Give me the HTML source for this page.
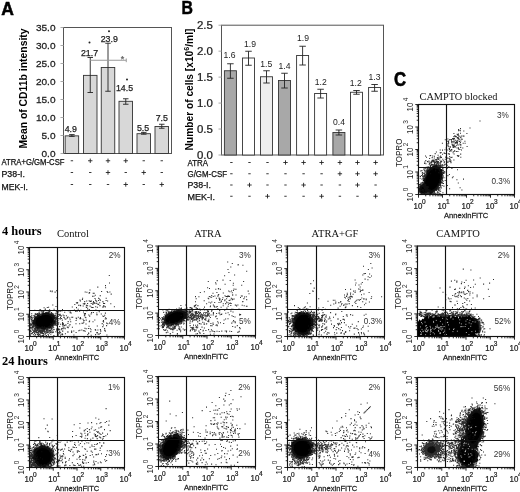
<!DOCTYPE html>
<html><head><meta charset="utf-8"><title>Figure</title>
<style>html,body{margin:0;padding:0;background:#fff}svg{display:block;filter:blur(0.35px)}</style></head>
<body><svg width="520" height="492" viewBox="0 0 520 492">
<defs><filter id="bl" x="-30%" y="-30%" width="160%" height="160%"><feGaussianBlur stdDeviation="0.5"/></filter></defs>
<rect width="520" height="492" fill="#fff"/>
<text x="1.20" y="15.30" font-family="Liberation Sans, Arial, sans-serif" font-size="17.5" font-weight="bold" text-anchor="start" fill="#000" stroke="#000" stroke-width="0.5">A</text>
<rect x="63.50" y="27.50" width="108.00" height="126.00" fill="none" stroke="#555" stroke-width="1"/>
<line x1="60.50" y1="153.50" x2="63.50" y2="153.50" stroke="#aaa" stroke-width="1"/>
<text transform="translate(55.50 156.87) scale(1.07 1)" font-family="Liberation Sans, Arial, sans-serif" font-size="9.4" font-weight="normal" text-anchor="end" fill="#222"  stroke="#222" stroke-width="0.25">0.0</text>
<line x1="60.50" y1="135.50" x2="63.50" y2="135.50" stroke="#aaa" stroke-width="1"/>
<text transform="translate(55.50 138.87) scale(1.07 1)" font-family="Liberation Sans, Arial, sans-serif" font-size="9.4" font-weight="normal" text-anchor="end" fill="#222"  stroke="#222" stroke-width="0.25">5.0</text>
<line x1="60.50" y1="117.50" x2="63.50" y2="117.50" stroke="#aaa" stroke-width="1"/>
<text transform="translate(55.50 120.87) scale(1.07 1)" font-family="Liberation Sans, Arial, sans-serif" font-size="9.4" font-weight="normal" text-anchor="end" fill="#222"  stroke="#222" stroke-width="0.25">10.0</text>
<line x1="60.50" y1="99.50" x2="63.50" y2="99.50" stroke="#aaa" stroke-width="1"/>
<text transform="translate(55.50 102.87) scale(1.07 1)" font-family="Liberation Sans, Arial, sans-serif" font-size="9.4" font-weight="normal" text-anchor="end" fill="#222"  stroke="#222" stroke-width="0.25">15.0</text>
<line x1="60.50" y1="81.50" x2="63.50" y2="81.50" stroke="#aaa" stroke-width="1"/>
<text transform="translate(55.50 84.87) scale(1.07 1)" font-family="Liberation Sans, Arial, sans-serif" font-size="9.4" font-weight="normal" text-anchor="end" fill="#222"  stroke="#222" stroke-width="0.25">20.0</text>
<line x1="60.50" y1="63.50" x2="63.50" y2="63.50" stroke="#aaa" stroke-width="1"/>
<text transform="translate(55.50 66.87) scale(1.07 1)" font-family="Liberation Sans, Arial, sans-serif" font-size="9.4" font-weight="normal" text-anchor="end" fill="#222"  stroke="#222" stroke-width="0.25">25.0</text>
<line x1="60.50" y1="45.50" x2="63.50" y2="45.50" stroke="#aaa" stroke-width="1"/>
<text transform="translate(55.50 48.87) scale(1.07 1)" font-family="Liberation Sans, Arial, sans-serif" font-size="9.4" font-weight="normal" text-anchor="end" fill="#222"  stroke="#222" stroke-width="0.25">30.0</text>
<line x1="60.50" y1="27.50" x2="63.50" y2="27.50" stroke="#aaa" stroke-width="1"/>
<text transform="translate(55.50 30.87) scale(1.07 1)" font-family="Liberation Sans, Arial, sans-serif" font-size="9.4" font-weight="normal" text-anchor="end" fill="#222"  stroke="#222" stroke-width="0.25">35.0</text>
<text transform="translate(26.50 88.50) rotate(-90) scale(1.0 1)" font-family="Liberation Sans, Arial, sans-serif" font-size="10.4" font-weight="bold" text-anchor="middle" fill="#000">Mean of CD11b intensity</text>
<rect x="65.15" y="135.86" width="13.50" height="17.64" fill="#d8d8d8" stroke="#333" stroke-width="0.9"/>
<line x1="71.90" y1="134.60" x2="71.90" y2="136.40" stroke="#222" stroke-width="0.9"/>
<line x1="69.15" y1="134.60" x2="74.65" y2="134.60" stroke="#222" stroke-width="0.9"/>
<line x1="69.15" y1="136.40" x2="74.65" y2="136.40" stroke="#222" stroke-width="0.9"/>
<text x="70.75" y="131.90" font-family="Liberation Sans, Arial, sans-serif" font-size="8.8" font-weight="normal" text-anchor="middle" fill="#222"  stroke="#222" stroke-width="0.25">4.9</text>
<rect x="83.50" y="75.38" width="13.50" height="78.12" fill="#d8d8d8" stroke="#333" stroke-width="0.9"/>
<line x1="90.25" y1="57.50" x2="90.25" y2="92.50" stroke="#222" stroke-width="0.9"/>
<line x1="87.50" y1="57.50" x2="93.00" y2="57.50" stroke="#222" stroke-width="0.9"/>
<line x1="87.50" y1="92.50" x2="93.00" y2="92.50" stroke="#222" stroke-width="0.9"/>
<text x="89.50" y="56.15" font-family="Liberation Sans, Arial, sans-serif" font-size="8.8" font-weight="normal" text-anchor="middle" fill="#222"  stroke="#222" stroke-width="0.25">21.7</text>
<rect x="101.25" y="67.46" width="13.50" height="86.04" fill="#d8d8d8" stroke="#333" stroke-width="0.9"/>
<line x1="108.00" y1="43.25" x2="108.00" y2="91.25" stroke="#222" stroke-width="0.9"/>
<line x1="105.25" y1="43.25" x2="110.75" y2="43.25" stroke="#222" stroke-width="0.9"/>
<line x1="105.25" y1="91.25" x2="110.75" y2="91.25" stroke="#222" stroke-width="0.9"/>
<text x="109.25" y="41.90" font-family="Liberation Sans, Arial, sans-serif" font-size="8.8" font-weight="normal" text-anchor="middle" fill="#222"  stroke="#222" stroke-width="0.25">23.9</text>
<rect x="119.00" y="101.30" width="13.50" height="52.20" fill="#d8d8d8" stroke="#333" stroke-width="0.9"/>
<line x1="125.75" y1="98.75" x2="125.75" y2="104.25" stroke="#222" stroke-width="0.9"/>
<line x1="123.00" y1="98.75" x2="128.50" y2="98.75" stroke="#222" stroke-width="0.9"/>
<line x1="123.00" y1="104.25" x2="128.50" y2="104.25" stroke="#222" stroke-width="0.9"/>
<text x="124.50" y="91.40" font-family="Liberation Sans, Arial, sans-serif" font-size="8.8" font-weight="normal" text-anchor="middle" fill="#222"  stroke="#222" stroke-width="0.25">14.5</text>
<rect x="137.00" y="133.70" width="13.50" height="19.80" fill="#d8d8d8" stroke="#333" stroke-width="0.9"/>
<line x1="143.75" y1="132.40" x2="143.75" y2="134.20" stroke="#222" stroke-width="0.9"/>
<line x1="141.00" y1="132.40" x2="146.50" y2="132.40" stroke="#222" stroke-width="0.9"/>
<line x1="141.00" y1="134.20" x2="146.50" y2="134.20" stroke="#222" stroke-width="0.9"/>
<text x="143.00" y="130.65" font-family="Liberation Sans, Arial, sans-serif" font-size="8.8" font-weight="normal" text-anchor="middle" fill="#222"  stroke="#222" stroke-width="0.25">5.5</text>
<rect x="155.00" y="126.50" width="13.50" height="27.00" fill="#d8d8d8" stroke="#333" stroke-width="0.9"/>
<line x1="161.75" y1="124.25" x2="161.75" y2="128.25" stroke="#222" stroke-width="0.9"/>
<line x1="159.00" y1="124.25" x2="164.50" y2="124.25" stroke="#222" stroke-width="0.9"/>
<line x1="159.00" y1="128.25" x2="164.50" y2="128.25" stroke="#222" stroke-width="0.9"/>
<text x="161.75" y="120.65" font-family="Liberation Sans, Arial, sans-serif" font-size="8.8" font-weight="normal" text-anchor="middle" fill="#222"  stroke="#222" stroke-width="0.25">7.5</text>
<line x1="90.25" y1="60.25" x2="126.25" y2="60.25" stroke="#999" stroke-width="1"/>
<line x1="126.25" y1="58.50" x2="126.25" y2="62.20" stroke="#999" stroke-width="1"/>
<text x="122.50" y="61.50" font-family="Liberation Sans, Arial, sans-serif" font-size="9" font-weight="normal" text-anchor="middle" fill="#666"  stroke="#666" stroke-width="0.25">*</text>
<circle cx="89.5" cy="42.5" r="1.0" fill="#222"/>
<circle cx="109" cy="31.25" r="1.0" fill="#222"/>
<circle cx="127" cy="79.5" r="1.0" fill="#222"/>
<text x="1.50" y="164.83" font-family="Liberation Sans, Arial, sans-serif" font-size="8.6" font-weight="normal" text-anchor="start" fill="#111" textLength="63" lengthAdjust="spacingAndGlyphs" stroke="#111" stroke-width="0.25">ATRA+G/GM-CSF</text>
<text x="1.50" y="177.04" font-family="Liberation Sans, Arial, sans-serif" font-size="9.2" font-weight="normal" text-anchor="start" fill="#111" textLength="23.5" lengthAdjust="spacingAndGlyphs" stroke="#111" stroke-width="0.25">P38-I.</text>
<text x="1.50" y="189.54" font-family="Liberation Sans, Arial, sans-serif" font-size="9.2" font-weight="normal" text-anchor="start" fill="#111" textLength="26.5" lengthAdjust="spacingAndGlyphs" stroke="#111" stroke-width="0.25">MEK-I.</text>
<line x1="70.70" y1="160.75" x2="73.10" y2="160.75" stroke="#222" stroke-width="0.9"/>
<line x1="88.05" y1="160.75" x2="92.45" y2="160.75" stroke="#222" stroke-width="0.9"/>
<line x1="90.25" y1="158.55" x2="90.25" y2="162.95" stroke="#222" stroke-width="0.9"/>
<line x1="105.80" y1="160.75" x2="110.20" y2="160.75" stroke="#222" stroke-width="0.9"/>
<line x1="108.00" y1="158.55" x2="108.00" y2="162.95" stroke="#222" stroke-width="0.9"/>
<line x1="123.55" y1="160.75" x2="127.95" y2="160.75" stroke="#222" stroke-width="0.9"/>
<line x1="125.75" y1="158.55" x2="125.75" y2="162.95" stroke="#222" stroke-width="0.9"/>
<line x1="142.55" y1="160.75" x2="144.95" y2="160.75" stroke="#222" stroke-width="0.9"/>
<line x1="160.55" y1="160.75" x2="162.95" y2="160.75" stroke="#222" stroke-width="0.9"/>
<line x1="70.70" y1="172.50" x2="73.10" y2="172.50" stroke="#222" stroke-width="0.9"/>
<line x1="89.05" y1="172.50" x2="91.45" y2="172.50" stroke="#222" stroke-width="0.9"/>
<line x1="105.80" y1="172.50" x2="110.20" y2="172.50" stroke="#222" stroke-width="0.9"/>
<line x1="108.00" y1="170.30" x2="108.00" y2="174.70" stroke="#222" stroke-width="0.9"/>
<line x1="124.55" y1="172.50" x2="126.95" y2="172.50" stroke="#222" stroke-width="0.9"/>
<line x1="141.55" y1="172.50" x2="145.95" y2="172.50" stroke="#222" stroke-width="0.9"/>
<line x1="143.75" y1="170.30" x2="143.75" y2="174.70" stroke="#222" stroke-width="0.9"/>
<line x1="160.55" y1="172.50" x2="162.95" y2="172.50" stroke="#222" stroke-width="0.9"/>
<line x1="70.70" y1="184.50" x2="73.10" y2="184.50" stroke="#222" stroke-width="0.9"/>
<line x1="89.05" y1="184.50" x2="91.45" y2="184.50" stroke="#222" stroke-width="0.9"/>
<line x1="106.80" y1="184.50" x2="109.20" y2="184.50" stroke="#222" stroke-width="0.9"/>
<line x1="123.55" y1="184.50" x2="127.95" y2="184.50" stroke="#222" stroke-width="0.9"/>
<line x1="125.75" y1="182.30" x2="125.75" y2="186.70" stroke="#222" stroke-width="0.9"/>
<line x1="142.55" y1="184.50" x2="144.95" y2="184.50" stroke="#222" stroke-width="0.9"/>
<line x1="159.55" y1="184.50" x2="163.95" y2="184.50" stroke="#222" stroke-width="0.9"/>
<line x1="161.75" y1="182.30" x2="161.75" y2="186.70" stroke="#222" stroke-width="0.9"/>
<text transform="translate(181.40 13.60) scale(0.9 1)" font-family="Liberation Sans, Arial, sans-serif" font-size="17.6" font-weight="bold" text-anchor="start" fill="#000" stroke="#000" stroke-width="0.5">B</text>
<rect x="221.50" y="25.20" width="162.00" height="129.80" fill="none" stroke="#555" stroke-width="1"/>
<line x1="218.50" y1="155.00" x2="221.50" y2="155.00" stroke="#aaa" stroke-width="1"/>
<text transform="translate(212.80 158.72) scale(1.1 1)" font-family="Liberation Sans, Arial, sans-serif" font-size="10.4" font-weight="normal" text-anchor="end" fill="#222"  stroke="#222" stroke-width="0.25">0.0</text>
<line x1="218.50" y1="129.04" x2="221.50" y2="129.04" stroke="#aaa" stroke-width="1"/>
<text transform="translate(212.80 132.76) scale(1.1 1)" font-family="Liberation Sans, Arial, sans-serif" font-size="10.4" font-weight="normal" text-anchor="end" fill="#222"  stroke="#222" stroke-width="0.25">0.5</text>
<line x1="218.50" y1="103.08" x2="221.50" y2="103.08" stroke="#aaa" stroke-width="1"/>
<text transform="translate(212.80 106.80) scale(1.1 1)" font-family="Liberation Sans, Arial, sans-serif" font-size="10.4" font-weight="normal" text-anchor="end" fill="#222"  stroke="#222" stroke-width="0.25">1.0</text>
<line x1="218.50" y1="77.12" x2="221.50" y2="77.12" stroke="#aaa" stroke-width="1"/>
<text transform="translate(212.80 80.84) scale(1.1 1)" font-family="Liberation Sans, Arial, sans-serif" font-size="10.4" font-weight="normal" text-anchor="end" fill="#222"  stroke="#222" stroke-width="0.25">1.5</text>
<line x1="218.50" y1="51.16" x2="221.50" y2="51.16" stroke="#aaa" stroke-width="1"/>
<text transform="translate(212.80 54.88) scale(1.1 1)" font-family="Liberation Sans, Arial, sans-serif" font-size="10.4" font-weight="normal" text-anchor="end" fill="#222"  stroke="#222" stroke-width="0.25">2.0</text>
<line x1="218.50" y1="25.20" x2="221.50" y2="25.20" stroke="#aaa" stroke-width="1"/>
<text transform="translate(212.80 28.92) scale(1.1 1)" font-family="Liberation Sans, Arial, sans-serif" font-size="10.4" font-weight="normal" text-anchor="end" fill="#222"  stroke="#222" stroke-width="0.25">2.5</text>
<text transform="translate(193.00 89.50) rotate(-90) scale(1.0 1)" font-family="Liberation Sans, Arial, sans-serif" font-size="10.2" font-weight="bold" text-anchor="middle" fill="#000">Number of cells [x10<tspan font-size="7.2" dy="-3.6">6</tspan><tspan dy="3.6">/ml]</tspan></text>
<rect x="224.40" y="70.75" width="12.00" height="84.25" fill="#a8a8a8" stroke="#333" stroke-width="0.9"/>
<line x1="230.40" y1="63.75" x2="230.40" y2="78.25" stroke="#222" stroke-width="0.9"/>
<line x1="227.15" y1="63.75" x2="233.65" y2="63.75" stroke="#222" stroke-width="0.9"/>
<line x1="227.15" y1="78.25" x2="233.65" y2="78.25" stroke="#222" stroke-width="0.9"/>
<text x="229.50" y="57.98" font-family="Liberation Sans, Arial, sans-serif" font-size="8.6" font-weight="normal" text-anchor="middle" fill="#222" >1.6</text>
<rect x="242.50" y="58.00" width="12.00" height="97.00" fill="#fff" stroke="#333" stroke-width="0.9"/>
<line x1="248.50" y1="51.25" x2="248.50" y2="65.25" stroke="#222" stroke-width="0.9"/>
<line x1="245.25" y1="51.25" x2="251.75" y2="51.25" stroke="#222" stroke-width="0.9"/>
<line x1="245.25" y1="65.25" x2="251.75" y2="65.25" stroke="#222" stroke-width="0.9"/>
<text x="250.00" y="46.98" font-family="Liberation Sans, Arial, sans-serif" font-size="8.6" font-weight="normal" text-anchor="middle" fill="#222" >1.9</text>
<rect x="260.50" y="76.75" width="12.00" height="78.25" fill="#eeeeee" stroke="#333" stroke-width="0.9"/>
<line x1="266.50" y1="70.75" x2="266.50" y2="83.00" stroke="#222" stroke-width="0.9"/>
<line x1="263.25" y1="70.75" x2="269.75" y2="70.75" stroke="#222" stroke-width="0.9"/>
<line x1="263.25" y1="83.00" x2="269.75" y2="83.00" stroke="#222" stroke-width="0.9"/>
<text x="266.25" y="66.98" font-family="Liberation Sans, Arial, sans-serif" font-size="8.6" font-weight="normal" text-anchor="middle" fill="#222" >1.5</text>
<rect x="278.50" y="80.50" width="12.00" height="74.50" fill="#a8a8a8" stroke="#333" stroke-width="0.9"/>
<line x1="284.50" y1="73.25" x2="284.50" y2="88.00" stroke="#222" stroke-width="0.9"/>
<line x1="281.25" y1="73.25" x2="287.75" y2="73.25" stroke="#222" stroke-width="0.9"/>
<line x1="281.25" y1="88.00" x2="287.75" y2="88.00" stroke="#222" stroke-width="0.9"/>
<text x="284.50" y="69.48" font-family="Liberation Sans, Arial, sans-serif" font-size="8.6" font-weight="normal" text-anchor="middle" fill="#222" >1.4</text>
<rect x="296.60" y="55.50" width="12.00" height="99.50" fill="#fff" stroke="#333" stroke-width="0.9"/>
<line x1="302.60" y1="46.25" x2="302.60" y2="65.00" stroke="#222" stroke-width="0.9"/>
<line x1="299.35" y1="46.25" x2="305.85" y2="46.25" stroke="#222" stroke-width="0.9"/>
<line x1="299.35" y1="65.00" x2="305.85" y2="65.00" stroke="#222" stroke-width="0.9"/>
<text x="303.00" y="41.23" font-family="Liberation Sans, Arial, sans-serif" font-size="8.6" font-weight="normal" text-anchor="middle" fill="#222" >1.9</text>
<rect x="314.60" y="93.50" width="12.00" height="61.50" fill="#fff" stroke="#333" stroke-width="0.9"/>
<line x1="320.60" y1="89.25" x2="320.60" y2="98.00" stroke="#222" stroke-width="0.9"/>
<line x1="317.35" y1="89.25" x2="323.85" y2="89.25" stroke="#222" stroke-width="0.9"/>
<line x1="317.35" y1="98.00" x2="323.85" y2="98.00" stroke="#222" stroke-width="0.9"/>
<text x="320.75" y="84.98" font-family="Liberation Sans, Arial, sans-serif" font-size="8.6" font-weight="normal" text-anchor="middle" fill="#222" >1.2</text>
<rect x="332.90" y="132.50" width="12.00" height="22.50" fill="#a8a8a8" stroke="#333" stroke-width="0.9"/>
<line x1="338.90" y1="130.00" x2="338.90" y2="135.00" stroke="#222" stroke-width="0.9"/>
<line x1="335.65" y1="130.00" x2="342.15" y2="130.00" stroke="#222" stroke-width="0.9"/>
<line x1="335.65" y1="135.00" x2="342.15" y2="135.00" stroke="#222" stroke-width="0.9"/>
<text x="339.00" y="124.98" font-family="Liberation Sans, Arial, sans-serif" font-size="8.6" font-weight="normal" text-anchor="middle" fill="#222" >0.4</text>
<rect x="350.50" y="92.25" width="12.00" height="62.75" fill="#fff" stroke="#333" stroke-width="0.9"/>
<line x1="356.50" y1="90.50" x2="356.50" y2="94.25" stroke="#222" stroke-width="0.9"/>
<line x1="353.25" y1="90.50" x2="359.75" y2="90.50" stroke="#222" stroke-width="0.9"/>
<line x1="353.25" y1="94.25" x2="359.75" y2="94.25" stroke="#222" stroke-width="0.9"/>
<text x="355.75" y="86.23" font-family="Liberation Sans, Arial, sans-serif" font-size="8.6" font-weight="normal" text-anchor="middle" fill="#222" >1.2</text>
<rect x="368.60" y="87.50" width="12.00" height="67.50" fill="#fff" stroke="#333" stroke-width="0.9"/>
<line x1="374.60" y1="84.50" x2="374.60" y2="91.25" stroke="#222" stroke-width="0.9"/>
<line x1="371.35" y1="84.50" x2="377.85" y2="84.50" stroke="#222" stroke-width="0.9"/>
<line x1="371.35" y1="91.25" x2="377.85" y2="91.25" stroke="#222" stroke-width="0.9"/>
<text x="374.50" y="79.98" font-family="Liberation Sans, Arial, sans-serif" font-size="8.6" font-weight="normal" text-anchor="middle" fill="#222" >1.3</text>
<text x="187.50" y="165.58" font-family="Liberation Sans, Arial, sans-serif" font-size="8.6" font-weight="normal" text-anchor="start" fill="#111" textLength="20.5" lengthAdjust="spacingAndGlyphs" stroke="#111" stroke-width="0.25">ATRA</text>
<text x="187.50" y="176.83" font-family="Liberation Sans, Arial, sans-serif" font-size="8.6" font-weight="normal" text-anchor="start" fill="#111" textLength="39.5" lengthAdjust="spacingAndGlyphs" stroke="#111" stroke-width="0.25">G/GM-CSF</text>
<text x="187.50" y="188.29" font-family="Liberation Sans, Arial, sans-serif" font-size="9.2" font-weight="normal" text-anchor="start" fill="#111" textLength="23.5" lengthAdjust="spacingAndGlyphs" stroke="#111" stroke-width="0.25">P38-I.</text>
<text x="187.50" y="199.54" font-family="Liberation Sans, Arial, sans-serif" font-size="9.2" font-weight="normal" text-anchor="start" fill="#111" textLength="27.5" lengthAdjust="spacingAndGlyphs" stroke="#111" stroke-width="0.25">MEK-I.</text>
<line x1="230.20" y1="162.50" x2="232.60" y2="162.50" stroke="#222" stroke-width="0.9"/>
<line x1="248.30" y1="162.50" x2="250.70" y2="162.50" stroke="#222" stroke-width="0.9"/>
<line x1="266.30" y1="162.50" x2="268.70" y2="162.50" stroke="#222" stroke-width="0.9"/>
<line x1="283.30" y1="162.50" x2="287.70" y2="162.50" stroke="#222" stroke-width="0.9"/>
<line x1="285.50" y1="160.30" x2="285.50" y2="164.70" stroke="#222" stroke-width="0.9"/>
<line x1="301.40" y1="162.50" x2="305.80" y2="162.50" stroke="#222" stroke-width="0.9"/>
<line x1="303.60" y1="160.30" x2="303.60" y2="164.70" stroke="#222" stroke-width="0.9"/>
<line x1="319.40" y1="162.50" x2="323.80" y2="162.50" stroke="#222" stroke-width="0.9"/>
<line x1="321.60" y1="160.30" x2="321.60" y2="164.70" stroke="#222" stroke-width="0.9"/>
<line x1="337.70" y1="162.50" x2="342.10" y2="162.50" stroke="#222" stroke-width="0.9"/>
<line x1="339.90" y1="160.30" x2="339.90" y2="164.70" stroke="#222" stroke-width="0.9"/>
<line x1="355.30" y1="162.50" x2="359.70" y2="162.50" stroke="#222" stroke-width="0.9"/>
<line x1="357.50" y1="160.30" x2="357.50" y2="164.70" stroke="#222" stroke-width="0.9"/>
<line x1="373.40" y1="162.50" x2="377.80" y2="162.50" stroke="#222" stroke-width="0.9"/>
<line x1="375.60" y1="160.30" x2="375.60" y2="164.70" stroke="#222" stroke-width="0.9"/>
<line x1="230.20" y1="173.75" x2="232.60" y2="173.75" stroke="#222" stroke-width="0.9"/>
<line x1="248.30" y1="173.75" x2="250.70" y2="173.75" stroke="#222" stroke-width="0.9"/>
<line x1="266.30" y1="173.75" x2="268.70" y2="173.75" stroke="#222" stroke-width="0.9"/>
<line x1="284.30" y1="173.75" x2="286.70" y2="173.75" stroke="#222" stroke-width="0.9"/>
<line x1="302.40" y1="173.75" x2="304.80" y2="173.75" stroke="#222" stroke-width="0.9"/>
<line x1="320.40" y1="173.75" x2="322.80" y2="173.75" stroke="#222" stroke-width="0.9"/>
<line x1="337.70" y1="173.75" x2="342.10" y2="173.75" stroke="#222" stroke-width="0.9"/>
<line x1="339.90" y1="171.55" x2="339.90" y2="175.95" stroke="#222" stroke-width="0.9"/>
<line x1="355.30" y1="173.75" x2="359.70" y2="173.75" stroke="#222" stroke-width="0.9"/>
<line x1="357.50" y1="171.55" x2="357.50" y2="175.95" stroke="#222" stroke-width="0.9"/>
<line x1="373.40" y1="173.75" x2="377.80" y2="173.75" stroke="#222" stroke-width="0.9"/>
<line x1="375.60" y1="171.55" x2="375.60" y2="175.95" stroke="#222" stroke-width="0.9"/>
<line x1="230.20" y1="185.00" x2="232.60" y2="185.00" stroke="#222" stroke-width="0.9"/>
<line x1="247.30" y1="185.00" x2="251.70" y2="185.00" stroke="#222" stroke-width="0.9"/>
<line x1="249.50" y1="182.80" x2="249.50" y2="187.20" stroke="#222" stroke-width="0.9"/>
<line x1="266.30" y1="185.00" x2="268.70" y2="185.00" stroke="#222" stroke-width="0.9"/>
<line x1="284.30" y1="185.00" x2="286.70" y2="185.00" stroke="#222" stroke-width="0.9"/>
<line x1="301.40" y1="185.00" x2="305.80" y2="185.00" stroke="#222" stroke-width="0.9"/>
<line x1="303.60" y1="182.80" x2="303.60" y2="187.20" stroke="#222" stroke-width="0.9"/>
<line x1="320.40" y1="185.00" x2="322.80" y2="185.00" stroke="#222" stroke-width="0.9"/>
<line x1="338.70" y1="185.00" x2="341.10" y2="185.00" stroke="#222" stroke-width="0.9"/>
<line x1="355.30" y1="185.00" x2="359.70" y2="185.00" stroke="#222" stroke-width="0.9"/>
<line x1="357.50" y1="182.80" x2="357.50" y2="187.20" stroke="#222" stroke-width="0.9"/>
<line x1="374.40" y1="185.00" x2="376.80" y2="185.00" stroke="#222" stroke-width="0.9"/>
<line x1="230.20" y1="196.25" x2="232.60" y2="196.25" stroke="#222" stroke-width="0.9"/>
<line x1="248.30" y1="196.25" x2="250.70" y2="196.25" stroke="#222" stroke-width="0.9"/>
<line x1="265.30" y1="196.25" x2="269.70" y2="196.25" stroke="#222" stroke-width="0.9"/>
<line x1="267.50" y1="194.05" x2="267.50" y2="198.45" stroke="#222" stroke-width="0.9"/>
<line x1="284.30" y1="196.25" x2="286.70" y2="196.25" stroke="#222" stroke-width="0.9"/>
<line x1="302.40" y1="196.25" x2="304.80" y2="196.25" stroke="#222" stroke-width="0.9"/>
<line x1="319.40" y1="196.25" x2="323.80" y2="196.25" stroke="#222" stroke-width="0.9"/>
<line x1="321.60" y1="194.05" x2="321.60" y2="198.45" stroke="#222" stroke-width="0.9"/>
<line x1="338.70" y1="196.25" x2="341.10" y2="196.25" stroke="#222" stroke-width="0.9"/>
<line x1="356.30" y1="196.25" x2="358.70" y2="196.25" stroke="#222" stroke-width="0.9"/>
<line x1="373.40" y1="196.25" x2="377.80" y2="196.25" stroke="#222" stroke-width="0.9"/>
<line x1="375.60" y1="194.05" x2="375.60" y2="198.45" stroke="#222" stroke-width="0.9"/>
<text transform="translate(394.00 86.00) scale(0.86 1)" font-family="Liberation Sans, Arial, sans-serif" font-size="19.5" font-weight="bold" text-anchor="start" fill="#000" stroke="#000" stroke-width="0.6">C</text>
<clipPath id="c199"><rect x="418.5" y="104.5" width="96" height="90"/></clipPath><g clip-path="url(#c199)">
<path d="M441.3 182.0L440.7 183.3L439.1 183.7L439.3 185.4L438.3 185.9L437.7 187.0L437.5 188.8L436.7 189.6L435.9 190.5L434.9 190.3L434.2 191.5L433.3 191.4L432.5 192.9L431.6 193.5L430.6 194.7L429.7 194.3L429.4 192.2L428.6 192.4L428.0 191.6L426.9 192.4L425.4 193.3L425.4 191.5L426.4 188.5L425.5 188.5L425.1 187.6L423.7 187.8L423.8 186.4L423.4 185.4L422.4 184.8L424.1 182.7L424.1 181.6L422.5 180.6L423.7 179.2L424.7 178.0L425.8 177.0L425.9 175.8L426.8 175.1L426.1 173.0L426.7 171.9L427.1 170.3L428.2 170.0L429.1 169.5L429.9 168.8L430.2 166.0L431.5 168.5L432.2 166.3L433.1 166.0L434.0 165.2L434.7 166.0L435.7 165.1L436.6 164.8L437.1 165.9L437.8 166.5L438.5 166.7L438.8 167.9L439.7 167.8L440.2 168.6L441.0 169.1L442.0 169.3L442.4 170.4L441.5 172.4L442.4 173.0L442.3 174.3L442.6 175.5L442.0 176.9L442.0 178.1L441.4 179.4L440.9 180.6Z" fill="#050505" filter="url(#bl)"/>
<path d="M428.3 189.5L428.2 190.9L427.4 192.2L426.4 193.1L425.2 193.8L423.8 193.8L422.6 193.3L421.1 193.6L420.2 192.6L419.6 191.4L419.4 190.1L418.7 188.8L420.0 187.8L419.8 186.1L421.1 185.4L422.3 184.4L423.8 185.2L425.1 185.3L426.2 186.1L427.3 186.9L427.7 188.2Z" fill="#050505" filter="url(#bl)"/>
<path d="M426.3 188.6h0M431.8 168.8h0M426.4 174.1h0M438.7 186.4h0M439.3 184.7h0M437.5 186.1h0M421.6 183.9h0M435.2 189.3h0M429.1 162.3h0M428.0 171.3h0M440.1 179.8h0M440.5 171.4h0M434.1 189.7h0M424.4 193.2h0M432.3 192.8h0M431.1 168.2h0M427.4 173.9h0M438.0 185.8h0M433.3 166.7h0M425.5 190.8h0M424.6 180.5h0M439.8 166.0h0M428.7 193.0h0M423.4 173.2h0M435.8 167.0h0M440.1 180.1h0M422.3 184.2h0M433.9 191.5h0M440.1 185.5h0M438.0 166.0h0M440.8 172.4h0M434.2 165.4h0M428.0 170.9h0M444.6 164.8h0M423.5 178.8h0M439.3 187.4h0M430.1 155.6h0M439.5 169.5h0M423.2 186.6h0M439.9 183.6h0M433.0 190.4h0M439.7 187.7h0M435.0 189.6h0M421.2 187.5h0M437.6 187.7h0M424.5 170.7h0M442.2 165.3h0M427.4 191.3h0M421.7 190.7h0M440.5 178.5h0M432.6 191.0h0M429.4 192.5h0M428.7 170.9h0M440.4 182.1h0M424.0 187.4h0M442.6 177.8h0M424.8 175.2h0M433.0 168.3h0M443.4 172.6h0M443.2 170.3h0M424.3 185.2h0M436.8 190.0h0M437.7 185.7h0M431.0 191.1h0M426.1 187.6h0M439.8 181.6h0M436.4 188.7h0M442.2 185.4h0M430.0 170.0h0M428.7 191.6h0M425.4 186.5h0M448.8 161.2h0M424.2 179.6h0M436.8 187.1h0M425.6 188.0h0M439.5 170.2h0M443.9 186.1h0M426.6 175.0h0M427.3 174.2h0M420.7 171.0h0M442.2 170.1h0M428.2 191.5h0M433.1 193.1h0M424.6 173.1h0M426.0 188.6h0M445.3 159.2h0M442.7 168.4h0M441.1 166.8h0M429.7 192.8h0M425.8 186.7h0M439.3 183.7h0M427.6 193.7h0M441.4 178.3h0M449.4 174.4h0M441.2 178.2h0M430.3 191.4h0M431.5 191.2h0M429.2 164.2h0M440.6 169.7h0M431.5 164.5h0M437.9 189.0h0M443.5 173.5h0M437.0 166.3h0M432.3 192.8h0M423.6 191.5h0M441.0 179.5h0M419.3 187.6h0M435.4 167.5h0M435.0 189.2h0M443.7 172.9h0M434.6 193.1h0M441.9 180.3h0M424.5 188.6h0M434.7 188.9h0M442.1 179.5h0M422.4 172.4h0M421.0 183.1h0M439.5 169.9h0M428.8 191.4h0M428.9 193.1h0M428.2 191.8h0M436.0 193.3h0M424.7 188.0h0M426.3 167.2h0M420.1 184.9h0M424.8 176.5h0M426.7 175.5h0M424.8 181.5h0M442.3 182.8h0M432.8 192.0h0M435.9 165.6h0M425.3 189.9h0M425.6 171.1h0M436.5 189.7h0M429.0 191.4h0M438.2 166.6h0M426.1 170.7h0M441.6 174.8h0M429.5 168.8h0M424.4 175.3h0M423.8 180.7h0M420.2 178.2h0M434.8 161.8h0M441.0 177.2h0M424.1 168.6h0M439.7 170.8h0M435.5 190.0h0M437.6 186.6h0M438.5 188.2h0M440.7 162.6h0M433.9 193.2h0M432.2 168.3h0M447.0 168.1h0M428.7 193.3h0M423.9 185.0h0M443.0 181.5h0M433.4 191.5h0M425.8 175.7h0M431.5 191.6h0M435.2 168.0h0M426.9 172.7h0M439.7 183.1h0M430.1 168.2h0M442.9 192.8h0M442.8 159.3h0M436.2 188.5h0M440.7 186.1h0M428.2 190.4h0M420.2 184.7h0M439.4 169.4h0M434.6 193.3h0M426.8 170.4h0M436.6 187.2h0M433.7 166.6h0M440.6 191.2h0M430.3 165.4h0M438.9 190.6h0M440.0 189.3h0M424.5 180.5h0M424.0 169.6h0M428.3 190.5h0M426.4 175.0h0M435.8 188.4h0M438.4 185.2h0M426.4 189.6h0M437.2 167.4h0M425.7 177.0h0M426.0 187.2h0M429.2 190.4h0M436.3 165.6h0M431.8 192.3h0M440.6 176.8h0M439.8 168.8h0M422.7 176.6h0M423.9 185.5h0M434.4 156.2h0M422.9 191.2h0M434.9 165.0h0M424.4 184.3h0M438.1 185.3h0M438.9 188.5h0M428.8 190.8h0M438.7 190.5h0M442.2 170.8h0M427.6 190.5h0M426.7 191.1h0M433.6 191.4h0M425.0 193.4h0M441.6 179.6h0M426.4 193.4h0M426.3 189.9h0M440.3 181.8h0M424.3 178.8h0M431.1 192.6h0M439.9 182.0h0M437.1 188.1h0M438.4 184.3h0M426.8 189.7h0M428.1 170.2h0M437.5 165.1h0M436.1 161.6h0M424.6 185.3h0M440.1 180.5h0M435.9 164.9h0M440.9 186.9h0M442.3 172.6h0M437.0 163.0h0M434.6 191.2h0M423.0 175.6h0M441.1 165.1h0M426.4 167.4h0M433.5 164.8h0M430.1 190.7h0M434.8 190.1h0M437.4 191.9h0M426.5 171.7h0M430.0 167.0h0M425.9 177.9h0M440.2 165.7h0M424.8 176.4h0M432.2 168.6h0M436.1 167.2h0M437.5 186.8h0M435.7 167.3h0M439.1 156.9h0M425.1 177.3h0M423.5 178.4h0M438.2 165.7h0M431.4 169.1h0M434.0 190.3h0M436.4 167.1h0M428.2 172.7h0M438.1 186.0h0M432.8 165.1h0M433.0 167.4h0M425.4 175.4h0M425.2 179.5h0M440.7 173.8h0M445.2 180.4h0M440.1 183.2h0M444.6 161.8h0M424.7 180.8h0M429.6 193.4h0M430.5 193.2h0M434.5 191.3h0M440.6 178.1h0M440.1 168.5h0M442.7 171.9h0M428.3 192.7h0M425.8 178.1h0M440.6 182.2h0M424.6 180.7h0M434.4 190.4h0M423.9 193.1h0M442.0 182.5h0M439.6 170.8h0M443.0 175.3h0M441.0 174.2h0M424.6 186.6h0M441.1 181.9h0M424.7 187.5h0M428.1 190.0h0M437.6 191.7h0M424.1 193.6h0M428.9 191.3h0M426.0 176.2h0M419.4 191.0h0M443.5 171.0h0M429.6 163.4h0M442.0 176.9h0M435.1 167.9h0M436.1 166.2h0M437.5 165.2h0M427.7 189.7h0M440.7 176.2h0M424.8 179.1h0M425.4 192.8h0M440.5 179.9h0M432.0 167.9h0M427.1 172.6h0M433.0 190.5h0M430.0 193.5h0M425.6 177.2h0M451.9 168.4h0M425.0 180.7h0M431.8 190.7h0M426.0 187.6h0M429.4 191.4h0M425.6 168.7h0M436.9 166.6h0M423.7 183.9h0M424.7 186.2h0M438.1 186.1h0M440.4 179.2h0M424.4 176.2h0M440.4 171.9h0M428.0 190.8h0M424.1 184.8h0M444.0 177.7h0M440.1 172.8h0M440.6 185.1h0M441.6 173.4h0M428.9 171.7h0M420.1 188.3h0M442.3 165.9h0M440.6 179.5h0M435.8 188.4h0M424.8 174.5h0M442.9 176.7h0M431.2 165.2h0M423.8 180.3h0M440.7 186.1h0M428.0 192.3h0M431.4 168.2h0M435.0 189.5h0M430.6 166.4h0M435.6 188.3h0M425.3 174.6h0M424.9 185.2h0M429.5 171.0h0M426.3 190.7h0M442.3 178.4h0M441.5 172.5h0M429.6 191.4h0M442.6 178.5h0M427.0 188.9h0M424.0 176.6h0M424.6 183.0h0M432.5 161.2h0M430.2 190.7h0M425.3 188.8h0M433.4 167.7h0M440.1 165.8h0M425.8 176.6h0M440.8 179.4h0M439.3 169.6h0M429.6 192.8h0M423.1 192.9h0M425.6 177.3h0M430.0 192.2h0M432.3 160.2h0M434.2 190.8h0M428.9 193.1h0M434.2 189.4h0M438.4 186.2h0M444.7 171.6h0M440.2 149.9h0M441.2 176.4h0M431.6 193.4h0M436.3 168.1h0M432.4 167.3h0M424.7 186.3h0M432.9 190.0h0M427.5 191.0h0M440.5 178.3h0M440.6 178.9h0M422.6 190.0h0M439.9 168.9h0M439.0 185.7h0M420.6 190.1h0M431.7 191.8h0M440.4 174.3h0M421.8 185.2h0M437.1 168.4h0M438.7 183.9h0M441.0 175.6h0M438.4 161.4h0M425.6 188.2h0M442.1 178.3h0M427.3 193.4h0M426.3 189.3h0M441.9 182.7h0M442.5 174.6h0M440.4 177.5h0M429.4 192.5h0M446.4 177.7h0M424.8 185.3h0M423.8 182.5h0M440.8 176.3h0M440.4 166.0h0M441.4 166.8h0M429.5 169.8h0M426.0 189.5h0M437.8 168.7h0M431.1 193.5h0M429.3 190.6h0M439.8 184.7h0M419.9 193.0h0M448.9 166.7h0M428.5 190.4h0M436.9 188.9h0M434.9 166.2h0M429.5 192.2h0M429.7 167.4h0M438.1 162.6h0M432.4 168.3h0M440.1 170.4h0M427.6 172.0h0M436.1 167.4h0M429.0 191.2h0M434.2 192.3h0M428.1 171.4h0M419.8 190.8h0M425.8 176.4h0M440.2 167.0h0M439.9 180.9h0M422.3 178.7h0M443.8 165.8h0M438.9 184.6h0M435.4 189.0h0M441.7 179.6h0M441.3 176.2h0M441.1 171.4h0M427.2 192.6h0M440.5 177.6h0M428.4 169.1h0M430.4 192.0h0M434.3 189.9h0M428.1 193.0h0M431.8 168.4h0M439.9 182.6h0M433.1 167.8h0M426.6 189.3h0M439.3 167.1h0M437.7 185.8h0M423.7 185.4h0M431.2 169.2h0M433.3 193.3h0M424.5 183.8h0M422.3 192.9h0M425.6 190.8h0M424.8 187.7h0M450.8 161.8h0M425.3 186.6h0M435.6 167.3h0M443.5 183.5h0M421.7 183.9h0M420.9 186.1h0M425.1 179.9h0M440.5 183.2h0M430.4 162.9h0M437.6 189.0h0M424.2 187.1h0M434.1 190.3h0M422.3 173.1h0M436.3 189.6h0M443.6 160.8h0M431.5 190.9h0M447.9 175.6h0M425.6 178.3h0M441.4 175.9h0M442.3 173.7h0M439.3 170.0h0M438.1 168.3h0M421.4 186.0h0M439.5 170.1h0M430.3 192.1h0M425.7 175.4h0M435.3 189.3h0M436.8 161.1h0M439.6 185.3h0M436.7 168.2h0M439.6 170.8h0M428.8 169.3h0M430.5 168.9h0M423.4 183.5h0M423.0 183.2h0M424.1 181.1h0M440.5 184.1h0M425.4 177.8h0M438.6 164.0h0M425.0 180.1h0M425.4 179.0h0M435.1 190.2h0M437.0 188.4h0M426.3 176.4h0M431.1 169.3h0M436.8 163.5h0M426.3 176.3h0M425.3 176.5h0M440.6 178.0h0M450.2 161.1h0M436.9 163.0h0M430.6 193.0h0M420.1 176.3h0M440.8 175.4h0M441.5 161.7h0M438.1 186.5h0M436.8 167.8h0M441.0 173.9h0M439.0 169.6h0M421.6 175.4h0M430.9 191.5h0M425.6 176.4h0M438.8 184.2h0M433.7 193.1h0M433.4 161.7h0M433.0 193.0h0M436.0 190.1h0M430.9 168.3h0M441.6 171.5h0M426.3 167.9h0M440.0 193.6h0M430.6 168.5h0M438.7 168.5h0M441.3 181.2h0M423.0 189.2h0M424.9 181.3h0M436.2 168.0h0M439.4 169.5h0M429.6 158.4h0M427.8 169.5h0M426.9 188.7h0M438.8 184.0h0M429.8 168.9h0M422.5 174.4h0M434.8 189.6h0M431.9 168.9h0M440.2 181.9h0M436.2 188.9h0M429.7 193.2h0M428.8 171.1h0M430.2 168.4h0M435.8 193.4h0M429.3 190.9h0M437.2 189.6h0M443.0 170.1h0M424.6 184.3h0M441.0 183.1h0M427.4 172.3h0M431.4 167.6h0M443.1 176.3h0M427.0 193.5h0M439.4 185.5h0M424.7 184.0h0M439.8 187.7h0M440.6 183.0h0M440.7 177.2h0M431.1 193.3h0M424.5 175.9h0M439.0 169.5h0M426.4 189.7h0M441.3 187.9h0M439.4 165.4h0M442.6 183.2h0M436.8 166.3h0M436.6 166.3h0M430.2 190.9h0M429.9 190.7h0M423.9 190.8h0M434.5 162.6h0M434.9 167.1h0M426.9 172.7h0M438.9 167.0h0M427.4 193.1h0M440.6 179.0h0M440.2 173.3h0M428.5 191.0h0M438.7 159.5h0M436.6 167.0h0M440.9 172.7h0M427.7 193.2h0M430.3 166.7h0M432.2 157.6h0M422.0 179.3h0M434.7 162.3h0M422.6 182.3h0M427.8 171.9h0M430.4 193.5h0M439.8 191.0h0M434.1 189.4h0M438.0 192.8h0M425.8 187.6h0M438.8 183.5h0M434.1 165.2h0M434.4 164.1h0M438.6 187.3h0M422.4 189.4h0M442.5 164.8h0M440.0 189.3h0M446.3 172.6h0M436.0 188.4h0M435.6 188.2h0M442.7 168.0h0M430.2 165.0h0M430.7 168.8h0M436.2 187.8h0M436.9 167.7h0M425.8 189.8h0M439.5 183.2h0M426.3 193.2h0M424.9 186.7h0M441.5 178.9h0M441.5 169.7h0M439.5 184.2h0M422.2 182.5h0M423.8 189.7h0M426.8 174.3h0M440.1 172.1h0M439.2 169.7h0M439.9 181.7h0M441.1 157.3h0M440.6 182.2h0M423.0 177.0h0M432.1 192.3h0M422.8 190.9h0M425.6 192.8h0M427.6 190.3h0M434.4 166.0h0M436.5 190.4h0M438.6 189.6h0M434.5 163.5h0M430.5 168.7h0M424.2 184.6h0M440.4 173.8h0M440.3 173.8h0M431.0 191.5h0M441.8 173.8h0M421.2 188.8h0M429.4 192.4h0M424.7 173.4h0M437.6 165.2h0M425.3 187.9h0M434.0 193.5h0M432.2 164.9h0M432.9 191.7h0M438.4 166.2h0M435.3 190.3h0M440.8 173.2h0M431.8 191.5h0M435.0 162.5h0M433.7 190.1h0M428.9 191.6h0M426.4 175.4h0M426.1 188.5h0M442.5 179.9h0M438.9 192.9h0M436.5 188.7h0M442.8 180.8h0M436.1 166.3h0M431.3 193.5h0M436.0 188.4h0M425.3 184.8h0M422.1 186.1h0M434.0 166.1h0M430.6 168.0h0M434.6 191.8h0M422.5 185.4h0M441.5 174.4h0M426.8 169.8h0M424.7 182.9h0M436.5 161.6h0M438.8 165.2h0M441.8 169.4h0M431.1 167.7h0M425.3 191.2h0M436.7 188.7h0M439.3 165.4h0M430.7 169.0h0M423.9 183.0h0M430.1 168.8h0M433.1 160.7h0M432.1 193.4h0M438.1 167.4h0M420.5 176.4h0M439.7 185.0h0M433.5 193.0h0M441.8 176.9h0M436.8 189.5h0M425.3 172.7h0M424.6 175.5h0M440.4 168.9h0M420.5 186.6h0M430.4 192.6h0M422.4 186.5h0M437.7 193.3h0M425.7 186.8h0M427.6 191.4h0M440.1 182.8h0M422.7 183.8h0M421.1 192.7h0M424.3 193.2h0M427.6 187.9h0M424.5 192.5h0M420.4 192.0h0M427.1 193.3h0M425.2 185.1h0M419.5 190.4h0M424.5 193.3h0M420.7 193.2h0M425.7 184.6h0M419.5 190.3h0M419.9 188.4h0M425.6 185.9h0M425.9 186.3h0M420.7 192.3h0M420.0 191.2h0M428.5 189.6h0M422.7 193.4h0M422.1 193.6h0M419.9 191.5h0M421.3 186.0h0M428.5 187.1h0M428.6 191.4h0M427.8 186.6h0M427.0 192.7h0M421.0 186.7h0M430.2 190.0h0M421.3 186.2h0M426.6 191.8h0M424.0 193.1h0M421.3 192.7h0M427.8 186.5h0M426.4 193.5h0M419.5 186.2h0M420.6 184.3h0M424.8 184.2h0M425.1 193.1h0M419.7 188.5h0M419.9 191.7h0M419.7 188.1h0M423.9 193.3h0M419.8 189.7h0M419.7 190.3h0M419.6 189.7h0M419.7 188.1h0M429.0 189.7h0M420.6 190.4h0M420.7 184.8h0M420.5 192.5h0M427.2 188.6h0M420.4 185.9h0M428.0 190.3h0M420.9 183.7h0M419.8 192.5h0M419.4 189.2h0M426.5 187.3h0M422.6 184.9h0M420.5 192.4h0M420.6 192.7h0M419.5 188.7h0M424.5 193.6h0M419.5 191.6h0M425.4 185.9h0M425.5 185.8h0M419.5 189.4h0M419.4 189.2h0M420.5 185.2h0M421.5 193.1h0M422.1 193.4h0M420.1 185.6h0M428.3 190.7h0M426.9 186.6h0M427.3 190.7h0M427.4 189.7h0M427.6 187.3h0M420.6 185.1h0M427.4 187.0h0M420.0 186.4h0M422.0 185.2h0M421.9 185.9h0M421.4 185.8h0M423.8 185.7h0M425.1 192.9h0M424.4 183.5h0M421.2 186.1h0M425.8 184.8h0M419.8 188.0h0M422.1 193.5h0M421.7 193.4h0M419.5 184.5h0M427.8 191.0h0M427.2 190.4h0M425.2 185.3h0M427.2 187.4h0M427.7 189.9h0M419.8 186.0h0M427.8 189.0h0M420.3 191.5h0M421.1 186.4h0M425.6 192.5h0M428.3 189.6h0M428.6 193.4h0M428.4 192.5h0M426.1 192.2h0M422.7 185.6h0M423.1 185.6h0M428.4 191.1h0M422.2 184.0h0M423.0 185.8h0M420.1 185.9h0M420.0 191.1h0M423.3 193.0h0M422.7 185.9h0M428.2 189.9h0M425.0 186.1h0M421.6 193.5h0M426.3 193.4h0M419.8 189.8h0M420.4 192.9h0M427.6 168.4h0M442.6 167.3h0M430.4 169.9h0M431.7 161.0h0M428.1 170.9h0M445.9 157.0h0M431.4 163.0h0M451.0 162.6h0M432.7 155.9h0M432.0 169.8h0M447.2 158.0h0M431.9 162.0h0M424.7 170.9h0M429.5 170.0h0M425.8 160.6h0M437.7 158.9h0M440.7 161.5h0M429.0 168.2h0M441.1 152.5h0M447.0 161.6h0M440.6 153.0h0M431.7 162.8h0M442.5 154.2h0M430.7 155.5h0M434.6 165.1h0M425.9 163.7h0M439.1 169.2h0M440.0 160.3h0M428.9 161.1h0M432.0 165.0h0M435.7 170.7h0M437.7 157.5h0M445.3 164.3h0M436.6 159.5h0M424.8 162.1h0M441.5 157.5h0M428.1 166.5h0M437.5 165.3h0M439.9 168.1h0M431.0 169.2h0M430.1 168.2h0M437.1 163.8h0M441.8 161.0h0M442.7 164.8h0M436.8 160.1h0M431.5 162.1h0M434.8 163.3h0M453.9 160.0h0M440.6 157.5h0M431.7 163.0h0M437.2 157.9h0M445.7 157.2h0M442.5 150.1h0M436.0 164.3h0M437.1 165.4h0M437.7 163.2h0M424.6 163.5h0M421.9 170.6h0M437.8 161.5h0M431.1 162.0h0M447.1 167.2h0M435.7 169.0h0M426.5 157.3h0M433.1 160.0h0M432.6 165.0h0M454.1 153.9h0M436.3 164.2h0M435.8 167.3h0M446.7 153.8h0M437.0 161.5h0M438.1 155.3h0M425.5 155.9h0M439.2 162.8h0M436.4 152.0h0M433.8 160.3h0M427.5 161.6h0M440.2 164.1h0M435.9 165.4h0M432.4 164.5h0M436.2 165.5h0M435.6 162.5h0M435.2 160.3h0M449.4 160.9h0M438.6 172.6h0M444.4 153.1h0M440.2 165.4h0M447.3 165.3h0M440.6 156.1h0M430.8 166.0h0M439.0 157.3h0M433.7 161.9h0M436.4 164.4h0M434.3 157.9h0M443.5 167.8h0M435.4 167.9h0M438.7 165.1h0M438.9 158.5h0M439.4 166.5h0M430.6 173.8h0M448.5 167.2h0M447.9 162.4h0M434.0 160.9h0M431.1 165.2h0M435.8 166.1h0M423.9 177.6h0M449.7 158.3h0M440.1 163.8h0M437.6 161.5h0M435.3 159.5h0M437.1 162.5h0M456.3 136.5h0M454.7 141.7h0M457.8 134.8h0M456.8 145.5h0M457.8 138.3h0M451.8 141.4h0M458.5 147.7h0M453.6 138.6h0M456.6 141.7h0M449.5 139.8h0M453.9 145.1h0M447.9 139.0h0M457.2 134.2h0M455.1 143.0h0M453.9 136.6h0M454.2 140.0h0M456.3 136.5h0M460.5 130.7h0M453.5 141.9h0M459.8 136.3h0M457.5 137.4h0M458.6 148.6h0M452.3 144.6h0M449.4 148.4h0M461.2 139.0h0M448.3 146.0h0M460.8 144.5h0M459.0 130.5h0M450.8 150.2h0M447.8 149.9h0M464.9 141.2h0M460.7 137.4h0M447.8 143.7h0M453.4 141.7h0M458.3 139.2h0M455.6 143.2h0M454.5 150.8h0M456.9 141.0h0M453.4 138.8h0M461.9 139.3h0M448.6 141.0h0M453.7 139.6h0M460.5 133.3h0M457.2 141.1h0M448.0 144.3h0M454.0 144.2h0M452.0 144.0h0M445.3 139.7h0M458.8 145.0h0M454.4 138.5h0M460.5 128.6h0M450.1 146.6h0M458.1 134.9h0M444.1 153.0h0M455.3 136.6h0M454.8 145.9h0M440.2 152.8h0M458.6 129.4h0M458.7 130.8h0M460.8 141.0h0M466.9 133.5h0M454.5 146.8h0M451.0 139.4h0M452.5 142.0h0M448.5 146.3h0M457.5 140.7h0M463.9 136.1h0M461.7 135.9h0M458.7 130.1h0M455.6 140.2h0M451.8 139.5h0M452.6 138.6h0M442.4 143.3h0M451.5 140.1h0M448.7 143.1h0M458.8 138.5h0M451.8 149.4h0M459.9 144.0h0M460.9 137.3h0M453.8 147.4h0M451.5 142.1h0M456.6 142.5h0M453.0 147.1h0M453.5 145.5h0M460.4 142.5h0M458.5 134.0h0M447.3 141.3h0M457.1 148.0h0M447.8 145.7h0M449.8 139.7h0M453.0 145.6h0M455.7 147.0h0M449.1 148.2h0M459.6 139.8h0M457.1 137.6h0M448.5 141.9h0M451.0 157.5h0M451.8 150.9h0M455.6 142.6h0M458.6 135.9h0M459.5 141.4h0M446.2 147.9h0M457.5 142.6h0M463.2 135.9h0M457.3 144.1h0M449.5 149.5h0M446.5 138.1h0M457.4 134.9h0M453.9 133.5h0M454.9 135.6h0M458.1 141.0h0M458.7 149.3h0M456.4 151.4h0M456.8 142.9h0M440.6 157.6h0M450.4 150.9h0M458.6 137.8h0M451.4 149.5h0M449.7 156.4h0M455.2 146.8h0M450.1 159.5h0M452.0 157.3h0M458.7 138.4h0M449.5 154.3h0M458.1 156.5h0M460.8 157.2h0M453.8 151.4h0M460.7 147.5h0M462.3 139.2h0M459.9 149.5h0M444.2 162.7h0M457.9 151.5h0M449.5 151.2h0M465.1 143.3h0M435.2 153.6h0M448.8 153.6h0M453.6 146.7h0M450.9 160.8h0M447.3 168.1h0M452.7 145.8h0M460.7 154.1h0M449.7 159.2h0M445.0 149.7h0M462.8 147.9h0M448.2 158.2h0M461.5 149.9h0M445.2 153.5h0M458.5 156.3h0M467.1 146.4h0M453.1 152.8h0M463.2 143.2h0M463.8 130.9h0M460.8 145.8h0M458.8 155.6h0M448.9 153.9h0M457.4 155.4h0M450.4 147.3h0M444.5 173.0h0M454.8 150.9h0M447.0 161.3h0M453.2 176.7h0M447.4 185.4h0M463.5 179.1h0M460.1 187.8h0M456.9 179.8h0M452.4 177.7h0M457.5 169.8h0M458.3 183.0h0M449.6 188.7h0M461.9 189.9h0M480.0 121.0h0M470.0 128.0h0" stroke="#111" stroke-width="1.05" stroke-linecap="square" fill="none" opacity="0.88"/>
</g>
<rect x="418.50" y="104.50" width="96.00" height="90.00" fill="none" stroke="#111" stroke-width="1.15"/>
<line x1="446.50" y1="104.50" x2="446.50" y2="194.50" stroke="#111" stroke-width="1.15"/>
<line x1="418.50" y1="167.50" x2="514.50" y2="167.50" stroke="#111" stroke-width="1.15"/>
<path d="M418.50 194.50v3.2M418.50 194.50h-3.2M425.72 194.50v1.8M418.50 187.73h-1.8M429.95 194.50v1.8M418.50 183.76h-1.8M432.95 194.50v1.8M418.50 180.95h-1.8M435.28 194.50v1.8M418.50 178.77h-1.8M437.18 194.50v1.8M418.50 176.99h-1.8M438.78 194.50v1.8M418.50 175.49h-1.8M440.17 194.50v1.8M418.50 174.18h-1.8M441.40 194.50v1.8M418.50 173.03h-1.8M442.50 194.50v3.2M418.50 172.00h-3.2M449.72 194.50v1.8M418.50 165.23h-1.8M453.95 194.50v1.8M418.50 161.26h-1.8M456.95 194.50v1.8M418.50 158.45h-1.8M459.28 194.50v1.8M418.50 156.27h-1.8M461.18 194.50v1.8M418.50 154.49h-1.8M462.78 194.50v1.8M418.50 152.99h-1.8M464.17 194.50v1.8M418.50 151.68h-1.8M465.40 194.50v1.8M418.50 150.53h-1.8M466.50 194.50v3.2M418.50 149.50h-3.2M473.72 194.50v1.8M418.50 142.73h-1.8M477.95 194.50v1.8M418.50 138.76h-1.8M480.95 194.50v1.8M418.50 135.95h-1.8M483.28 194.50v1.8M418.50 133.77h-1.8M485.18 194.50v1.8M418.50 131.99h-1.8M486.78 194.50v1.8M418.50 130.49h-1.8M488.17 194.50v1.8M418.50 129.18h-1.8M489.40 194.50v1.8M418.50 128.03h-1.8M490.50 194.50v3.2M418.50 127.00h-3.2M497.72 194.50v1.8M418.50 120.23h-1.8M501.95 194.50v1.8M418.50 116.26h-1.8M504.95 194.50v1.8M418.50 113.45h-1.8M507.28 194.50v1.8M418.50 111.27h-1.8M509.18 194.50v1.8M418.50 109.49h-1.8M510.78 194.50v1.8M418.50 107.99h-1.8M512.17 194.50v1.8M418.50 106.68h-1.8M513.40 194.50v1.8M418.50 105.53h-1.8M514.50 194.50v3.2M418.50 104.50h-3.2" stroke="#111" stroke-width="0.9" fill="none"/>
<text transform="translate(413.50 209.30) scale(0.88 1)" font-family="Liberation Sans, Arial, sans-serif" font-size="9.0" font-weight="normal" text-anchor="start" fill="#222"  stroke="#222" stroke-width="0.25">10</text>
<text transform="translate(422.10 203.70) scale(0.88 1)" font-family="Liberation Sans, Arial, sans-serif" font-size="7.4" font-weight="normal" text-anchor="start" fill="#222"  stroke="#222" stroke-width="0.25">0</text>
<text transform="translate(412.60 201.40) rotate(-90) scale(0.88 1)" font-family="Liberation Sans, Arial, sans-serif" font-size="9.0" font-weight="normal" text-anchor="start" fill="#222">10</text>
<text transform="translate(408.20 191.30) rotate(-90) scale(0.88 1)" font-family="Liberation Sans, Arial, sans-serif" font-size="7.4" font-weight="normal" text-anchor="start" fill="#222">0</text>
<text transform="translate(437.50 209.30) scale(0.88 1)" font-family="Liberation Sans, Arial, sans-serif" font-size="9.0" font-weight="normal" text-anchor="start" fill="#222"  stroke="#222" stroke-width="0.25">10</text>
<text transform="translate(446.10 203.70) scale(0.88 1)" font-family="Liberation Sans, Arial, sans-serif" font-size="7.4" font-weight="normal" text-anchor="start" fill="#222"  stroke="#222" stroke-width="0.25">1</text>
<text transform="translate(412.60 178.90) rotate(-90) scale(0.88 1)" font-family="Liberation Sans, Arial, sans-serif" font-size="9.0" font-weight="normal" text-anchor="start" fill="#222">10</text>
<text transform="translate(408.20 168.80) rotate(-90) scale(0.88 1)" font-family="Liberation Sans, Arial, sans-serif" font-size="7.4" font-weight="normal" text-anchor="start" fill="#222">1</text>
<text transform="translate(461.50 209.30) scale(0.88 1)" font-family="Liberation Sans, Arial, sans-serif" font-size="9.0" font-weight="normal" text-anchor="start" fill="#222"  stroke="#222" stroke-width="0.25">10</text>
<text transform="translate(470.10 203.70) scale(0.88 1)" font-family="Liberation Sans, Arial, sans-serif" font-size="7.4" font-weight="normal" text-anchor="start" fill="#222"  stroke="#222" stroke-width="0.25">2</text>
<text transform="translate(412.60 156.40) rotate(-90) scale(0.88 1)" font-family="Liberation Sans, Arial, sans-serif" font-size="9.0" font-weight="normal" text-anchor="start" fill="#222">10</text>
<text transform="translate(408.20 146.30) rotate(-90) scale(0.88 1)" font-family="Liberation Sans, Arial, sans-serif" font-size="7.4" font-weight="normal" text-anchor="start" fill="#222">2</text>
<text transform="translate(485.50 209.30) scale(0.88 1)" font-family="Liberation Sans, Arial, sans-serif" font-size="9.0" font-weight="normal" text-anchor="start" fill="#222"  stroke="#222" stroke-width="0.25">10</text>
<text transform="translate(494.10 203.70) scale(0.88 1)" font-family="Liberation Sans, Arial, sans-serif" font-size="7.4" font-weight="normal" text-anchor="start" fill="#222"  stroke="#222" stroke-width="0.25">3</text>
<text transform="translate(412.60 133.90) rotate(-90) scale(0.88 1)" font-family="Liberation Sans, Arial, sans-serif" font-size="9.0" font-weight="normal" text-anchor="start" fill="#222">10</text>
<text transform="translate(408.20 123.80) rotate(-90) scale(0.88 1)" font-family="Liberation Sans, Arial, sans-serif" font-size="7.4" font-weight="normal" text-anchor="start" fill="#222">3</text>
<text transform="translate(509.50 209.30) scale(0.88 1)" font-family="Liberation Sans, Arial, sans-serif" font-size="9.0" font-weight="normal" text-anchor="start" fill="#222"  stroke="#222" stroke-width="0.25">10</text>
<text transform="translate(518.10 203.70) scale(0.88 1)" font-family="Liberation Sans, Arial, sans-serif" font-size="7.4" font-weight="normal" text-anchor="start" fill="#222"  stroke="#222" stroke-width="0.25">4</text>
<text transform="translate(412.60 111.40) rotate(-90) scale(0.88 1)" font-family="Liberation Sans, Arial, sans-serif" font-size="9.0" font-weight="normal" text-anchor="start" fill="#222">10</text>
<text transform="translate(408.20 101.30) rotate(-90) scale(0.88 1)" font-family="Liberation Sans, Arial, sans-serif" font-size="7.4" font-weight="normal" text-anchor="start" fill="#222">4</text>
<text transform="translate(402.20 167.00) rotate(-90) scale(0.98 1)" font-family="Liberation Sans, Arial, sans-serif" font-size="8.2" font-weight="normal" text-anchor="start" fill="#222">TOPRO</text>
<text transform="translate(466.10 217.90) scale(0.95 1)" font-family="Liberation Sans, Arial, sans-serif" font-size="8.0" font-weight="normal" text-anchor="middle" fill="#222"  stroke="#222" stroke-width="0.25">AnnexinFITC</text>
<text x="508.90" y="117.95" font-family="Liberation Sans, Arial, sans-serif" font-size="8.2" font-weight="normal" text-anchor="end" fill="#333" >3%</text>
<text x="510.20" y="184.20" font-family="Liberation Sans, Arial, sans-serif" font-size="8.2" font-weight="normal" text-anchor="end" fill="#333" >0.3%</text>
<text x="458.50" y="99.60" font-family="Liberation Serif, Times New Roman, serif" font-size="10.3" font-weight="normal" text-anchor="middle" fill="#111" >CAMPTO blocked</text>
<text x="2.00" y="234.70" font-family="Liberation Serif, Times New Roman, serif" font-size="12.4" font-weight="bold" text-anchor="start" fill="#000" >4 hours</text>
<text x="2.00" y="365.40" font-family="Liberation Serif, Times New Roman, serif" font-size="12.4" font-weight="bold" text-anchor="start" fill="#000" >24 hours</text>
<clipPath id="c235"><rect x="29.5" y="247.5" width="95" height="89"/></clipPath><g clip-path="url(#c235)">
<path d="M54.3 319.1L54.3 319.9L54.4 320.8L55.6 321.7L54.8 322.6L54.9 323.7L53.1 324.2L53.4 325.5L51.9 325.9L51.3 326.8L50.5 327.9L49.0 328.0L47.8 328.3L46.3 328.0L45.3 329.2L44.0 329.7L42.8 329.0L41.5 329.3L40.8 328.2L39.6 328.2L37.8 328.7L36.3 328.6L36.2 327.3L36.3 326.2L34.8 325.9L35.1 324.8L33.8 324.4L31.9 323.8L33.0 322.6L33.4 321.7L32.7 320.7L34.0 319.8L34.0 318.8L34.7 317.9L35.3 317.0L37.2 316.8L37.0 315.3L38.1 314.6L40.3 315.4L41.4 315.3L42.1 314.0L43.2 312.4L44.6 313.1L45.9 312.7L47.2 312.8L48.6 312.8L49.3 313.9L50.4 314.2L51.8 314.2L52.9 314.7L53.7 315.4L54.3 316.2L54.2 317.3L55.8 317.7Z" fill="#050505" filter="url(#bl)"/>
<path d="M48.8 313.3h0M40.8 314.9h0M34.2 326.8h0M40.2 327.5h0M49.0 312.1h0M43.6 328.0h0M49.8 313.4h0M54.0 321.3h0M55.3 325.0h0M50.2 330.7h0M42.9 314.6h0M39.4 315.1h0M42.1 311.8h0M43.9 328.0h0M53.5 316.7h0M54.2 315.3h0M41.3 312.0h0M35.9 317.4h0M56.1 321.7h0M35.4 326.6h0M52.1 316.5h0M43.6 314.6h0M38.6 313.2h0M45.2 329.1h0M55.2 317.3h0M34.6 321.3h0M54.2 321.8h0M37.0 326.5h0M42.1 328.1h0M39.5 313.8h0M46.5 327.9h0M33.8 322.7h0M52.9 316.4h0M42.0 331.8h0M52.5 325.8h0M39.5 330.7h0M31.9 321.1h0M51.5 327.3h0M34.9 318.7h0M43.6 311.5h0M52.7 324.2h0M39.3 327.7h0M53.9 321.9h0M49.9 328.4h0M36.0 325.2h0M41.0 328.9h0M39.2 327.6h0M53.0 322.3h0M56.5 318.1h0M55.6 323.3h0M55.0 317.9h0M53.5 324.2h0M36.2 325.8h0M35.3 321.3h0M53.5 315.1h0M31.8 315.5h0M37.5 316.7h0M46.0 327.8h0M57.0 320.1h0M48.3 314.1h0M50.4 327.8h0M51.0 310.4h0M52.2 327.8h0M48.6 312.3h0M41.2 328.1h0M47.5 313.9h0M38.1 328.5h0M36.7 330.1h0M46.3 327.5h0M33.2 320.1h0M47.7 312.4h0M56.2 312.0h0M33.7 323.7h0M51.0 325.9h0M35.6 319.7h0M39.4 315.7h0M30.7 329.0h0M52.7 323.0h0M36.0 325.6h0M41.4 315.2h0M49.9 311.4h0M45.1 313.5h0M43.6 329.8h0M33.9 322.7h0M40.2 328.7h0M35.9 314.5h0M51.2 315.7h0M42.9 328.9h0M34.5 320.4h0M48.7 326.7h0M41.0 328.9h0M58.4 316.2h0M54.1 309.2h0M54.9 316.9h0M46.4 314.4h0M37.8 315.1h0M42.7 329.4h0M53.9 316.8h0M37.2 316.8h0M38.2 331.3h0M53.9 320.4h0M38.4 315.5h0M55.2 323.3h0M37.8 328.5h0M35.8 327.1h0M34.3 320.3h0M52.4 324.1h0M51.6 314.5h0M56.1 325.3h0M45.5 327.8h0M34.5 321.9h0M33.5 324.0h0M47.6 328.7h0M53.5 324.5h0M35.8 319.4h0M37.4 326.4h0M32.3 327.6h0M32.3 320.9h0M43.3 314.5h0M56.2 318.1h0M56.1 324.6h0M37.9 327.0h0M54.5 317.0h0M44.4 314.3h0M44.4 314.5h0M46.7 328.2h0M55.6 319.6h0M48.0 327.6h0M40.1 314.7h0M51.9 314.2h0M50.7 313.9h0M55.3 313.7h0M52.0 327.5h0M39.1 330.1h0M36.9 313.8h0M52.6 324.7h0M40.6 310.0h0M41.3 315.1h0M36.1 318.8h0M31.4 321.0h0M57.4 325.8h0M38.6 316.0h0M49.4 327.4h0M48.7 313.2h0M52.0 324.0h0M55.4 325.0h0M50.1 327.5h0M43.1 330.0h0M38.4 327.2h0M50.8 314.1h0M37.7 313.6h0M52.4 317.3h0M40.3 327.9h0M30.3 324.1h0M45.8 314.4h0M51.5 328.6h0M38.5 315.6h0M35.2 324.2h0M48.8 314.0h0M50.9 313.8h0M53.8 322.6h0M49.5 330.6h0M35.9 319.4h0M50.5 326.5h0M33.8 325.1h0M37.6 327.5h0M55.4 319.1h0M40.9 327.7h0M31.1 328.7h0M53.7 321.2h0M38.4 316.1h0M44.3 329.1h0M45.1 329.2h0M32.3 322.6h0M53.3 319.0h0M32.0 320.3h0M51.7 312.9h0M35.4 316.8h0M39.1 327.9h0M46.2 310.8h0M54.5 315.7h0M41.9 330.5h0M42.0 313.7h0M36.5 317.2h0M34.1 321.0h0M54.1 321.9h0M38.2 335.7h0M34.5 324.2h0M46.2 328.0h0M40.0 327.8h0M58.3 318.7h0M34.8 325.5h0M34.7 320.2h0M50.0 326.0h0M42.6 328.6h0M41.1 313.8h0M52.9 316.5h0M53.3 315.4h0M53.3 322.7h0M31.1 318.1h0M38.0 329.9h0M32.7 328.2h0M54.6 322.3h0M51.3 315.4h0M45.2 327.7h0M50.5 326.1h0M40.2 315.2h0M37.5 326.8h0M32.0 317.6h0M37.5 317.0h0M40.0 309.5h0M36.1 318.9h0M47.4 310.8h0M40.4 327.9h0M49.9 327.5h0M51.2 313.7h0M52.1 316.2h0M40.2 330.2h0M37.0 316.6h0M38.6 315.7h0M54.5 321.7h0M55.7 321.2h0M40.3 328.9h0M35.5 318.9h0M35.8 324.5h0M53.3 315.6h0M53.3 318.8h0M34.0 317.5h0M41.1 327.9h0M50.7 325.6h0M43.9 314.4h0M46.9 313.6h0M33.1 321.6h0M32.8 320.7h0M35.4 318.7h0M42.3 314.4h0M39.5 313.2h0M44.4 313.9h0M44.1 307.8h0M35.4 325.2h0M32.2 322.9h0M51.4 324.6h0M33.1 324.9h0M44.3 313.8h0M53.8 318.7h0M43.3 314.5h0M53.7 320.4h0M54.8 321.9h0M34.9 320.8h0M53.1 316.5h0M51.0 325.5h0M40.8 310.7h0M50.2 325.7h0M44.6 314.1h0M54.7 318.1h0M36.6 317.2h0M46.1 313.4h0M39.7 331.9h0M54.9 324.6h0M55.5 322.2h0M34.3 329.3h0M55.1 321.9h0M32.8 329.7h0M54.4 316.2h0M47.3 327.7h0M45.1 328.7h0M46.8 327.7h0M43.2 312.9h0M41.0 335.5h0M48.2 328.4h0M53.7 327.8h0M49.8 314.7h0M42.4 311.8h0M43.8 328.6h0M30.8 325.2h0M52.0 327.0h0M34.9 318.7h0M30.8 319.0h0M49.9 330.2h0M37.7 329.9h0M49.4 314.8h0M56.0 306.5h0M42.9 327.9h0M59.7 326.5h0M59.2 318.7h0M52.9 326.8h0M52.8 323.4h0M39.2 316.0h0M38.2 332.0h0M39.2 312.0h0M53.1 318.5h0M47.5 330.0h0M39.7 315.9h0M34.6 323.0h0M36.5 325.8h0M64.8 318.7h0M40.5 331.6h0M53.1 324.8h0M52.3 325.3h0M51.0 327.7h0M53.1 326.6h0M35.0 323.1h0M39.1 328.6h0M52.3 315.8h0M50.6 332.4h0M52.1 313.5h0M44.4 328.2h0M44.8 327.9h0M55.0 321.1h0M36.0 327.4h0M39.5 327.3h0M38.3 314.5h0M33.4 321.3h0M34.8 310.2h0M51.5 313.3h0M37.2 327.1h0M30.4 330.6h0M37.6 327.6h0M37.2 326.5h0M53.3 319.2h0M31.0 316.9h0M45.7 329.3h0M38.4 327.5h0M48.6 326.9h0M49.7 312.2h0M51.2 316.0h0M39.5 315.3h0M36.4 316.4h0M39.7 334.2h0M56.6 318.6h0M49.5 313.7h0M30.7 316.6h0M47.1 329.1h0M42.3 314.1h0M40.4 314.6h0M32.9 322.2h0M38.6 315.8h0M35.6 317.2h0M47.9 328.7h0M45.1 332.0h0M32.7 325.2h0M33.6 322.4h0M47.4 327.4h0M53.3 315.7h0M33.4 322.3h0M46.7 314.1h0M52.2 328.2h0M33.6 325.6h0M49.1 310.7h0M49.4 315.1h0M35.9 329.7h0M46.9 314.3h0M51.0 325.7h0M53.2 323.8h0M46.3 313.2h0M35.9 325.0h0M30.5 335.1h0M39.3 314.9h0M31.8 325.1h0M43.4 314.4h0M38.6 315.6h0M34.6 322.3h0M38.5 327.8h0M38.6 327.0h0M49.2 328.0h0M53.7 321.7h0M40.9 314.8h0M41.3 328.3h0M47.7 314.5h0M33.7 315.7h0M48.9 327.6h0M45.6 312.8h0M39.0 327.2h0M35.4 325.8h0M40.6 314.9h0M35.6 327.7h0M46.6 313.8h0M37.1 328.2h0M52.1 316.3h0M55.8 317.2h0M37.5 328.9h0M41.1 327.9h0M43.1 313.9h0M33.5 322.2h0M53.3 313.9h0M55.6 320.1h0M34.5 325.1h0M48.5 313.8h0M30.5 325.9h0M35.0 326.1h0M31.0 323.3h0M36.8 314.8h0M37.7 326.5h0M38.1 315.1h0M43.9 312.0h0M52.3 324.3h0M56.8 323.1h0M52.5 323.6h0M42.9 313.3h0M55.9 321.7h0M40.2 314.4h0M56.0 321.7h0M35.5 327.2h0M57.3 318.3h0M49.8 315.0h0M40.3 329.0h0M64.2 317.5h0M44.3 328.4h0M41.9 328.4h0M49.9 313.7h0M33.9 322.9h0M54.1 321.4h0M51.5 312.5h0M49.2 314.5h0M48.3 326.8h0M34.1 321.6h0M34.3 325.1h0M34.8 319.4h0M46.0 314.1h0M53.1 315.4h0M54.2 321.4h0M33.9 321.8h0M34.6 320.3h0M44.3 330.7h0M43.0 330.1h0M46.3 312.9h0M30.5 327.5h0M31.8 327.4h0M54.5 321.8h0M37.4 317.4h0M49.2 315.0h0M35.7 319.0h0M53.2 315.5h0M46.1 313.3h0M37.3 314.9h0M43.0 328.3h0M48.0 314.5h0M51.9 316.1h0M52.6 323.5h0M45.4 309.1h0M35.2 327.5h0M45.8 331.8h0M39.3 315.8h0M56.0 321.8h0M57.7 320.9h0M43.1 328.4h0M34.9 319.5h0M35.1 320.6h0M52.0 315.7h0M48.2 314.5h0M47.3 307.5h0M38.1 326.8h0M37.1 328.6h0M47.7 328.5h0M53.9 323.5h0M41.3 314.2h0M39.0 316.1h0M47.5 314.4h0M62.5 309.6h0M53.7 316.2h0M43.2 328.7h0M42.7 313.6h0M52.0 316.6h0M30.8 325.1h0M34.5 318.6h0M53.0 323.0h0M44.6 331.8h0M48.5 314.4h0M51.7 316.5h0M30.6 317.0h0M37.4 332.5h0M38.1 316.9h0M40.5 328.8h0M46.4 329.9h0M51.5 328.2h0M42.9 328.0h0M35.2 320.6h0M31.6 320.9h0M34.8 318.8h0M55.1 320.6h0M54.7 323.9h0M53.0 325.4h0M39.4 328.3h0M38.2 316.5h0M54.1 329.5h0M39.5 331.0h0M50.5 314.2h0M50.9 325.3h0M50.1 315.2h0M33.5 323.7h0M53.1 324.6h0M51.3 326.7h0M34.2 323.0h0M49.1 327.4h0M48.3 327.0h0M47.3 330.9h0M30.9 324.1h0M60.4 318.9h0M31.7 324.6h0M32.9 319.9h0M47.8 329.6h0M51.0 325.7h0M54.6 320.5h0M34.4 322.5h0M50.5 315.5h0M35.1 319.7h0M32.7 318.3h0M40.7 315.3h0M46.3 329.1h0M53.2 318.6h0M34.4 317.3h0M46.9 313.8h0M46.7 313.4h0M51.6 316.4h0M53.3 316.5h0M37.4 326.5h0M46.5 329.8h0M39.0 316.0h0M40.3 327.8h0M48.7 327.0h0M37.9 334.3h0M57.0 318.3h0M34.0 324.4h0M44.8 310.3h0M42.7 313.0h0M49.5 328.1h0M49.9 312.2h0M55.4 323.8h0M40.0 327.8h0M55.3 317.0h0M42.6 314.6h0M49.6 309.8h0M53.4 314.1h0M49.0 311.8h0M34.7 319.1h0M48.4 311.9h0M50.0 314.7h0M54.4 317.1h0M52.6 317.1h0M56.4 316.8h0M46.2 330.8h0M46.8 327.7h0M35.4 325.0h0M32.3 324.8h0M37.9 314.4h0M35.6 329.0h0M45.8 312.4h0M55.9 315.2h0M37.4 326.5h0M35.0 315.0h0M39.8 329.2h0M49.2 312.0h0M54.9 319.2h0M53.7 319.9h0M46.8 313.6h0M35.1 318.4h0M40.7 328.1h0M37.8 330.6h0M36.1 318.0h0M53.4 323.1h0M39.7 314.8h0M35.8 314.8h0M54.1 325.2h0M57.5 320.9h0M49.6 326.7h0M53.6 317.2h0M48.8 330.8h0M31.8 317.0h0M36.9 327.7h0M54.1 316.9h0M53.7 318.7h0M47.6 314.4h0M35.2 322.0h0M53.7 329.8h0M32.4 326.5h0M45.8 328.4h0M54.1 324.0h0M50.0 313.9h0M35.0 331.2h0M52.3 314.1h0M55.2 322.8h0M30.9 328.6h0M38.2 329.1h0M36.3 317.3h0M32.5 322.5h0M52.3 315.1h0M34.6 333.4h0M57.5 321.9h0M38.3 315.0h0M33.2 326.5h0M52.5 313.7h0M42.9 314.7h0M41.3 328.0h0M57.4 315.3h0M52.5 326.0h0M35.6 319.9h0M35.9 328.7h0M37.0 317.1h0M43.6 314.0h0M34.0 321.3h0M55.5 317.7h0M46.6 312.5h0M33.7 332.1h0M39.6 313.7h0M44.1 328.2h0M31.6 319.4h0M45.5 313.7h0M52.4 325.6h0M50.1 315.1h0M42.2 314.6h0M42.1 328.0h0M42.8 328.8h0M60.3 315.2h0M49.5 326.9h0M52.7 317.0h0M41.3 328.8h0M52.8 324.0h0M37.3 327.4h0M53.4 317.6h0M50.7 330.4h0M32.2 326.8h0M34.6 316.1h0M41.9 328.1h0M43.2 313.6h0M32.8 320.5h0M43.0 314.2h0M36.3 331.4h0M34.4 322.0h0M36.6 317.5h0M44.1 314.5h0M47.9 313.2h0M36.6 332.2h0M44.8 328.3h0M54.9 322.4h0M42.8 312.8h0M34.3 328.4h0M52.8 324.1h0M31.7 313.7h0M35.1 316.6h0M44.3 313.7h0M55.0 315.6h0M40.0 328.5h0M46.3 313.7h0M51.7 329.2h0M33.4 321.9h0M35.3 313.6h0M52.1 325.1h0M54.3 322.2h0M30.7 324.0h0M37.4 315.5h0M39.1 328.3h0M46.5 330.3h0M53.5 332.1h0M30.9 333.2h0M49.3 331.1h0M34.9 335.3h0M34.3 330.8h0M30.9 328.0h0M32.1 333.6h0M48.9 330.0h0M34.1 330.9h0M44.2 327.3h0M35.2 330.8h0M46.1 331.2h0M44.6 328.0h0M30.7 331.8h0M36.6 330.7h0M39.8 332.2h0M37.5 334.5h0M42.2 332.3h0M45.7 333.5h0M44.4 326.7h0M38.3 335.5h0M44.8 332.4h0M44.7 329.4h0M38.0 329.4h0M48.8 331.9h0M52.4 332.2h0M53.1 332.1h0M35.1 335.3h0M44.0 333.9h0M43.3 330.2h0M43.0 328.3h0M35.0 328.8h0M38.9 327.7h0M41.4 331.7h0M53.9 335.5h0M41.7 333.2h0M40.7 332.0h0M41.8 329.7h0M42.4 327.4h0M44.6 330.3h0M35.6 330.1h0M45.3 329.3h0M44.8 332.4h0M51.2 328.3h0M41.3 332.3h0M50.9 331.6h0M46.5 327.4h0M38.6 335.1h0M40.3 335.0h0M37.7 330.3h0M32.6 332.6h0M43.6 335.4h0M43.0 330.4h0M33.7 330.8h0M47.6 332.8h0M49.3 333.1h0M41.7 332.5h0M43.0 327.7h0M52.1 331.9h0M35.8 332.0h0M43.7 333.5h0M50.6 323.5h0M45.3 334.8h0M36.4 326.4h0M43.7 331.8h0M44.1 328.3h0M39.2 331.5h0M46.4 335.4h0M43.7 329.5h0M31.0 333.7h0M41.2 330.7h0M36.1 332.8h0M31.3 331.3h0M42.7 331.7h0M49.8 330.8h0M42.6 333.1h0M32.8 330.3h0M42.4 333.4h0M37.2 333.0h0M44.3 327.3h0M33.2 327.4h0M42.8 331.5h0M46.3 333.0h0M38.7 333.7h0M46.9 332.2h0M44.9 327.8h0M44.2 328.4h0M34.9 330.1h0M42.8 330.9h0M40.0 328.5h0M43.1 329.2h0M33.6 331.2h0M50.7 330.0h0M35.7 334.4h0M52.2 330.3h0M40.7 331.5h0M59.6 331.3h0M47.9 332.1h0M31.1 328.3h0M34.6 332.1h0M42.6 335.5h0M40.4 331.8h0M42.4 331.3h0M55.8 331.7h0M50.8 334.2h0M38.4 332.7h0M39.7 331.3h0M42.9 331.1h0M39.2 334.9h0M40.4 332.8h0M52.0 332.6h0M48.1 334.5h0M48.5 335.3h0M33.5 334.8h0M42.2 326.6h0M38.2 327.5h0M41.9 327.3h0M36.0 331.7h0M42.9 329.0h0M40.6 330.8h0M42.4 331.0h0M40.7 333.2h0M32.4 329.8h0M42.8 330.0h0M38.7 329.9h0M43.3 334.1h0M40.9 330.3h0M44.1 330.4h0M96.7 332.8h0M68.2 327.6h0M90.8 331.6h0M80.9 310.3h0M91.2 335.2h0M57.9 332.5h0M86.2 320.1h0M76.0 323.7h0M70.1 319.8h0M83.5 311.9h0M88.8 315.0h0M101.3 314.0h0M87.8 334.6h0M85.5 313.6h0M71.2 312.9h0M60.7 311.3h0M71.8 317.3h0M63.3 327.7h0M67.3 327.1h0M58.3 324.1h0M106.4 318.7h0M102.8 315.9h0M95.9 309.9h0M90.2 328.4h0M63.2 324.8h0M57.0 329.5h0M99.4 311.8h0M66.4 315.7h0M91.6 312.6h0M93.0 321.8h0M58.5 314.3h0M65.8 319.3h0M68.2 321.6h0M105.3 331.3h0M76.6 318.8h0M77.0 311.4h0M70.1 312.0h0M86.1 310.6h0M58.2 330.0h0M64.7 312.2h0M56.9 328.7h0M87.7 310.1h0M60.6 324.2h0M85.9 317.7h0M89.7 316.1h0M63.1 328.8h0M57.0 317.7h0M61.7 328.7h0M105.2 318.9h0M80.0 318.6h0M80.4 317.6h0M65.4 333.8h0M57.7 335.0h0M67.9 331.7h0M58.7 322.8h0M105.6 317.8h0M64.1 315.7h0M60.6 332.8h0M65.3 324.9h0M86.0 324.0h0M88.6 333.0h0M102.8 326.6h0M95.6 334.6h0M95.3 329.6h0M97.2 314.8h0M84.9 328.3h0M56.9 330.5h0M100.8 331.3h0M84.1 320.4h0M84.3 330.8h0M59.6 332.9h0M106.6 325.6h0M83.7 320.8h0M62.2 333.7h0M56.9 313.6h0M59.2 310.7h0M68.0 316.9h0M59.4 315.2h0M63.3 326.0h0M76.1 332.5h0M63.1 315.0h0M64.6 325.6h0M91.0 329.7h0M61.2 329.8h0M69.0 326.0h0M83.0 323.3h0M98.2 334.1h0M84.4 314.0h0M62.6 334.6h0M71.6 332.4h0M72.7 317.2h0M58.3 332.4h0M73.8 330.9h0M62.5 324.1h0M58.9 333.6h0M67.9 323.4h0M103.1 321.2h0M57.8 329.7h0M89.6 321.0h0M98.3 310.8h0M97.4 332.6h0M103.6 322.0h0M62.8 331.0h0M97.9 330.0h0M58.0 328.6h0M102.2 323.6h0M88.7 333.5h0M72.4 327.3h0M61.6 318.4h0M67.9 332.3h0M106.7 323.1h0M60.7 335.1h0M83.8 322.2h0M57.0 323.4h0M89.3 321.6h0M62.6 322.6h0M80.8 318.7h0M59.6 314.8h0M103.8 316.4h0M97.3 326.0h0M100.6 330.7h0M62.3 320.1h0M100.5 333.3h0M62.0 334.5h0M71.7 331.8h0M61.1 316.2h0M79.6 311.3h0M69.8 318.0h0M56.9 311.1h0M62.6 323.2h0M75.5 311.1h0M74.4 310.0h0M81.8 329.9h0M95.7 330.2h0M107.8 323.7h0M62.3 310.8h0M66.1 325.0h0M67.1 318.3h0M57.0 325.8h0M60.1 314.2h0M56.8 319.8h0M63.5 323.8h0M78.3 317.2h0M59.4 329.2h0M58.9 310.8h0M59.8 331.9h0M76.1 320.5h0M99.4 333.9h0M62.6 331.1h0M79.7 323.8h0M70.2 312.7h0M84.3 313.4h0M104.6 328.5h0M103.5 325.0h0M57.4 312.0h0M58.5 334.9h0M64.8 328.0h0M105.4 313.1h0M70.7 321.8h0M96.7 314.7h0M83.8 322.3h0M58.8 329.2h0M84.1 320.4h0M93.4 312.4h0M105.0 330.5h0M57.9 312.4h0M78.8 330.7h0M86.2 328.8h0M62.7 326.0h0M76.2 318.1h0M57.8 316.4h0M82.0 323.3h0M84.9 314.9h0M56.9 323.2h0M85.3 317.2h0M83.4 330.8h0M104.7 315.3h0M62.6 324.4h0M104.7 330.1h0M70.2 310.8h0M100.4 329.4h0M89.0 326.2h0M84.4 315.8h0M59.1 329.7h0M61.9 328.6h0M57.2 331.9h0M70.0 324.6h0M57.9 320.5h0M103.5 320.6h0M67.6 317.4h0M71.6 330.9h0M73.9 334.9h0M85.2 331.3h0M68.3 310.8h0M91.1 314.0h0M83.1 319.2h0M87.0 310.7h0M61.3 315.8h0M65.2 328.8h0M94.8 320.0h0M96.8 313.0h0M79.9 330.3h0M56.9 321.7h0M88.4 328.4h0M57.8 335.3h0M60.5 317.6h0M56.8 329.5h0M63.8 317.2h0M106.9 334.9h0M58.8 311.5h0M76.5 307.4h0M91.1 300.8h0M100.4 300.1h0M99.5 298.9h0M92.8 304.4h0M93.1 303.7h0M95.0 298.4h0M83.3 303.8h0M106.1 300.4h0M84.7 301.6h0M92.3 307.4h0M87.6 305.8h0M93.5 301.5h0M84.6 303.5h0M86.3 305.9h0M78.2 309.3h0M97.9 304.3h0M103.7 303.5h0M78.6 305.2h0M95.5 299.9h0M83.2 305.9h0M96.0 300.8h0M90.1 301.4h0M87.6 303.4h0M100.4 295.7h0M89.3 309.4h0M94.5 303.2h0M98.5 298.3h0M82.6 298.2h0M80.6 305.6h0M98.6 300.5h0M86.7 305.3h0M96.8 303.2h0M77.1 303.2h0M72.3 306.9h0M89.1 293.1h0M95.7 306.7h0M109.5 283.0h0M79.9 300.0h0M95.9 303.2h0M103.1 307.3h0M76.4 302.7h0M100.0 305.6h0M89.2 300.8h0M91.1 301.4h0M109.3 275.4h0M93.9 296.3h0M87.6 308.2h0M80.4 301.0h0M98.7 304.3h0M102.9 301.6h0M77.6 302.6h0M74.8 304.5h0M102.8 306.9h0M82.4 299.4h0M105.1 306.4h0M93.0 303.6h0M80.1 305.3h0M86.9 292.2h0M98.3 304.5h0M94.2 293.3h0M86.7 300.9h0M114.4 306.7h0M90.1 306.1h0M106.2 298.2h0M110.8 303.8h0M105.6 287.8h0M91.2 303.4h0M91.4 307.3h0M92.5 296.3h0M107.2 291.4h0M101.6 291.5h0M99.7 302.8h0M105.3 306.9h0M104.6 303.5h0M105.5 285.6h0M109.9 292.0h0M100.2 295.8h0M96.7 301.2h0M90.0 290.0h0M84.9 303.6h0M86.4 307.4h0M103.8 305.5h0M76.5 307.8h0M94.1 302.4h0M107.6 300.9h0M107.8 292.5h0M97.4 307.3h0M97.8 287.1h0M99.9 305.8h0M111.2 294.1h0M93.2 293.2h0M93.1 307.5h0M103.5 303.3h0M85.2 292.0h0M93.2 302.8h0M84.3 304.3h0M89.6 292.6h0M95.3 295.2h0M103.7 306.2h0M56.9 297.8h0M55.1 292.1h0M50.4 291.1h0M48.6 307.2h0M52.1 291.6h0M56.8 290.6h0M52.2 291.0h0M52.8 305.0h0" stroke="#111" stroke-width="1.05" stroke-linecap="square" fill="none" opacity="0.88"/>
</g>
<rect x="29.50" y="247.50" width="95.00" height="89.00" fill="none" stroke="#111" stroke-width="1.15"/>
<line x1="57.50" y1="247.50" x2="57.50" y2="336.50" stroke="#111" stroke-width="1.15"/>
<line x1="29.50" y1="310.50" x2="124.50" y2="310.50" stroke="#111" stroke-width="1.15"/>
<path d="M29.50 336.50v3.2M29.50 336.50h-3.2M36.65 336.50v1.8M29.50 329.80h-1.8M40.83 336.50v1.8M29.50 325.88h-1.8M43.80 336.50v1.8M29.50 323.10h-1.8M46.10 336.50v1.8M29.50 320.95h-1.8M47.98 336.50v1.8M29.50 319.19h-1.8M49.57 336.50v1.8M29.50 317.70h-1.8M50.95 336.50v1.8M29.50 316.41h-1.8M52.16 336.50v1.8M29.50 315.27h-1.8M53.25 336.50v3.2M29.50 314.25h-3.2M60.40 336.50v1.8M29.50 307.55h-1.8M64.58 336.50v1.8M29.50 303.63h-1.8M67.55 336.50v1.8M29.50 300.85h-1.8M69.85 336.50v1.8M29.50 298.70h-1.8M71.73 336.50v1.8M29.50 296.94h-1.8M73.32 336.50v1.8M29.50 295.45h-1.8M74.70 336.50v1.8M29.50 294.16h-1.8M75.91 336.50v1.8M29.50 293.02h-1.8M77.00 336.50v3.2M29.50 292.00h-3.2M84.15 336.50v1.8M29.50 285.30h-1.8M88.33 336.50v1.8M29.50 281.38h-1.8M91.30 336.50v1.8M29.50 278.60h-1.8M93.60 336.50v1.8M29.50 276.45h-1.8M95.48 336.50v1.8M29.50 274.69h-1.8M97.07 336.50v1.8M29.50 273.20h-1.8M98.45 336.50v1.8M29.50 271.91h-1.8M99.66 336.50v1.8M29.50 270.77h-1.8M100.75 336.50v3.2M29.50 269.75h-3.2M107.90 336.50v1.8M29.50 263.05h-1.8M112.08 336.50v1.8M29.50 259.13h-1.8M115.05 336.50v1.8M29.50 256.35h-1.8M117.35 336.50v1.8M29.50 254.20h-1.8M119.23 336.50v1.8M29.50 252.44h-1.8M120.82 336.50v1.8M29.50 250.95h-1.8M122.20 336.50v1.8M29.50 249.66h-1.8M123.41 336.50v1.8M29.50 248.52h-1.8M124.50 336.50v3.2M29.50 247.50h-3.2" stroke="#111" stroke-width="0.9" fill="none"/>
<text transform="translate(24.50 351.30) scale(0.88 1)" font-family="Liberation Sans, Arial, sans-serif" font-size="9.0" font-weight="normal" text-anchor="start" fill="#222"  stroke="#222" stroke-width="0.25">10</text>
<text transform="translate(33.10 345.70) scale(0.88 1)" font-family="Liberation Sans, Arial, sans-serif" font-size="7.4" font-weight="normal" text-anchor="start" fill="#222"  stroke="#222" stroke-width="0.25">0</text>
<text transform="translate(23.60 343.40) rotate(-90) scale(0.88 1)" font-family="Liberation Sans, Arial, sans-serif" font-size="9.0" font-weight="normal" text-anchor="start" fill="#222">10</text>
<text transform="translate(19.20 333.30) rotate(-90) scale(0.88 1)" font-family="Liberation Sans, Arial, sans-serif" font-size="7.4" font-weight="normal" text-anchor="start" fill="#222">0</text>
<text transform="translate(48.25 351.30) scale(0.88 1)" font-family="Liberation Sans, Arial, sans-serif" font-size="9.0" font-weight="normal" text-anchor="start" fill="#222"  stroke="#222" stroke-width="0.25">10</text>
<text transform="translate(56.85 345.70) scale(0.88 1)" font-family="Liberation Sans, Arial, sans-serif" font-size="7.4" font-weight="normal" text-anchor="start" fill="#222"  stroke="#222" stroke-width="0.25">1</text>
<text transform="translate(23.60 321.15) rotate(-90) scale(0.88 1)" font-family="Liberation Sans, Arial, sans-serif" font-size="9.0" font-weight="normal" text-anchor="start" fill="#222">10</text>
<text transform="translate(19.20 311.05) rotate(-90) scale(0.88 1)" font-family="Liberation Sans, Arial, sans-serif" font-size="7.4" font-weight="normal" text-anchor="start" fill="#222">1</text>
<text transform="translate(72.00 351.30) scale(0.88 1)" font-family="Liberation Sans, Arial, sans-serif" font-size="9.0" font-weight="normal" text-anchor="start" fill="#222"  stroke="#222" stroke-width="0.25">10</text>
<text transform="translate(80.60 345.70) scale(0.88 1)" font-family="Liberation Sans, Arial, sans-serif" font-size="7.4" font-weight="normal" text-anchor="start" fill="#222"  stroke="#222" stroke-width="0.25">2</text>
<text transform="translate(23.60 298.90) rotate(-90) scale(0.88 1)" font-family="Liberation Sans, Arial, sans-serif" font-size="9.0" font-weight="normal" text-anchor="start" fill="#222">10</text>
<text transform="translate(19.20 288.80) rotate(-90) scale(0.88 1)" font-family="Liberation Sans, Arial, sans-serif" font-size="7.4" font-weight="normal" text-anchor="start" fill="#222">2</text>
<text transform="translate(95.75 351.30) scale(0.88 1)" font-family="Liberation Sans, Arial, sans-serif" font-size="9.0" font-weight="normal" text-anchor="start" fill="#222"  stroke="#222" stroke-width="0.25">10</text>
<text transform="translate(104.35 345.70) scale(0.88 1)" font-family="Liberation Sans, Arial, sans-serif" font-size="7.4" font-weight="normal" text-anchor="start" fill="#222"  stroke="#222" stroke-width="0.25">3</text>
<text transform="translate(23.60 276.65) rotate(-90) scale(0.88 1)" font-family="Liberation Sans, Arial, sans-serif" font-size="9.0" font-weight="normal" text-anchor="start" fill="#222">10</text>
<text transform="translate(19.20 266.55) rotate(-90) scale(0.88 1)" font-family="Liberation Sans, Arial, sans-serif" font-size="7.4" font-weight="normal" text-anchor="start" fill="#222">3</text>
<text transform="translate(119.50 351.30) scale(0.88 1)" font-family="Liberation Sans, Arial, sans-serif" font-size="9.0" font-weight="normal" text-anchor="start" fill="#222"  stroke="#222" stroke-width="0.25">10</text>
<text transform="translate(128.10 345.70) scale(0.88 1)" font-family="Liberation Sans, Arial, sans-serif" font-size="7.4" font-weight="normal" text-anchor="start" fill="#222"  stroke="#222" stroke-width="0.25">4</text>
<text transform="translate(23.60 254.40) rotate(-90) scale(0.88 1)" font-family="Liberation Sans, Arial, sans-serif" font-size="9.0" font-weight="normal" text-anchor="start" fill="#222">10</text>
<text transform="translate(19.20 244.30) rotate(-90) scale(0.88 1)" font-family="Liberation Sans, Arial, sans-serif" font-size="7.4" font-weight="normal" text-anchor="start" fill="#222">4</text>
<text transform="translate(13.20 310.00) rotate(-90) scale(0.98 1)" font-family="Liberation Sans, Arial, sans-serif" font-size="8.2" font-weight="normal" text-anchor="start" fill="#222">TOPRO</text>
<text transform="translate(77.10 359.90) scale(0.95 1)" font-family="Liberation Sans, Arial, sans-serif" font-size="8.0" font-weight="normal" text-anchor="middle" fill="#222"  stroke="#222" stroke-width="0.25">AnnexinFITC</text>
<text x="120.60" y="258.45" font-family="Liberation Sans, Arial, sans-serif" font-size="8.2" font-weight="normal" text-anchor="end" fill="#333" >2%</text>
<text x="120.60" y="325.45" font-family="Liberation Sans, Arial, sans-serif" font-size="8.2" font-weight="normal" text-anchor="end" fill="#333" >4%</text>
<text x="73.00" y="236.80" font-family="Liberation Serif, Times New Roman, serif" font-size="10.5" font-weight="normal" text-anchor="middle" fill="#111" >Control</text>
<clipPath id="c268"><rect x="158.5" y="246.0" width="97" height="89.5"/></clipPath><g clip-path="url(#c268)">
<path d="M185.2 313.8L186.8 314.0L186.6 314.8L186.4 315.6L185.8 316.4L185.9 317.2L186.1 318.0L184.8 318.8L183.6 319.5L182.1 320.0L182.1 321.1L181.5 322.1L180.0 322.5L178.3 322.4L177.5 323.4L176.3 324.3L175.0 323.8L173.7 324.6L172.3 325.1L170.9 325.4L170.7 323.9L169.8 323.7L167.9 324.6L166.7 324.5L166.5 323.7L165.6 323.5L165.2 322.8L163.5 322.9L165.7 321.2L163.6 321.3L164.7 320.2L164.3 319.7L165.1 318.9L164.9 318.2L164.7 317.4L165.2 316.7L164.8 315.7L166.8 315.2L167.4 314.3L168.4 313.6L169.5 313.0L170.3 312.0L171.9 311.9L173.1 311.4L174.4 311.1L175.6 310.8L176.9 310.6L178.3 309.9L179.3 310.3L180.4 310.3L181.4 310.5L182.8 310.3L183.0 311.2L184.7 310.9L184.4 312.0L185.8 312.0L187.2 312.2Z" fill="#050505" filter="url(#bl)"/>
<path d="M166.0 318.3h0M180.2 309.6h0M169.7 324.9h0M183.1 311.5h0M166.7 323.0h0M163.2 319.4h0M170.3 309.4h0M182.8 319.5h0M180.7 309.2h0M163.8 317.8h0M169.0 327.9h0M164.5 319.4h0M180.5 320.7h0M183.9 309.5h0M185.2 314.8h0M164.6 322.1h0M167.6 326.9h0M170.3 324.6h0M184.5 311.0h0M165.3 321.9h0M167.8 324.6h0M175.3 311.6h0M169.4 324.1h0M167.4 327.2h0M164.9 319.7h0M170.7 326.1h0M183.4 320.6h0M184.8 314.7h0M188.1 315.6h0M182.4 319.5h0M184.9 316.0h0M171.4 311.5h0M187.1 307.9h0M159.5 320.2h0M189.6 317.1h0M167.0 322.8h0M172.1 310.2h0M169.2 323.3h0M182.0 309.5h0M159.5 317.4h0M184.4 315.4h0M182.7 318.6h0M169.9 312.6h0M183.4 318.2h0M181.8 321.3h0M163.7 312.2h0M165.9 329.4h0M166.4 323.1h0M176.7 322.8h0M196.0 307.7h0M170.6 313.5h0M180.7 320.6h0M169.6 325.5h0M186.0 315.9h0M169.5 314.5h0M163.9 324.4h0M164.7 318.3h0M181.8 310.4h0M171.3 324.2h0M187.1 310.2h0M183.4 311.0h0M182.4 319.3h0M167.7 325.0h0M188.1 313.0h0M175.4 311.0h0M188.1 313.0h0M166.1 324.4h0M162.9 318.8h0M162.6 327.6h0M189.1 309.8h0M166.2 316.7h0M169.3 323.7h0M184.2 309.7h0M175.6 309.5h0M186.8 312.8h0M172.0 325.5h0M176.3 323.9h0M184.8 321.0h0M165.3 321.5h0M182.4 312.2h0M185.3 310.5h0M184.4 320.2h0M160.4 318.8h0M165.0 317.9h0M182.8 312.4h0M174.8 312.0h0M175.2 323.0h0M180.8 310.8h0M171.7 312.8h0M171.3 311.9h0M185.0 317.6h0M171.4 313.0h0M167.8 315.2h0M166.7 327.2h0M196.0 304.8h0M166.0 323.8h0M177.2 309.6h0M162.3 324.4h0M163.5 327.4h0M166.0 321.7h0M173.1 312.5h0M169.4 314.5h0M185.8 313.1h0M172.6 312.7h0M166.8 315.8h0M177.6 324.5h0M185.9 314.9h0M188.1 317.0h0M181.1 311.8h0M165.1 322.5h0M170.3 311.9h0M168.9 327.6h0M180.4 320.8h0M177.0 311.5h0M181.2 321.3h0M171.7 323.6h0M183.8 311.6h0M175.3 311.6h0M182.3 311.8h0M183.3 310.7h0M187.0 311.7h0M166.0 315.9h0M179.8 310.7h0M189.0 317.7h0M176.9 310.1h0M172.8 312.4h0M162.6 323.8h0M189.2 310.1h0M183.3 320.6h0M164.6 319.2h0M181.3 320.2h0M164.8 322.4h0M175.8 323.3h0M162.3 319.6h0M166.0 317.7h0M181.4 311.1h0M192.3 308.3h0M183.8 319.5h0M184.6 312.7h0M164.9 319.4h0M184.8 315.0h0M183.4 318.7h0M165.8 316.0h0M185.5 311.4h0M166.8 328.0h0M166.1 315.8h0M180.9 309.9h0M169.4 324.8h0M172.8 328.4h0M179.1 326.8h0M184.1 316.4h0M165.3 319.1h0M165.5 320.7h0M179.2 309.9h0M166.0 312.2h0M186.7 312.9h0M171.2 313.5h0M185.6 315.6h0M184.4 312.9h0M166.0 318.5h0M163.7 326.1h0M162.3 317.8h0M184.8 314.4h0M183.1 321.9h0M189.4 317.9h0M176.2 325.6h0M164.8 320.6h0M184.7 312.7h0M170.3 313.9h0M180.9 305.4h0M186.1 318.3h0M175.6 323.0h0M169.0 325.0h0M194.4 306.7h0M186.4 313.1h0M168.1 315.3h0M171.2 312.3h0M167.9 327.0h0M176.5 322.7h0M181.7 319.9h0M162.6 317.9h0M182.6 320.3h0M164.1 318.4h0M166.7 324.0h0M184.4 314.6h0M167.3 323.1h0M173.5 312.1h0M177.7 311.2h0M185.1 317.4h0M168.6 323.8h0M174.0 312.0h0M166.2 313.6h0M165.3 322.9h0M184.1 311.0h0M180.5 320.6h0M184.7 317.0h0M186.1 317.2h0M167.0 323.2h0M159.4 322.6h0M177.2 322.4h0M173.4 323.8h0M183.9 310.3h0M167.2 322.8h0M184.5 315.6h0M179.8 310.0h0M183.2 320.3h0M185.9 315.9h0M171.8 323.5h0M172.1 311.2h0M165.4 320.6h0M168.1 314.5h0M168.5 315.1h0M181.4 312.0h0M178.7 322.3h0M179.7 321.1h0M162.9 309.9h0M171.6 323.8h0M168.7 314.6h0M166.7 324.7h0M167.2 322.8h0M185.9 316.4h0M190.1 311.5h0M185.0 317.7h0M165.5 321.4h0M168.0 314.4h0M176.8 311.2h0M186.0 310.3h0M166.0 321.7h0M165.8 321.4h0M168.1 313.3h0M160.2 318.8h0M187.3 315.1h0M176.2 311.7h0M172.6 323.4h0M163.2 318.1h0M170.0 325.2h0M168.6 325.3h0M175.4 328.3h0M167.3 322.4h0M186.6 317.3h0M180.9 310.1h0M185.2 320.9h0M171.3 313.3h0M167.9 324.9h0M184.2 314.3h0M168.6 326.6h0M185.0 313.7h0M184.5 309.8h0M180.8 310.3h0M186.0 312.2h0M184.8 311.8h0M180.6 321.7h0M165.2 321.7h0M168.9 324.4h0M165.8 317.8h0M175.2 323.9h0M164.5 321.2h0M168.5 314.9h0M164.9 320.0h0M174.2 310.6h0M175.0 311.0h0M178.1 325.7h0M164.6 320.8h0M174.3 323.8h0M169.1 311.9h0M163.0 322.7h0M179.4 322.1h0M170.2 323.9h0M168.9 325.6h0M172.1 312.7h0M178.8 323.8h0M166.4 314.7h0M165.3 315.6h0M175.5 322.9h0M170.5 323.4h0M185.1 312.3h0M163.7 312.4h0M176.5 311.4h0M171.7 323.5h0M176.2 309.9h0M165.0 321.6h0M175.7 323.7h0M168.8 311.2h0M180.9 308.4h0M166.1 323.1h0M171.2 328.9h0M180.6 320.7h0M175.0 326.6h0M179.5 311.0h0M181.4 308.1h0M167.2 322.9h0M174.5 311.6h0M187.8 318.9h0M166.2 323.0h0M165.8 317.5h0M185.5 314.5h0M169.6 323.3h0M168.0 325.5h0M171.1 325.1h0M166.9 316.4h0M187.0 314.0h0M166.1 316.9h0M181.8 323.0h0M182.2 311.7h0M164.3 317.9h0M172.6 323.4h0M171.7 324.9h0M165.1 317.2h0M183.3 318.6h0M173.0 324.1h0M167.5 327.0h0M192.1 319.1h0M178.5 324.6h0M177.6 323.3h0M169.7 323.3h0M176.3 309.4h0M175.9 324.8h0M159.9 326.0h0M185.3 315.8h0M178.8 323.0h0M174.8 309.5h0M164.6 319.4h0M176.1 311.7h0M176.6 324.4h0M159.3 328.8h0M185.0 317.3h0M178.8 321.5h0M183.8 317.4h0M169.4 324.2h0M165.0 320.8h0M169.8 313.1h0M184.3 313.5h0M164.1 321.0h0M167.3 326.4h0M181.3 323.5h0M170.2 324.0h0M165.2 316.6h0M174.8 323.1h0M184.3 312.4h0M185.3 318.4h0M164.8 320.0h0M170.9 326.3h0M171.2 324.2h0M184.3 312.5h0M168.3 323.3h0M166.9 314.4h0M165.9 322.9h0M178.9 323.8h0M162.7 324.1h0M168.0 325.3h0M184.9 315.0h0M186.0 311.7h0M168.3 314.1h0M165.8 321.8h0M182.4 321.0h0M169.8 313.8h0M167.7 315.6h0M166.5 316.8h0M164.9 320.8h0M165.5 319.2h0M163.9 322.3h0M183.1 319.1h0M168.3 313.9h0M163.8 316.4h0M165.4 318.4h0M163.4 324.6h0M162.6 318.9h0M169.6 324.3h0M187.6 311.4h0M168.1 315.4h0M166.8 316.9h0M189.9 307.7h0M171.8 312.8h0M178.9 311.3h0M178.2 310.5h0M189.7 313.0h0M163.5 324.7h0M168.9 313.6h0M179.8 311.3h0M182.0 311.3h0M185.3 314.8h0M184.2 316.4h0M167.0 316.4h0M182.0 320.0h0M175.2 326.5h0M185.1 309.0h0M185.4 313.3h0M176.0 311.4h0M185.6 310.1h0M172.0 312.7h0M189.6 317.3h0M163.5 319.5h0M179.7 311.4h0M169.7 313.3h0M175.4 311.1h0M183.6 323.9h0M175.0 324.9h0M178.1 311.2h0M169.6 313.6h0M178.4 322.0h0M184.2 312.4h0M164.1 321.1h0M187.7 314.1h0M171.8 310.1h0M170.5 323.7h0M169.9 325.5h0M167.7 314.9h0M165.3 320.1h0M183.3 311.3h0M162.0 321.9h0M181.2 322.2h0M169.1 326.0h0M184.3 317.5h0M166.4 315.8h0M168.5 324.6h0M179.1 322.2h0M188.0 312.9h0M177.3 324.8h0M163.6 319.5h0M167.1 316.3h0M174.8 311.7h0M181.5 309.2h0M166.9 313.3h0M165.0 323.9h0M183.6 312.7h0M184.6 317.7h0M165.4 320.6h0M180.2 323.9h0M169.0 323.4h0M181.6 321.3h0M180.9 321.4h0M164.3 319.9h0M161.4 322.2h0M190.8 312.7h0M179.6 321.1h0M174.1 311.1h0M165.1 319.7h0M175.0 311.6h0M171.7 312.9h0M163.6 318.6h0M169.1 324.3h0M186.5 316.1h0M169.9 314.0h0M162.6 319.7h0M187.5 317.8h0M180.0 311.6h0M176.9 322.4h0M176.7 322.5h0M165.4 321.4h0M173.7 324.1h0M167.9 325.7h0M171.6 313.1h0M178.3 321.7h0M172.1 323.5h0M168.5 312.6h0M184.6 313.8h0M187.8 314.6h0M163.3 326.7h0M168.4 323.7h0M191.0 316.0h0M164.4 320.9h0M164.3 324.4h0M178.4 310.6h0M181.3 320.8h0M181.8 311.1h0M167.3 314.6h0M164.7 322.9h0M177.5 323.3h0M179.8 311.5h0M167.3 326.6h0M183.8 313.5h0M165.3 316.0h0M179.2 310.6h0M183.2 318.9h0M169.8 312.2h0M180.4 322.3h0M166.6 314.6h0M185.7 314.5h0M171.8 324.7h0M171.7 323.6h0M168.6 314.6h0M175.6 311.4h0M161.7 320.1h0M185.8 318.5h0M190.7 315.8h0M187.5 314.1h0M169.9 323.6h0M167.8 324.1h0M167.8 323.0h0M164.9 320.3h0M184.6 312.7h0M166.8 322.8h0M184.5 312.9h0M164.8 314.8h0M166.7 325.2h0M175.1 323.0h0M185.7 315.3h0M180.4 311.4h0M164.2 324.2h0M175.3 323.1h0M164.4 320.6h0M187.5 309.6h0M178.0 323.1h0M168.0 322.8h0M161.8 325.4h0M173.4 324.5h0M171.0 313.5h0M182.5 312.2h0M173.4 325.1h0M185.4 314.5h0M183.9 318.9h0M184.6 314.6h0M178.4 321.8h0M184.1 317.3h0M165.4 320.4h0M177.7 310.9h0M176.8 322.8h0M178.4 311.6h0M172.7 312.7h0M184.1 312.1h0M162.0 317.4h0M183.5 317.7h0M169.0 313.3h0M171.3 313.0h0M165.4 321.1h0M166.6 322.9h0M165.5 317.9h0M175.4 324.3h0M187.5 317.0h0M165.3 321.2h0M184.5 318.4h0M162.8 321.8h0M169.1 324.1h0M181.5 311.4h0M189.1 311.3h0M190.9 311.1h0M177.0 324.8h0M166.4 316.8h0M186.6 313.2h0M177.1 310.5h0M188.5 316.6h0M181.1 320.6h0M166.6 316.7h0M163.7 323.3h0M186.0 317.5h0M184.7 317.9h0M166.1 314.9h0M184.8 315.5h0M184.5 312.5h0M166.8 323.3h0M168.6 312.8h0M167.3 315.2h0M164.3 318.6h0M184.2 323.3h0M186.9 311.5h0M185.5 313.4h0M178.6 311.2h0M172.1 311.2h0M186.5 310.3h0M180.8 311.3h0M175.5 311.1h0M172.9 324.0h0M176.6 309.1h0M179.7 309.9h0M181.2 320.3h0M165.4 318.6h0M171.7 323.5h0M183.8 320.4h0M179.9 323.9h0M170.8 326.3h0M173.6 323.6h0M168.9 323.1h0M166.4 323.1h0M189.1 313.0h0M169.8 323.3h0M184.0 312.8h0M176.6 322.4h0M186.2 317.7h0M164.6 318.1h0M177.2 322.7h0M184.7 312.8h0M189.2 311.8h0M186.6 319.1h0M187.3 314.0h0M177.2 309.9h0M161.7 319.9h0M183.0 320.1h0M176.0 323.4h0M181.6 321.9h0M162.4 318.6h0M165.6 316.0h0M185.4 310.0h0M165.0 318.7h0M183.3 311.8h0M184.2 317.8h0M167.8 311.0h0M166.0 315.1h0M185.8 310.6h0M165.7 323.0h0M173.7 311.9h0M185.2 318.2h0M176.8 311.3h0M166.5 312.5h0M182.9 318.7h0M165.0 321.4h0M195.5 305.7h0M163.7 324.3h0M167.2 316.1h0M184.1 313.2h0M185.3 316.7h0M185.9 314.3h0M162.5 327.3h0M164.6 325.6h0M174.9 310.8h0M177.7 322.5h0M164.8 321.5h0M166.7 315.3h0M171.9 324.8h0M184.6 313.9h0M171.8 323.4h0M183.7 317.4h0M164.3 325.2h0M166.2 310.8h0M179.0 310.2h0M166.2 318.0h0M169.0 323.7h0M167.0 316.5h0M164.6 319.7h0M164.8 321.5h0M186.3 317.8h0M176.4 310.5h0M184.9 318.4h0M185.8 305.0h0M173.7 312.4h0M181.9 310.1h0M175.4 326.5h0M179.2 308.1h0M177.3 323.4h0M169.1 323.8h0M173.6 311.1h0M171.5 324.6h0M184.1 311.3h0M183.4 311.0h0M184.1 313.9h0M164.8 322.9h0M169.1 309.2h0M165.9 316.3h0M166.1 315.8h0M167.4 310.8h0M185.2 314.3h0M208.4 315.3h0M195.3 315.8h0M195.3 312.5h0M186.9 316.6h0M203.8 315.6h0M207.8 310.6h0M195.3 313.9h0M205.3 319.7h0M193.6 317.9h0M195.4 312.7h0M196.3 312.6h0M207.4 316.3h0M205.0 315.9h0M180.8 319.2h0M197.6 308.6h0M197.7 318.4h0M208.5 311.6h0M202.3 316.0h0M195.9 314.8h0M200.6 316.9h0M201.4 313.9h0M188.2 320.1h0M205.7 313.1h0M196.8 317.8h0M185.3 317.9h0M213.2 314.9h0M192.3 321.8h0M197.1 316.1h0M194.2 316.3h0M185.0 312.8h0M187.1 319.0h0M196.4 318.9h0M183.4 314.9h0M206.8 312.4h0M184.5 314.4h0M194.7 315.7h0M205.8 318.6h0M207.4 316.3h0M193.7 314.4h0M187.1 320.0h0M205.4 315.0h0M191.0 318.0h0M200.3 315.7h0M189.2 316.9h0M193.2 318.0h0M201.0 316.4h0M194.1 320.1h0M202.2 318.7h0M202.6 316.9h0M199.6 312.2h0M184.8 313.8h0M201.1 317.8h0M198.2 315.7h0M209.3 313.3h0M185.0 312.1h0M194.9 317.7h0M201.9 314.4h0M202.5 314.9h0M192.2 314.8h0M202.1 317.8h0M189.5 313.3h0M197.8 321.6h0M189.2 312.6h0M199.8 316.7h0M192.9 315.8h0M200.3 310.2h0M196.9 317.2h0M203.2 318.3h0M196.5 311.4h0M206.0 317.0h0M192.7 318.9h0M204.0 314.5h0M181.2 315.5h0M191.9 313.5h0M196.5 312.4h0M199.6 320.7h0M189.0 319.2h0M193.4 317.4h0M196.2 319.3h0M192.2 318.0h0M191.8 316.6h0M196.9 318.6h0M186.4 312.5h0M206.3 315.8h0M208.4 311.6h0M198.4 317.1h0M208.9 314.3h0M194.0 317.8h0M196.3 313.4h0M202.1 309.6h0M190.2 320.0h0M193.7 314.9h0M199.5 318.5h0M200.5 312.4h0M193.2 318.8h0M196.2 313.8h0M202.9 318.3h0M211.6 311.2h0M192.3 313.9h0M199.4 313.9h0M204.5 307.1h0M203.5 313.1h0M195.2 317.3h0M198.4 312.5h0M207.1 316.3h0M193.7 316.4h0M189.6 312.6h0M195.0 316.7h0M197.7 313.2h0M187.7 311.5h0M207.7 315.6h0M191.6 319.4h0M200.6 314.0h0M192.9 319.1h0M199.2 320.0h0M199.4 313.6h0M193.0 313.8h0M198.7 316.1h0M201.1 316.4h0M190.0 315.5h0M190.7 317.4h0M188.2 314.6h0M191.2 314.2h0M195.3 320.0h0M195.3 311.5h0M195.0 317.8h0M200.7 315.9h0M210.4 317.5h0M197.6 318.9h0M188.0 315.8h0M191.2 316.5h0M207.9 313.2h0M207.7 311.7h0M206.6 309.8h0M191.3 318.8h0M196.4 316.0h0M196.9 316.0h0M195.8 312.8h0M195.1 316.0h0M191.0 317.4h0M208.8 309.8h0M193.3 315.0h0M197.1 315.8h0M192.1 315.8h0M197.0 315.3h0M207.3 315.0h0M187.1 311.9h0M201.0 314.2h0M192.8 312.0h0M194.9 315.4h0M168.1 327.0h0M177.1 330.3h0M175.1 327.5h0M164.2 330.3h0M180.6 331.7h0M178.7 328.8h0M174.2 328.0h0M179.2 327.2h0M184.4 330.3h0M170.2 328.0h0M162.7 325.9h0M170.3 334.0h0M167.3 330.7h0M172.4 327.1h0M175.6 322.2h0M177.4 333.6h0M173.7 327.8h0M172.9 329.9h0M169.2 328.4h0M174.9 327.0h0M174.2 329.0h0M176.1 325.1h0M168.9 326.8h0M178.9 328.7h0M162.5 324.3h0M183.2 329.0h0M164.6 325.3h0M172.8 332.2h0M181.3 326.9h0M170.3 333.6h0M166.3 332.6h0M174.0 328.3h0M179.4 329.4h0M167.2 323.6h0M172.1 329.5h0M179.9 320.4h0M179.7 329.8h0M180.7 330.3h0M173.2 329.3h0M174.3 326.2h0M171.3 328.4h0M169.4 323.7h0M163.7 329.5h0M175.0 328.3h0M165.3 330.5h0M169.7 322.0h0M181.0 323.7h0M185.0 329.6h0M169.5 321.2h0M167.9 332.3h0M179.8 328.8h0M162.1 326.9h0M170.4 329.3h0M171.3 329.0h0M162.6 326.1h0M180.3 323.8h0M177.3 334.2h0M175.8 324.0h0M179.2 322.6h0M173.9 326.8h0M190.2 321.2h0M191.2 311.3h0M218.4 323.0h0M239.0 309.0h0M237.7 332.2h0M220.1 314.8h0M214.0 334.0h0M235.2 322.6h0M213.4 312.5h0M197.4 333.6h0M235.2 327.1h0M190.4 330.7h0M240.6 314.5h0M194.9 330.4h0M233.3 316.5h0M212.7 330.9h0M203.6 309.0h0M190.0 323.1h0M190.7 307.6h0M191.7 308.8h0M229.3 314.7h0M190.5 315.7h0M207.7 321.2h0M192.8 320.6h0M226.6 330.9h0M231.8 323.1h0M197.0 328.0h0M205.9 317.0h0M211.9 310.5h0M208.7 320.6h0M240.1 328.6h0M190.1 325.6h0M198.9 331.1h0M203.8 333.5h0M235.0 321.4h0M232.0 315.7h0M221.8 314.0h0M198.5 314.8h0M194.8 319.5h0M213.4 313.6h0M193.5 325.1h0M228.1 312.8h0M239.3 331.2h0M194.9 331.5h0M221.4 314.4h0M216.6 313.5h0M208.9 319.3h0M235.0 317.0h0M217.1 318.6h0M207.7 314.1h0M212.1 330.9h0M204.2 323.1h0M204.5 319.3h0M201.1 323.9h0M204.2 324.4h0M238.8 332.0h0M190.1 315.0h0M202.7 322.3h0M213.2 324.5h0M196.0 334.0h0M231.6 309.2h0M197.8 321.9h0M199.4 332.8h0M233.0 311.9h0M196.1 327.5h0M219.7 313.0h0M206.4 324.0h0M195.8 312.9h0M230.9 311.3h0M192.0 318.4h0M239.8 315.2h0M205.9 330.5h0M190.8 314.7h0M190.9 312.7h0M217.7 321.7h0M232.9 309.3h0M214.7 331.7h0M213.0 323.1h0M196.4 309.4h0M221.8 331.1h0M195.6 325.2h0M212.1 325.7h0M204.9 312.5h0M194.0 315.0h0M199.7 309.0h0M237.3 325.6h0M214.1 331.4h0M203.4 317.6h0M216.0 325.2h0M190.3 331.0h0M211.4 329.8h0M198.6 317.8h0M233.6 320.5h0M196.6 318.7h0M197.4 313.4h0M193.2 327.3h0M204.8 310.0h0M193.5 329.2h0M192.5 328.6h0M199.8 323.8h0M223.7 323.5h0M206.7 323.7h0M224.7 310.1h0M204.2 309.6h0M196.4 308.1h0M209.4 316.1h0M202.0 327.1h0M192.6 310.6h0M201.0 315.6h0M206.0 320.2h0M194.8 329.6h0M200.0 316.1h0M210.4 334.3h0M220.5 322.8h0M190.9 327.4h0M195.0 312.3h0M210.8 325.6h0M196.3 326.6h0M197.6 325.1h0M225.8 313.2h0M219.7 310.6h0M217.0 331.3h0M190.5 330.0h0M196.7 320.2h0M228.0 318.7h0M204.4 327.9h0M239.6 314.2h0M200.2 333.1h0M239.6 327.5h0M229.8 331.2h0M216.9 324.8h0M232.7 326.4h0M191.7 329.0h0M226.9 308.1h0M216.3 316.1h0M197.7 327.1h0M191.3 307.9h0M190.5 317.9h0M200.6 329.4h0M204.7 309.4h0M196.3 330.0h0M215.5 316.7h0M208.6 329.6h0M231.6 331.4h0M193.7 327.9h0M208.8 321.6h0M211.0 314.9h0M233.1 321.8h0M190.5 312.1h0M190.2 325.8h0M192.8 318.2h0M225.2 330.9h0M198.2 311.5h0M219.2 331.5h0M219.0 313.1h0M203.3 330.2h0M217.3 325.8h0M192.5 330.0h0M203.0 331.0h0M202.2 319.6h0M210.9 323.5h0M226.5 332.0h0M199.7 309.3h0M230.9 309.7h0M224.1 320.0h0M225.6 319.0h0M192.1 327.5h0M191.6 310.9h0M199.3 323.4h0M210.1 331.7h0M232.7 295.3h0M206.6 303.8h0M204.2 300.7h0M226.6 298.8h0M208.2 298.3h0M228.0 302.7h0M236.0 289.3h0M226.0 296.4h0M228.7 290.9h0M220.8 302.2h0M216.4 298.3h0M213.4 305.0h0M210.4 296.9h0M219.1 298.1h0M240.5 297.4h0M214.7 302.5h0M225.0 299.7h0M221.4 301.0h0M211.7 295.5h0M218.3 294.9h0M228.1 306.2h0M232.8 299.2h0M225.0 295.7h0M210.6 303.0h0M209.0 302.2h0M220.8 302.3h0M222.4 299.4h0M216.9 292.5h0M219.0 302.4h0M231.2 303.4h0M213.3 296.4h0M228.1 296.2h0M244.5 296.9h0M208.7 298.7h0M235.8 289.3h0M223.3 293.0h0M236.0 295.0h0M213.0 293.2h0M215.8 289.2h0M217.8 308.8h0M222.9 297.8h0M211.8 302.0h0M217.9 296.1h0M234.1 299.0h0M214.2 306.4h0M221.5 301.2h0M223.3 303.8h0M227.4 296.7h0M228.3 296.4h0M223.2 305.7h0M228.0 295.7h0M218.8 288.9h0M243.6 281.4h0M236.6 306.0h0M209.3 296.5h0M246.7 271.3h0M214.8 307.1h0M217.3 306.4h0M231.5 291.0h0M229.2 300.4h0M232.7 294.7h0M224.8 300.7h0M229.8 303.4h0M238.1 265.0h0M225.7 303.6h0M217.2 280.6h0M196.2 298.8h0M220.5 289.2h0M219.7 300.2h0M228.9 272.4h0M204.4 291.8h0M242.2 305.3h0M216.4 307.0h0M242.9 301.4h0M242.9 265.3h0M198.9 296.7h0M242.7 301.6h0M215.6 282.7h0M230.8 305.5h0M232.1 298.9h0M210.5 305.9h0M224.6 275.7h0M233.2 285.2h0M228.0 269.5h0M228.5 304.3h0M241.3 295.9h0M229.0 296.2h0M195.0 305.6h0M238.2 264.6h0M234.0 289.1h0M221.1 307.2h0M214.2 306.0h0M214.9 295.9h0M246.7 299.6h0M211.6 297.2h0M232.3 299.6h0M207.6 287.7h0M231.3 298.2h0M209.5 288.5h0M225.1 284.2h0M229.5 296.4h0M227.7 261.9h0M248.2 291.1h0M230.2 280.5h0M216.1 283.9h0M242.3 296.0h0M230.8 267.0h0M246.4 306.2h0M218.7 294.5h0M241.7 285.2h0M194.3 306.0h0M200.3 292.5h0M230.2 303.0h0M243.9 298.6h0M229.9 291.8h0M195.5 301.7h0M218.4 288.6h0M236.0 305.2h0M226.9 296.5h0M233.4 283.3h0M210.3 306.8h0M230.2 300.0h0M220.2 298.9h0M195.5 296.6h0M208.3 281.5h0M235.3 304.9h0M197.9 305.6h0M226.6 302.1h0M237.9 304.9h0M246.3 296.7h0M234.6 275.0h0M244.2 305.8h0M219.5 299.1h0M247.0 306.3h0M249.0 293.7h0M232.3 292.7h0M223.0 280.1h0M232.3 263.5h0M233.4 290.4h0" stroke="#111" stroke-width="1.05" stroke-linecap="square" fill="none" opacity="0.88"/>
</g>
<rect x="158.50" y="246.00" width="97.00" height="89.50" fill="none" stroke="#111" stroke-width="1.15"/>
<line x1="186.50" y1="246.00" x2="186.50" y2="335.50" stroke="#111" stroke-width="1.15"/>
<line x1="158.50" y1="309.50" x2="255.50" y2="309.50" stroke="#111" stroke-width="1.15"/>
<path d="M158.50 335.50v3.2M158.50 335.50h-3.2M165.80 335.50v1.8M158.50 328.76h-1.8M170.07 335.50v1.8M158.50 324.82h-1.8M173.10 335.50v1.8M158.50 322.03h-1.8M175.45 335.50v1.8M158.50 319.86h-1.8M177.37 335.50v1.8M158.50 318.09h-1.8M178.99 335.50v1.8M158.50 316.59h-1.8M180.40 335.50v1.8M158.50 315.29h-1.8M181.64 335.50v1.8M158.50 314.15h-1.8M182.75 335.50v3.2M158.50 313.12h-3.2M190.05 335.50v1.8M158.50 306.39h-1.8M194.32 335.50v1.8M158.50 302.45h-1.8M197.35 335.50v1.8M158.50 299.65h-1.8M199.70 335.50v1.8M158.50 297.49h-1.8M201.62 335.50v1.8M158.50 295.71h-1.8M203.24 335.50v1.8M158.50 294.22h-1.8M204.65 335.50v1.8M158.50 292.92h-1.8M205.89 335.50v1.8M158.50 291.77h-1.8M207.00 335.50v3.2M158.50 290.75h-3.2M214.30 335.50v1.8M158.50 284.01h-1.8M218.57 335.50v1.8M158.50 280.07h-1.8M221.60 335.50v1.8M158.50 277.28h-1.8M223.95 335.50v1.8M158.50 275.11h-1.8M225.87 335.50v1.8M158.50 273.34h-1.8M227.49 335.50v1.8M158.50 271.84h-1.8M228.90 335.50v1.8M158.50 270.54h-1.8M230.14 335.50v1.8M158.50 269.40h-1.8M231.25 335.50v3.2M158.50 268.38h-3.2M238.55 335.50v1.8M158.50 261.64h-1.8M242.82 335.50v1.8M158.50 257.70h-1.8M245.85 335.50v1.8M158.50 254.90h-1.8M248.20 335.50v1.8M158.50 252.74h-1.8M250.12 335.50v1.8M158.50 250.96h-1.8M251.74 335.50v1.8M158.50 249.47h-1.8M253.15 335.50v1.8M158.50 248.17h-1.8M254.39 335.50v1.8M158.50 247.02h-1.8M255.50 335.50v3.2M158.50 246.00h-3.2" stroke="#111" stroke-width="0.9" fill="none"/>
<text transform="translate(153.50 350.30) scale(0.88 1)" font-family="Liberation Sans, Arial, sans-serif" font-size="9.0" font-weight="normal" text-anchor="start" fill="#222"  stroke="#222" stroke-width="0.25">10</text>
<text transform="translate(162.10 344.70) scale(0.88 1)" font-family="Liberation Sans, Arial, sans-serif" font-size="7.4" font-weight="normal" text-anchor="start" fill="#222"  stroke="#222" stroke-width="0.25">0</text>
<text transform="translate(152.60 342.40) rotate(-90) scale(0.88 1)" font-family="Liberation Sans, Arial, sans-serif" font-size="9.0" font-weight="normal" text-anchor="start" fill="#222">10</text>
<text transform="translate(148.20 332.30) rotate(-90) scale(0.88 1)" font-family="Liberation Sans, Arial, sans-serif" font-size="7.4" font-weight="normal" text-anchor="start" fill="#222">0</text>
<text transform="translate(177.75 350.30) scale(0.88 1)" font-family="Liberation Sans, Arial, sans-serif" font-size="9.0" font-weight="normal" text-anchor="start" fill="#222"  stroke="#222" stroke-width="0.25">10</text>
<text transform="translate(186.35 344.70) scale(0.88 1)" font-family="Liberation Sans, Arial, sans-serif" font-size="7.4" font-weight="normal" text-anchor="start" fill="#222"  stroke="#222" stroke-width="0.25">1</text>
<text transform="translate(152.60 320.02) rotate(-90) scale(0.88 1)" font-family="Liberation Sans, Arial, sans-serif" font-size="9.0" font-weight="normal" text-anchor="start" fill="#222">10</text>
<text transform="translate(148.20 309.93) rotate(-90) scale(0.88 1)" font-family="Liberation Sans, Arial, sans-serif" font-size="7.4" font-weight="normal" text-anchor="start" fill="#222">1</text>
<text transform="translate(202.00 350.30) scale(0.88 1)" font-family="Liberation Sans, Arial, sans-serif" font-size="9.0" font-weight="normal" text-anchor="start" fill="#222"  stroke="#222" stroke-width="0.25">10</text>
<text transform="translate(210.60 344.70) scale(0.88 1)" font-family="Liberation Sans, Arial, sans-serif" font-size="7.4" font-weight="normal" text-anchor="start" fill="#222"  stroke="#222" stroke-width="0.25">2</text>
<text transform="translate(152.60 297.65) rotate(-90) scale(0.88 1)" font-family="Liberation Sans, Arial, sans-serif" font-size="9.0" font-weight="normal" text-anchor="start" fill="#222">10</text>
<text transform="translate(148.20 287.55) rotate(-90) scale(0.88 1)" font-family="Liberation Sans, Arial, sans-serif" font-size="7.4" font-weight="normal" text-anchor="start" fill="#222">2</text>
<text transform="translate(226.25 350.30) scale(0.88 1)" font-family="Liberation Sans, Arial, sans-serif" font-size="9.0" font-weight="normal" text-anchor="start" fill="#222"  stroke="#222" stroke-width="0.25">10</text>
<text transform="translate(234.85 344.70) scale(0.88 1)" font-family="Liberation Sans, Arial, sans-serif" font-size="7.4" font-weight="normal" text-anchor="start" fill="#222"  stroke="#222" stroke-width="0.25">3</text>
<text transform="translate(152.60 275.27) rotate(-90) scale(0.88 1)" font-family="Liberation Sans, Arial, sans-serif" font-size="9.0" font-weight="normal" text-anchor="start" fill="#222">10</text>
<text transform="translate(148.20 265.18) rotate(-90) scale(0.88 1)" font-family="Liberation Sans, Arial, sans-serif" font-size="7.4" font-weight="normal" text-anchor="start" fill="#222">3</text>
<text transform="translate(250.50 350.30) scale(0.88 1)" font-family="Liberation Sans, Arial, sans-serif" font-size="9.0" font-weight="normal" text-anchor="start" fill="#222"  stroke="#222" stroke-width="0.25">10</text>
<text transform="translate(259.10 344.70) scale(0.88 1)" font-family="Liberation Sans, Arial, sans-serif" font-size="7.4" font-weight="normal" text-anchor="start" fill="#222"  stroke="#222" stroke-width="0.25">4</text>
<text transform="translate(152.60 252.90) rotate(-90) scale(0.88 1)" font-family="Liberation Sans, Arial, sans-serif" font-size="9.0" font-weight="normal" text-anchor="start" fill="#222">10</text>
<text transform="translate(148.20 242.80) rotate(-90) scale(0.88 1)" font-family="Liberation Sans, Arial, sans-serif" font-size="7.4" font-weight="normal" text-anchor="start" fill="#222">4</text>
<text transform="translate(142.20 309.00) rotate(-90) scale(0.98 1)" font-family="Liberation Sans, Arial, sans-serif" font-size="8.2" font-weight="normal" text-anchor="start" fill="#222">TOPRO</text>
<text transform="translate(206.10 358.90) scale(0.95 1)" font-family="Liberation Sans, Arial, sans-serif" font-size="8.0" font-weight="normal" text-anchor="middle" fill="#222"  stroke="#222" stroke-width="0.25">AnnexinFITC</text>
<text x="250.90" y="257.95" font-family="Liberation Sans, Arial, sans-serif" font-size="8.2" font-weight="normal" text-anchor="end" fill="#333" >3%</text>
<text x="250.90" y="324.20" font-family="Liberation Sans, Arial, sans-serif" font-size="8.2" font-weight="normal" text-anchor="end" fill="#333" >5%</text>
<text x="208.00" y="237.00" font-family="Liberation Serif, Times New Roman, serif" font-size="10.5" font-weight="normal" text-anchor="middle" fill="#111" >ATRA</text>
<clipPath id="c301"><rect x="287.5" y="246.0" width="97" height="90.5"/></clipPath><g clip-path="url(#c301)">
<path d="M311.4 326.6L311.5 327.9L311.8 329.6L310.2 330.1L309.9 331.6L308.3 331.6L308.3 333.9L306.8 333.9L305.8 334.9L304.5 334.3L303.4 335.8L302.2 334.9L301.1 334.4L300.0 334.1L298.8 334.2L298.1 333.1L297.3 332.3L295.9 332.4L294.7 331.9L294.6 330.3L293.3 329.8L292.4 328.8L294.0 326.8L292.7 325.9L293.5 324.5L293.3 323.3L292.9 322.0L295.0 321.2L293.5 319.3L293.9 318.0L294.8 316.9L295.6 315.8L296.0 314.2L297.8 314.6L298.4 312.9L299.5 312.0L300.9 312.3L302.2 313.7L303.3 312.3L304.4 312.4L305.3 313.6L306.6 312.6L308.0 312.5L308.6 313.8L309.6 314.4L311.3 314.2L310.9 316.3L311.3 317.5L312.4 318.1L313.5 319.0L313.4 320.4L313.2 321.8L312.8 323.1L313.9 324.5L313.4 325.8Z" fill="#050505" filter="url(#bl)"/>
<path d="M312.9 312.6h0M306.9 333.2h0M296.9 317.4h0M295.2 332.1h0M302.1 311.9h0M299.2 314.3h0M308.7 329.8h0M313.4 314.1h0M311.4 320.8h0M307.3 314.6h0M295.5 329.5h0M313.8 316.1h0M310.5 316.4h0M312.0 322.5h0M295.9 315.1h0M300.3 333.8h0M309.2 334.2h0M303.1 333.1h0M297.2 334.0h0M299.9 313.2h0M312.9 316.1h0M301.6 334.7h0M304.0 333.3h0M305.1 332.4h0M291.7 332.2h0M301.4 314.4h0M300.9 335.0h0M296.0 319.1h0M308.6 332.4h0M298.6 315.8h0M307.6 314.5h0M297.2 315.0h0M290.8 334.2h0M293.7 327.2h0M293.1 316.1h0M314.1 326.4h0M294.0 317.0h0M298.3 307.6h0M314.3 325.1h0M301.1 334.8h0M294.1 324.2h0M308.0 314.8h0M304.4 312.5h0M291.9 325.4h0M307.4 303.0h0M314.1 327.4h0M298.0 334.6h0M289.3 319.0h0M293.7 323.8h0M311.3 328.4h0M295.4 318.5h0M307.8 332.5h0M308.9 330.2h0M293.7 324.0h0M293.7 320.1h0M294.7 327.2h0M311.9 328.1h0M311.9 324.7h0M295.1 329.5h0M306.4 312.9h0M308.3 315.8h0M306.0 332.5h0M294.4 328.7h0M289.7 330.6h0M292.7 324.4h0M313.5 324.4h0M296.3 312.8h0M296.3 329.8h0M313.0 324.0h0M297.8 316.6h0M306.4 313.4h0M300.5 314.0h0M312.3 321.3h0M295.9 335.4h0M301.0 333.5h0M290.2 319.2h0M306.8 332.0h0M308.4 315.6h0M291.3 326.5h0M304.9 310.3h0M308.6 334.5h0M292.4 331.0h0M290.0 321.6h0M294.3 321.8h0M305.2 334.0h0M309.6 329.2h0M312.5 318.2h0M310.8 318.4h0M293.6 321.5h0M307.3 331.9h0M314.2 321.2h0M293.6 319.4h0M316.5 314.4h0M298.4 316.1h0M311.0 318.8h0M300.1 332.9h0M293.8 319.2h0M293.3 322.9h0M306.2 335.1h0M295.6 318.2h0M314.6 312.5h0M320.7 319.9h0M309.4 330.6h0M294.0 323.6h0M307.8 308.9h0M306.0 333.7h0M316.0 325.0h0M294.4 323.5h0M293.1 323.1h0M308.1 315.0h0M293.3 335.2h0M312.3 327.8h0M309.3 333.5h0M288.9 326.2h0M300.0 335.2h0M300.9 332.8h0M308.0 330.6h0M289.3 330.5h0M293.3 330.6h0M311.2 329.0h0M296.1 318.5h0M297.0 315.7h0M293.5 333.1h0M303.2 313.9h0M307.1 331.3h0M298.1 334.4h0M318.8 325.4h0M310.8 318.5h0M310.1 312.7h0M288.5 320.4h0M298.5 315.8h0M301.4 333.1h0M298.1 313.6h0M310.4 318.3h0M317.7 330.1h0M298.9 332.8h0M310.8 318.6h0M311.3 311.0h0M295.6 316.0h0M312.5 327.4h0M297.8 312.4h0M295.5 319.6h0M300.6 335.3h0M308.4 330.4h0M298.3 334.3h0M295.8 317.6h0M313.2 324.4h0M299.7 334.6h0M311.2 317.6h0M292.7 324.7h0M313.1 326.2h0M303.4 334.9h0M295.7 331.4h0M304.4 314.2h0M294.7 319.9h0M296.6 312.6h0M292.6 322.3h0M297.6 332.1h0M294.0 319.5h0M300.4 335.2h0M294.4 320.4h0M297.9 335.3h0M317.2 318.6h0M299.8 332.6h0M300.1 315.0h0M312.5 316.7h0M295.2 330.6h0M302.8 313.8h0M292.4 330.3h0M302.6 312.1h0M307.5 331.6h0M299.4 332.3h0M300.0 312.9h0M313.1 321.6h0M312.7 321.3h0M295.0 319.4h0M288.7 322.2h0M295.1 321.4h0M295.3 329.2h0M299.1 313.7h0M289.2 321.1h0M306.9 314.7h0M312.2 329.4h0M297.2 314.0h0M295.2 320.6h0M290.7 323.5h0M298.7 315.9h0M308.2 334.3h0M296.2 318.1h0M304.7 307.8h0M312.6 317.4h0M308.9 316.0h0M291.1 322.5h0M295.8 329.7h0M313.0 317.2h0M310.7 326.8h0M291.9 313.0h0M297.5 310.9h0M308.0 332.9h0M303.3 333.7h0M305.3 333.8h0M311.3 330.2h0M299.6 309.2h0M307.2 314.8h0M312.2 317.9h0M312.9 322.5h0M309.8 332.5h0M304.5 335.7h0M292.1 315.6h0M294.3 320.9h0M301.3 311.5h0M294.0 322.9h0M291.9 325.9h0M300.7 333.1h0M292.7 321.1h0M309.2 330.2h0M311.8 324.8h0M307.7 314.3h0M308.8 331.7h0M313.7 317.1h0M311.5 330.5h0M299.0 313.9h0M301.6 312.7h0M303.3 335.7h0M306.3 332.7h0M311.8 316.8h0M293.1 318.9h0M294.1 320.8h0M296.7 318.0h0M295.7 329.0h0M315.8 327.7h0M301.2 314.2h0M310.9 317.8h0M310.2 314.0h0M297.4 313.1h0M297.0 334.8h0M293.9 316.5h0M310.4 317.0h0M293.8 326.1h0M311.3 333.8h0M302.9 312.6h0M292.8 315.4h0M309.3 330.6h0M303.0 312.3h0M294.6 320.6h0M300.6 335.4h0M291.0 333.8h0M318.8 318.0h0M297.7 333.4h0M307.6 332.0h0M309.4 331.2h0M314.5 324.0h0M294.9 328.8h0M311.5 322.3h0M313.6 314.8h0M313.2 334.8h0M300.6 313.6h0M292.6 325.4h0M292.1 316.9h0M311.9 320.0h0M313.6 328.1h0M300.4 312.2h0M308.5 330.1h0M312.1 320.1h0M289.3 321.0h0M302.5 335.3h0M310.2 330.8h0M305.8 314.0h0M310.1 306.8h0M312.1 314.2h0M314.2 323.2h0M293.6 315.7h0M310.2 314.2h0M302.0 313.9h0M295.5 330.2h0M313.4 316.3h0M291.0 335.4h0M309.1 329.4h0M296.4 330.1h0M312.3 323.4h0M290.9 328.9h0M294.3 317.7h0M293.3 324.3h0M312.0 323.9h0M294.7 318.6h0M305.5 332.5h0M292.2 319.0h0M294.5 324.6h0M311.7 322.5h0M311.0 319.7h0M301.0 314.3h0M298.7 333.4h0M307.0 313.4h0M293.6 325.7h0M295.1 319.2h0M311.8 323.6h0M306.4 333.7h0M293.4 330.8h0M311.7 329.9h0M290.2 331.7h0M296.7 332.2h0M295.6 331.8h0M297.0 334.1h0M292.0 326.5h0M297.1 332.6h0M294.8 315.8h0M300.9 313.3h0M308.1 330.7h0M305.2 332.7h0M303.2 335.4h0M291.7 333.2h0M300.4 333.3h0M303.2 333.1h0M302.7 312.1h0M298.2 334.2h0M302.3 312.9h0M297.9 313.5h0M294.4 324.1h0M289.6 332.1h0M293.2 329.1h0M309.8 333.4h0M311.4 318.1h0M293.9 328.8h0M299.5 332.9h0M306.9 334.4h0M289.2 317.4h0M315.8 324.5h0M315.4 322.9h0M310.4 327.8h0M315.6 325.7h0M298.5 313.4h0M293.4 324.5h0M305.6 334.1h0M298.5 332.1h0M312.4 317.9h0M311.5 318.9h0M297.2 316.3h0M310.0 316.7h0M300.5 312.8h0M296.5 330.2h0M293.5 321.0h0M309.5 316.2h0M303.1 333.7h0M308.9 315.5h0M300.2 314.9h0M309.8 332.6h0M295.0 320.8h0M288.7 321.3h0M293.2 327.7h0M293.1 325.6h0M313.3 331.5h0M297.2 316.0h0M297.9 332.0h0M315.5 322.0h0M293.3 328.6h0M296.4 317.6h0M312.3 329.7h0M304.5 334.5h0M310.4 327.3h0M304.5 335.1h0M294.5 305.6h0M301.3 312.7h0M316.7 330.0h0M290.9 320.2h0M312.8 330.9h0M294.4 322.0h0M294.6 326.2h0M297.5 316.3h0M303.8 313.7h0M303.2 311.8h0M305.3 306.7h0M296.1 333.6h0M290.0 328.5h0M311.8 314.3h0M298.3 315.4h0M318.9 318.7h0M312.2 323.4h0M311.2 314.7h0M312.8 314.9h0M293.6 323.3h0M309.8 313.6h0M292.6 315.9h0M309.9 328.0h0M294.5 322.7h0M310.1 317.5h0M311.4 319.3h0M306.8 335.2h0M302.4 313.0h0M297.5 314.6h0M312.9 323.3h0M295.2 317.8h0M292.2 326.5h0M308.0 333.8h0M314.5 321.7h0M295.7 317.8h0M307.6 331.1h0M292.5 315.8h0M310.9 318.5h0M307.6 310.7h0M290.7 321.0h0M303.0 333.8h0M293.0 318.7h0M293.9 323.7h0M311.6 318.2h0M294.1 325.5h0M292.4 321.0h0M293.4 329.9h0M295.1 321.1h0M312.0 324.2h0M291.0 313.8h0M301.9 333.0h0M302.0 333.2h0M311.6 317.0h0M310.2 328.9h0M295.2 319.9h0M293.7 335.5h0M294.1 323.9h0M298.4 315.9h0M293.7 318.5h0M308.9 332.1h0M295.1 333.4h0M297.1 310.4h0M298.8 315.4h0M303.1 335.6h0M309.0 316.2h0M294.0 325.7h0M290.3 322.0h0M294.8 315.5h0M307.3 314.2h0M299.1 314.4h0M293.2 321.9h0M301.9 314.0h0M310.1 317.2h0M294.0 334.2h0M311.9 325.7h0M311.4 323.5h0M311.8 323.8h0M312.4 330.0h0M304.8 335.3h0M310.8 326.8h0M295.5 328.8h0M293.9 322.2h0M306.1 312.8h0M315.3 324.7h0M304.4 335.5h0M312.9 319.6h0M295.6 319.0h0M296.4 330.7h0M302.4 335.2h0M294.2 332.7h0M294.9 314.0h0M310.4 334.1h0M293.4 319.4h0M299.5 335.4h0M292.0 327.0h0M297.8 316.3h0M295.5 333.9h0M312.3 328.2h0M294.3 316.6h0M295.4 331.1h0M291.9 321.5h0M309.5 331.2h0M298.4 334.2h0M299.1 332.7h0M299.3 335.1h0M291.3 331.1h0M305.7 313.7h0M296.8 317.9h0M313.6 322.1h0M307.5 332.9h0M292.9 320.2h0M294.8 334.9h0M299.6 315.2h0M312.7 312.6h0M295.5 333.4h0M314.6 315.6h0M311.3 332.9h0M298.5 335.6h0M303.0 312.7h0M314.7 319.4h0M317.5 328.1h0M295.6 314.8h0M302.0 313.1h0M293.8 320.2h0M301.4 333.5h0M313.5 314.8h0M303.7 311.3h0M293.8 319.4h0M301.9 314.4h0M289.6 324.4h0M301.8 334.4h0M308.7 330.6h0M309.4 316.8h0M310.7 312.6h0M311.2 318.5h0M312.4 322.2h0M289.6 323.6h0M294.5 316.8h0M306.9 331.3h0M299.0 332.3h0M309.8 316.3h0M313.8 324.0h0M302.7 334.5h0M295.6 331.8h0M310.9 333.2h0M309.1 313.7h0M303.2 313.2h0M306.4 332.7h0M306.3 312.5h0M305.9 332.6h0M294.9 322.1h0M310.6 329.5h0M307.3 335.0h0M307.1 334.9h0M308.8 315.0h0M288.5 312.0h0M299.0 314.4h0M311.8 325.1h0M312.1 323.8h0M293.8 325.4h0M300.1 309.6h0M303.1 313.7h0M313.6 326.5h0M291.6 318.7h0M308.0 333.1h0M309.8 312.3h0M302.3 314.2h0M294.3 321.8h0M298.5 314.7h0M293.0 323.2h0M295.3 312.3h0M297.9 332.3h0M303.1 333.0h0M314.9 314.2h0M306.5 332.8h0M315.6 319.3h0M321.7 327.2h0M297.3 331.1h0M299.2 334.0h0M310.9 327.4h0M292.4 321.8h0M304.7 332.7h0M296.3 330.1h0M306.4 331.9h0M311.5 311.6h0M312.5 330.8h0M311.9 316.0h0M295.1 334.5h0M308.2 330.4h0M311.9 323.7h0M314.4 320.6h0M309.6 328.9h0M300.8 314.4h0M301.6 311.7h0M300.3 334.2h0M301.0 335.1h0M299.2 312.5h0M299.6 315.2h0M314.1 318.3h0M293.9 319.0h0M292.2 320.2h0M295.5 318.5h0M295.2 319.6h0M312.1 327.2h0M313.2 317.4h0M301.6 334.6h0M296.8 315.0h0M293.2 322.9h0M303.1 308.9h0M292.6 318.3h0M302.6 314.0h0M299.0 333.1h0M294.4 329.8h0M289.2 334.7h0M305.7 313.3h0M304.2 307.8h0M304.8 334.9h0M312.3 324.0h0M314.2 317.5h0M296.5 330.6h0M309.5 315.1h0M294.7 329.9h0M306.4 308.8h0M314.5 320.7h0M303.7 333.8h0M311.0 326.9h0M295.8 329.8h0M294.6 322.0h0M301.0 313.4h0M299.0 335.2h0M296.5 330.0h0M312.4 315.2h0M311.5 319.0h0M297.9 334.8h0M307.0 335.7h0M300.9 312.7h0M309.8 329.5h0M288.5 326.8h0M305.7 334.3h0M313.3 335.4h0M307.5 310.6h0M306.4 314.2h0M300.2 332.6h0M296.6 317.9h0M302.9 333.2h0M314.8 320.9h0M293.5 335.3h0M304.5 332.8h0M291.7 329.2h0M309.2 334.0h0M293.7 316.2h0M296.2 329.7h0M308.9 333.5h0M292.5 319.1h0M302.3 333.6h0M301.1 334.8h0M303.9 313.8h0M305.0 314.2h0M294.1 322.5h0M308.3 312.0h0M302.8 313.7h0M311.4 329.9h0M303.4 314.2h0M314.0 313.8h0M294.1 329.5h0M299.8 308.5h0M300.7 313.0h0M307.9 313.5h0M311.3 329.0h0M293.8 325.9h0M294.4 327.0h0M294.9 333.3h0M312.2 319.2h0M310.3 317.6h0M293.0 318.5h0M308.3 314.3h0M304.9 335.5h0M298.0 313.5h0M295.7 329.4h0M296.6 316.3h0M313.3 319.0h0M307.3 312.8h0M306.5 314.4h0M312.6 326.7h0M298.3 315.7h0M309.3 333.0h0M305.6 311.6h0M298.9 333.8h0M308.2 312.7h0M311.4 321.0h0M318.1 318.2h0M314.5 316.1h0M321.7 319.8h0M314.0 312.1h0M322.2 320.1h0M318.6 316.5h0M325.4 309.2h0M316.5 322.3h0M319.7 321.0h0M312.5 324.7h0M322.7 314.9h0M322.0 316.0h0M318.0 318.9h0M317.3 319.8h0M322.9 323.6h0M320.5 320.7h0M313.2 319.9h0M319.9 318.7h0M316.2 315.3h0M321.8 320.5h0M307.1 335.6h0M320.4 319.0h0M322.5 320.0h0M324.7 314.4h0M321.8 321.4h0M311.1 331.8h0M316.5 313.3h0M317.8 324.2h0M314.2 319.7h0M316.4 318.8h0M307.7 329.6h0M314.2 323.8h0M318.2 310.2h0M317.7 314.5h0M317.4 316.1h0M317.5 318.6h0M318.9 321.4h0M314.1 326.7h0M326.1 317.2h0M326.2 322.3h0M323.2 315.0h0M323.1 307.5h0M310.5 324.8h0M324.8 318.3h0M313.9 313.9h0M319.0 320.2h0M312.6 320.1h0M317.0 316.6h0M308.4 317.4h0M317.9 327.9h0M323.8 315.1h0M314.1 322.3h0M316.0 320.3h0M320.9 319.7h0M322.0 326.6h0M312.7 328.4h0M310.1 318.0h0M323.0 312.6h0M315.2 321.2h0M314.8 318.6h0M318.6 317.5h0M315.6 316.6h0M313.6 323.5h0M330.6 312.6h0M311.7 330.7h0M322.7 315.6h0M315.6 318.7h0M319.1 313.2h0M318.7 308.0h0M313.6 315.5h0M316.0 319.0h0M316.6 320.0h0M322.7 329.4h0M316.4 321.3h0M316.7 320.2h0M315.7 317.7h0M319.2 325.2h0M318.6 318.4h0M316.8 313.3h0M313.8 321.0h0M321.7 317.9h0M314.4 319.7h0M321.6 317.5h0M322.1 310.3h0M319.3 313.2h0M310.3 321.9h0M320.1 320.5h0M322.6 317.7h0M308.4 326.0h0M321.7 315.6h0M336.8 333.1h0M352.3 324.2h0M322.5 316.5h0M319.5 331.2h0M335.8 313.9h0M321.7 329.6h0M354.9 328.1h0M364.6 335.0h0M324.9 328.7h0M358.8 333.2h0M347.2 316.3h0M319.6 325.0h0M324.2 332.7h0M325.1 319.6h0M341.2 332.6h0M326.8 334.0h0M335.6 314.7h0M368.3 330.9h0M325.6 331.3h0M344.4 322.6h0M338.0 318.7h0M338.7 328.6h0M346.9 315.0h0M319.6 324.9h0M321.7 319.3h0M333.5 317.3h0M346.9 314.8h0M341.5 322.6h0M329.0 333.1h0M364.1 334.0h0M364.2 315.3h0M346.4 315.0h0M343.1 319.3h0M342.5 330.6h0M320.2 319.4h0M334.5 332.7h0M340.3 329.7h0M325.9 316.5h0M343.8 319.3h0M356.6 326.0h0M334.5 326.1h0M329.9 318.6h0M361.4 329.0h0M349.6 330.7h0M319.1 320.6h0M353.9 328.3h0M328.3 319.0h0M358.5 332.4h0M363.4 326.0h0M326.3 327.3h0M338.6 324.0h0M327.2 334.1h0M344.5 319.9h0M348.5 326.8h0M359.5 335.0h0M321.4 335.0h0M340.0 324.1h0M324.6 324.1h0M319.0 334.6h0M320.0 321.3h0M337.5 323.8h0M358.3 321.6h0M363.6 332.9h0M357.0 328.5h0M331.5 324.1h0M354.3 334.1h0M339.2 323.2h0M350.0 328.0h0M343.1 319.5h0M331.0 320.7h0M362.8 327.4h0M338.5 325.0h0M358.1 329.6h0M326.8 326.9h0M345.9 332.0h0M350.8 326.5h0M319.3 327.1h0M341.0 333.4h0M334.9 334.7h0M325.3 328.1h0M345.7 331.6h0M336.2 329.6h0M340.6 320.6h0M338.0 319.2h0M344.1 333.6h0M346.1 325.0h0M352.7 315.2h0M329.6 317.1h0M324.6 321.4h0M319.0 317.6h0M334.2 325.6h0M336.9 327.4h0M324.6 320.5h0M344.3 334.2h0M326.2 315.3h0M326.7 329.1h0M341.4 327.4h0M366.0 314.2h0M321.4 330.5h0M322.6 325.8h0M326.7 320.9h0M361.5 333.8h0M319.2 333.0h0M327.8 332.5h0M333.5 327.6h0M350.6 314.6h0M368.2 326.3h0M345.3 332.5h0M343.3 316.4h0M361.4 332.4h0M360.8 307.5h0M344.5 294.9h0M362.7 301.7h0M366.2 299.8h0M352.4 297.0h0M366.2 298.9h0M363.9 299.1h0M344.0 304.7h0M360.0 289.2h0M345.3 303.9h0M360.6 299.5h0M341.9 303.4h0M345.5 289.5h0M330.7 305.2h0M341.5 304.8h0M358.6 289.0h0M350.5 294.2h0M360.5 291.1h0M361.8 297.9h0M349.1 301.5h0M340.8 301.6h0M381.6 296.8h0M341.8 311.4h0M359.4 300.1h0M353.1 294.3h0M344.6 297.3h0M365.8 303.3h0M350.8 296.0h0M333.3 300.3h0M338.6 302.7h0M333.8 303.9h0M349.2 297.3h0M351.6 296.7h0M345.5 297.9h0M369.1 292.4h0M351.7 296.6h0M343.7 305.5h0M347.9 300.6h0M328.0 301.2h0M369.4 301.9h0M318.7 298.7h0M347.3 294.6h0M350.2 296.5h0M364.5 304.7h0M361.5 294.7h0M352.4 305.6h0M340.5 301.9h0M339.0 302.8h0M363.9 298.4h0M371.6 296.7h0M357.6 306.6h0M340.1 306.3h0M334.9 300.3h0M345.3 307.8h0M338.1 308.1h0M335.7 303.2h0M358.1 299.8h0M371.2 298.4h0M335.8 302.0h0M360.2 291.7h0M356.0 282.9h0M365.1 279.1h0M367.9 279.8h0M355.5 284.9h0M354.8 302.2h0M347.3 293.2h0M372.1 267.9h0M362.8 289.7h0M353.7 291.1h0M355.9 303.5h0M359.0 285.0h0M368.4 269.5h0M362.8 290.5h0M350.6 293.0h0M345.8 307.5h0M350.6 289.2h0M360.2 287.0h0M365.4 273.4h0M355.3 291.0h0M355.7 301.2h0M346.5 296.4h0M361.2 290.5h0M364.0 294.0h0M345.9 306.3h0M371.5 275.9h0M369.9 277.4h0M369.6 273.9h0M362.3 282.5h0M356.7 300.2h0M349.2 303.6h0M368.2 276.7h0M346.7 296.1h0M348.5 299.6h0M370.8 263.4h0M350.3 298.1h0M362.8 275.0h0M355.1 292.5h0M346.9 304.1h0M361.2 284.0h0M347.0 304.1h0M363.5 266.3h0M364.1 273.6h0M350.0 298.9h0M348.0 298.0h0M355.1 280.0h0M314.2 288.1h0M312.6 291.0h0M313.3 291.3h0M310.8 283.6h0M309.8 293.4h0M313.5 280.8h0" stroke="#111" stroke-width="1.05" stroke-linecap="square" fill="none" opacity="0.88"/>
</g>
<rect x="287.50" y="246.00" width="97.00" height="90.50" fill="none" stroke="#111" stroke-width="1.15"/>
<line x1="316.50" y1="246.00" x2="316.50" y2="336.50" stroke="#111" stroke-width="1.15"/>
<line x1="287.50" y1="309.50" x2="384.50" y2="309.50" stroke="#111" stroke-width="1.15"/>
<path d="M287.50 336.50v3.2M287.50 336.50h-3.2M294.80 336.50v1.8M287.50 329.69h-1.8M299.07 336.50v1.8M287.50 325.71h-1.8M302.10 336.50v1.8M287.50 322.88h-1.8M304.45 336.50v1.8M287.50 320.69h-1.8M306.37 336.50v1.8M287.50 318.89h-1.8M307.99 336.50v1.8M287.50 317.38h-1.8M309.40 336.50v1.8M287.50 316.07h-1.8M310.64 336.50v1.8M287.50 314.91h-1.8M311.75 336.50v3.2M287.50 313.88h-3.2M319.05 336.50v1.8M287.50 307.06h-1.8M323.32 336.50v1.8M287.50 303.08h-1.8M326.35 336.50v1.8M287.50 300.25h-1.8M328.70 336.50v1.8M287.50 298.06h-1.8M330.62 336.50v1.8M287.50 296.27h-1.8M332.24 336.50v1.8M287.50 294.75h-1.8M333.65 336.50v1.8M287.50 293.44h-1.8M334.89 336.50v1.8M287.50 292.29h-1.8M336.00 336.50v3.2M287.50 291.25h-3.2M343.30 336.50v1.8M287.50 284.44h-1.8M347.57 336.50v1.8M287.50 280.46h-1.8M350.60 336.50v1.8M287.50 277.63h-1.8M352.95 336.50v1.8M287.50 275.44h-1.8M354.87 336.50v1.8M287.50 273.64h-1.8M356.49 336.50v1.8M287.50 272.13h-1.8M357.90 336.50v1.8M287.50 270.82h-1.8M359.14 336.50v1.8M287.50 269.66h-1.8M360.25 336.50v3.2M287.50 268.62h-3.2M367.55 336.50v1.8M287.50 261.81h-1.8M371.82 336.50v1.8M287.50 257.83h-1.8M374.85 336.50v1.8M287.50 255.00h-1.8M377.20 336.50v1.8M287.50 252.81h-1.8M379.12 336.50v1.8M287.50 251.02h-1.8M380.74 336.50v1.8M287.50 249.50h-1.8M382.15 336.50v1.8M287.50 248.19h-1.8M383.39 336.50v1.8M287.50 247.04h-1.8M384.50 336.50v3.2M287.50 246.00h-3.2" stroke="#111" stroke-width="0.9" fill="none"/>
<text transform="translate(282.50 351.30) scale(0.88 1)" font-family="Liberation Sans, Arial, sans-serif" font-size="9.0" font-weight="normal" text-anchor="start" fill="#222"  stroke="#222" stroke-width="0.25">10</text>
<text transform="translate(291.10 345.70) scale(0.88 1)" font-family="Liberation Sans, Arial, sans-serif" font-size="7.4" font-weight="normal" text-anchor="start" fill="#222"  stroke="#222" stroke-width="0.25">0</text>
<text transform="translate(281.60 343.40) rotate(-90) scale(0.88 1)" font-family="Liberation Sans, Arial, sans-serif" font-size="9.0" font-weight="normal" text-anchor="start" fill="#222">10</text>
<text transform="translate(277.20 333.30) rotate(-90) scale(0.88 1)" font-family="Liberation Sans, Arial, sans-serif" font-size="7.4" font-weight="normal" text-anchor="start" fill="#222">0</text>
<text transform="translate(306.75 351.30) scale(0.88 1)" font-family="Liberation Sans, Arial, sans-serif" font-size="9.0" font-weight="normal" text-anchor="start" fill="#222"  stroke="#222" stroke-width="0.25">10</text>
<text transform="translate(315.35 345.70) scale(0.88 1)" font-family="Liberation Sans, Arial, sans-serif" font-size="7.4" font-weight="normal" text-anchor="start" fill="#222"  stroke="#222" stroke-width="0.25">1</text>
<text transform="translate(281.60 320.77) rotate(-90) scale(0.88 1)" font-family="Liberation Sans, Arial, sans-serif" font-size="9.0" font-weight="normal" text-anchor="start" fill="#222">10</text>
<text transform="translate(277.20 310.68) rotate(-90) scale(0.88 1)" font-family="Liberation Sans, Arial, sans-serif" font-size="7.4" font-weight="normal" text-anchor="start" fill="#222">1</text>
<text transform="translate(331.00 351.30) scale(0.88 1)" font-family="Liberation Sans, Arial, sans-serif" font-size="9.0" font-weight="normal" text-anchor="start" fill="#222"  stroke="#222" stroke-width="0.25">10</text>
<text transform="translate(339.60 345.70) scale(0.88 1)" font-family="Liberation Sans, Arial, sans-serif" font-size="7.4" font-weight="normal" text-anchor="start" fill="#222"  stroke="#222" stroke-width="0.25">2</text>
<text transform="translate(281.60 298.15) rotate(-90) scale(0.88 1)" font-family="Liberation Sans, Arial, sans-serif" font-size="9.0" font-weight="normal" text-anchor="start" fill="#222">10</text>
<text transform="translate(277.20 288.05) rotate(-90) scale(0.88 1)" font-family="Liberation Sans, Arial, sans-serif" font-size="7.4" font-weight="normal" text-anchor="start" fill="#222">2</text>
<text transform="translate(355.25 351.30) scale(0.88 1)" font-family="Liberation Sans, Arial, sans-serif" font-size="9.0" font-weight="normal" text-anchor="start" fill="#222"  stroke="#222" stroke-width="0.25">10</text>
<text transform="translate(363.85 345.70) scale(0.88 1)" font-family="Liberation Sans, Arial, sans-serif" font-size="7.4" font-weight="normal" text-anchor="start" fill="#222"  stroke="#222" stroke-width="0.25">3</text>
<text transform="translate(281.60 275.52) rotate(-90) scale(0.88 1)" font-family="Liberation Sans, Arial, sans-serif" font-size="9.0" font-weight="normal" text-anchor="start" fill="#222">10</text>
<text transform="translate(277.20 265.43) rotate(-90) scale(0.88 1)" font-family="Liberation Sans, Arial, sans-serif" font-size="7.4" font-weight="normal" text-anchor="start" fill="#222">3</text>
<text transform="translate(379.50 351.30) scale(0.88 1)" font-family="Liberation Sans, Arial, sans-serif" font-size="9.0" font-weight="normal" text-anchor="start" fill="#222"  stroke="#222" stroke-width="0.25">10</text>
<text transform="translate(388.10 345.70) scale(0.88 1)" font-family="Liberation Sans, Arial, sans-serif" font-size="7.4" font-weight="normal" text-anchor="start" fill="#222"  stroke="#222" stroke-width="0.25">4</text>
<text transform="translate(281.60 252.90) rotate(-90) scale(0.88 1)" font-family="Liberation Sans, Arial, sans-serif" font-size="9.0" font-weight="normal" text-anchor="start" fill="#222">10</text>
<text transform="translate(277.20 242.80) rotate(-90) scale(0.88 1)" font-family="Liberation Sans, Arial, sans-serif" font-size="7.4" font-weight="normal" text-anchor="start" fill="#222">4</text>
<text transform="translate(271.20 309.00) rotate(-90) scale(0.98 1)" font-family="Liberation Sans, Arial, sans-serif" font-size="8.2" font-weight="normal" text-anchor="start" fill="#222">TOPRO</text>
<text transform="translate(335.10 359.90) scale(0.95 1)" font-family="Liberation Sans, Arial, sans-serif" font-size="8.0" font-weight="normal" text-anchor="middle" fill="#222"  stroke="#222" stroke-width="0.25">AnnexinFITC</text>
<text x="380.30" y="258.05" font-family="Liberation Sans, Arial, sans-serif" font-size="8.2" font-weight="normal" text-anchor="end" fill="#333" >3%</text>
<text x="382.30" y="323.70" font-family="Liberation Sans, Arial, sans-serif" font-size="8.2" font-weight="normal" text-anchor="end" fill="#333" >0.3%</text>
<text x="335.00" y="237.00" font-family="Liberation Serif, Times New Roman, serif" font-size="10.5" font-weight="normal" text-anchor="middle" fill="#111" >ATRA+GF</text>
<clipPath id="c334"><rect x="417.5" y="246.0" width="97" height="90.5"/></clipPath><g clip-path="url(#c334)">
<path d="M417.0 321.9L418.3 321.5L419.6 319.2L420.9 321.1L422.2 318.9L423.5 318.0L424.8 317.0L426.1 316.3L427.4 315.2L428.7 316.7L430.0 315.9L431.3 315.9L432.6 314.2L433.9 317.9L435.2 315.1L436.5 315.2L437.8 316.8L439.1 316.9L440.4 315.5L441.7 316.3L443.0 316.6L444.3 316.5L445.6 316.8L446.9 317.1L448.2 315.9L449.5 314.7L450.8 318.5L452.1 315.9L453.4 315.3L454.7 317.1L456.0 316.9L457.3 315.7L458.6 318.7L459.9 313.9L461.2 317.6L462.5 316.3L463.8 316.6L465.1 316.6L466.4 316.1L467.7 316.6L469.0 315.0L471.5 317.6L471.6 317.8L473.5 317.4L477.4 318.9L477.4 319.7L478.7 322.2L478.8 323.2L479.3 327.0L479.3 328.3L479.8 329.6L479.0 330.9L479.7 332.2L479.3 333.5L475.4 334.8L479.3 336.1L477.5 337.4L478.0 338.0L417.0 338.0Z" fill="#050505" filter="url(#bl)"/>
<path d="M429.5 315.4h0M456.2 312.5h0M474.2 318.7h0M419.5 314.3h0M461.3 314.4h0M468.6 313.2h0M457.4 313.1h0M425.9 310.7h0M460.0 316.3h0M428.6 314.4h0M437.3 311.0h0M435.6 315.2h0M449.7 310.9h0M437.1 312.0h0M463.6 314.8h0M477.6 319.5h0M465.2 314.9h0M420.8 316.0h0M459.0 316.3h0M458.5 315.6h0M442.4 313.0h0M471.0 314.1h0M446.1 315.0h0M480.1 322.5h0M456.3 316.3h0M474.8 320.1h0M425.4 314.3h0M430.4 313.7h0M461.3 316.1h0M475.2 308.0h0M459.4 308.4h0M468.5 315.2h0M469.9 310.9h0M461.9 316.3h0M441.5 314.1h0M441.1 316.1h0M446.7 316.2h0M447.9 316.3h0M463.8 316.0h0M477.0 322.7h0M457.8 314.4h0M430.5 314.5h0M452.6 314.6h0M429.7 315.2h0M470.7 314.8h0M433.4 315.7h0M473.4 318.6h0M448.1 315.1h0M445.1 316.5h0M424.7 312.8h0M446.7 315.8h0M446.4 316.4h0M423.1 313.0h0M465.9 316.1h0M438.0 316.3h0M438.0 315.0h0M465.4 315.1h0M471.4 304.4h0M453.7 316.4h0M426.5 314.3h0M426.2 311.9h0M421.4 316.4h0M480.7 327.8h0M453.0 314.7h0M425.5 315.7h0M441.2 313.8h0M467.3 314.1h0M429.4 315.3h0M475.7 320.9h0M440.0 314.6h0M480.7 328.7h0M461.5 315.3h0M451.3 312.8h0M424.0 314.7h0M438.0 313.7h0M463.0 315.4h0M427.6 313.6h0M462.2 314.8h0M465.0 310.5h0M433.4 314.2h0M468.8 315.9h0M474.9 319.5h0M478.2 323.0h0M479.3 322.1h0M467.3 315.6h0M446.9 314.7h0M468.7 315.4h0M474.6 319.5h0M450.8 316.2h0M428.8 315.8h0M421.0 314.8h0M457.1 315.5h0M468.3 314.9h0M461.1 316.3h0M438.8 316.5h0M428.1 312.7h0M426.5 314.7h0M441.8 314.3h0M472.9 314.7h0M478.8 318.9h0M443.1 307.6h0M466.0 315.8h0M438.7 315.0h0M471.3 316.8h0M474.1 317.2h0M455.4 315.5h0M442.0 315.5h0M463.1 315.3h0M463.0 312.3h0M423.5 316.5h0M477.3 323.0h0M469.3 315.5h0M432.2 316.5h0M445.0 314.7h0M421.4 316.5h0M436.1 312.2h0M465.3 315.9h0M443.4 315.4h0M462.6 315.8h0M440.4 315.1h0M432.9 315.4h0M465.1 315.1h0M421.5 315.6h0M453.9 316.0h0M442.4 314.9h0M441.0 316.1h0M473.1 318.3h0M475.1 320.3h0M452.9 314.9h0M443.8 314.5h0M473.7 318.2h0M421.8 316.1h0M473.3 316.8h0M465.5 315.5h0M438.4 314.2h0M453.8 311.6h0M428.1 315.7h0M461.5 311.8h0M447.4 313.4h0M424.9 314.5h0M438.7 314.1h0M436.7 316.1h0M435.0 313.9h0M462.9 311.6h0M444.1 316.4h0M468.9 315.9h0M463.2 315.2h0M446.0 316.4h0M432.3 313.7h0M447.0 312.2h0M468.8 315.0h0M479.9 327.4h0M443.3 315.0h0M421.4 312.4h0M427.4 314.8h0M435.1 315.5h0M447.3 315.8h0M428.8 314.3h0M457.5 316.3h0M479.3 326.2h0M432.1 315.8h0M441.0 315.2h0M474.9 320.1h0M454.2 314.5h0M434.2 315.6h0M446.0 312.1h0M466.9 315.2h0M422.3 315.6h0M469.5 315.4h0M442.6 314.5h0M420.5 314.4h0M461.2 316.3h0M444.3 312.6h0M434.5 315.0h0M439.8 314.9h0M442.6 315.7h0M476.3 319.6h0M480.9 328.3h0M447.4 315.6h0M472.6 317.1h0M460.8 316.1h0M452.2 315.9h0M475.6 320.2h0M478.0 322.8h0M439.5 314.9h0M476.6 320.1h0M469.9 314.8h0M457.0 316.2h0M470.4 314.5h0M458.8 315.8h0M466.1 315.0h0M438.2 306.9h0M466.7 314.2h0M470.9 314.4h0M442.2 310.3h0M475.1 318.3h0M445.4 315.1h0M420.9 312.1h0M470.3 314.8h0M447.4 313.2h0M419.3 315.5h0M433.8 314.6h0M440.3 314.6h0M474.5 318.8h0M425.2 316.5h0M470.6 315.4h0M445.8 316.4h0M424.5 316.5h0M474.4 319.7h0M438.3 315.2h0M454.1 316.0h0M458.7 314.5h0M480.0 327.4h0M436.6 316.3h0M436.2 316.0h0M419.9 313.2h0M435.3 313.8h0M469.3 313.3h0M419.6 314.7h0M471.6 315.2h0M456.0 315.4h0M469.8 315.0h0M440.2 315.1h0M447.7 316.1h0M460.4 312.9h0M459.2 316.5h0M443.5 313.6h0M426.3 315.1h0M461.0 315.0h0M438.8 316.5h0M462.4 316.1h0M455.9 315.0h0M463.5 316.3h0M479.3 323.7h0M473.0 317.9h0M463.4 315.5h0M462.1 314.1h0M443.8 310.6h0M445.6 315.2h0M463.1 316.2h0M474.4 319.0h0M473.9 318.9h0M425.8 314.7h0M433.2 315.3h0M430.6 313.9h0M464.5 314.2h0M426.5 316.4h0M454.7 316.3h0M463.1 314.9h0M476.7 319.2h0M459.3 313.0h0M450.0 315.8h0M421.9 314.1h0M459.9 314.5h0M450.2 315.3h0M475.9 320.6h0M426.8 310.5h0M466.0 312.0h0M480.1 326.6h0M427.8 315.1h0M448.9 315.5h0M467.5 315.9h0M479.1 325.7h0M435.9 313.0h0M432.7 313.9h0M435.3 315.4h0M447.6 315.9h0M469.9 310.8h0M476.3 321.6h0M419.6 315.3h0M464.6 314.9h0M478.5 316.4h0M461.0 315.9h0M443.3 316.4h0M442.8 313.7h0M437.9 316.1h0M451.9 312.0h0M458.7 316.3h0M445.2 316.0h0M469.2 315.4h0M445.9 312.3h0M436.7 315.3h0M479.8 326.4h0M452.0 314.4h0M439.1 314.5h0M444.6 312.9h0M453.1 313.9h0M454.1 314.1h0M442.6 316.2h0M440.9 315.7h0M418.9 313.6h0M451.1 315.2h0M462.4 316.4h0M425.9 314.0h0M420.6 312.4h0M450.0 309.7h0M472.1 316.5h0M439.7 315.4h0M466.5 315.3h0M463.4 307.0h0M465.2 315.1h0M464.8 315.1h0M454.6 315.4h0M476.9 314.2h0M453.8 314.9h0M424.5 314.8h0M476.5 321.8h0M466.8 315.9h0M463.0 315.8h0M455.5 313.5h0M420.0 312.8h0M451.0 315.9h0M437.4 314.9h0M464.7 316.1h0M422.4 316.0h0M458.0 315.5h0M466.1 313.9h0M441.2 314.7h0M427.2 314.6h0M458.8 316.0h0M460.0 316.2h0M479.2 324.7h0M476.1 319.6h0M431.5 313.9h0M456.7 315.5h0M461.7 313.6h0M460.8 316.0h0M478.8 320.9h0M445.3 311.3h0M480.6 327.7h0M430.0 315.9h0M448.8 316.2h0M432.9 313.9h0M419.2 314.6h0M443.7 314.0h0M434.3 315.2h0M431.4 316.5h0M472.5 316.9h0M436.6 311.0h0M441.3 314.9h0M426.9 315.4h0M473.1 315.0h0M469.5 311.6h0M432.5 316.4h0M426.2 314.4h0M452.4 315.6h0M462.9 316.0h0M456.3 315.4h0M426.8 313.5h0M429.6 313.3h0M466.0 315.4h0M446.6 316.0h0M426.8 314.1h0M441.4 314.8h0M441.2 315.9h0M428.3 313.6h0M445.3 316.2h0M473.0 318.0h0M432.4 316.2h0M453.3 313.5h0M420.0 311.3h0M462.3 312.9h0M444.6 315.4h0M423.9 315.9h0M472.9 317.5h0M474.8 316.5h0M476.0 321.3h0M444.6 312.9h0M437.6 315.9h0M419.3 315.0h0M452.7 316.0h0M434.3 314.5h0M428.9 313.4h0M473.0 317.2h0M426.2 314.8h0M436.6 316.3h0M462.7 314.9h0M435.1 315.9h0M463.6 311.5h0M440.2 314.7h0M431.9 315.2h0M454.6 315.8h0M456.1 314.9h0M420.7 316.2h0M444.1 316.2h0M452.4 314.7h0M457.4 312.2h0M456.3 313.5h0M425.3 312.4h0M476.6 320.6h0M470.1 314.9h0M445.4 316.2h0M448.3 314.0h0M468.0 312.0h0M450.6 310.7h0M441.4 316.5h0M444.8 314.9h0M466.7 316.0h0M419.6 313.9h0M430.0 312.7h0M453.7 316.2h0M450.8 313.5h0M432.1 310.3h0M421.6 316.2h0M455.5 314.2h0M455.9 311.4h0M430.7 316.4h0M451.9 315.6h0M443.0 315.5h0M473.6 318.2h0M461.6 314.8h0M435.9 311.6h0M434.1 315.8h0M430.1 314.1h0M461.7 315.6h0M425.4 314.7h0M439.3 314.9h0M459.3 316.5h0M420.9 313.1h0M472.7 317.9h0M479.4 322.0h0M478.8 333.0h0M478.3 335.2h0M478.2 334.3h0M484.7 328.8h0M482.6 331.0h0M483.9 324.3h0M478.7 334.3h0M482.7 331.9h0M479.3 321.8h0M479.7 331.9h0M479.2 334.5h0M478.6 326.1h0M482.1 322.9h0M482.4 322.7h0M479.7 332.5h0M478.4 323.4h0M481.6 320.1h0M484.0 335.3h0M483.3 323.0h0M479.1 325.9h0M481.2 334.4h0M478.8 330.2h0M478.8 319.9h0M478.7 322.7h0M478.9 328.3h0M482.2 321.9h0M478.3 324.6h0M479.9 318.2h0M479.9 318.5h0M479.6 318.5h0M479.6 329.1h0M481.7 321.9h0M481.1 335.5h0M484.5 334.8h0M479.7 324.6h0M481.1 325.4h0M478.9 321.0h0M479.7 326.1h0M478.8 335.3h0M479.3 318.1h0M478.3 333.8h0M479.9 327.3h0M478.9 333.1h0M483.7 328.9h0M479.6 335.5h0M480.2 324.1h0M480.2 331.1h0M479.1 330.2h0M479.0 330.9h0M478.6 322.2h0M478.6 328.0h0M479.0 323.1h0M479.3 324.7h0M479.5 335.5h0M479.2 327.9h0M481.3 327.9h0M479.6 327.4h0M478.7 324.3h0M478.6 321.8h0M478.4 323.1h0M479.8 325.5h0M481.0 320.1h0M480.1 326.1h0M481.2 325.7h0M478.4 330.2h0M478.8 327.9h0M479.0 331.4h0M478.4 322.0h0M478.3 334.3h0M483.2 322.5h0M479.4 318.9h0M480.4 325.8h0M484.8 332.1h0M478.5 323.7h0M478.4 321.9h0M480.1 322.8h0M478.3 334.1h0M482.3 322.8h0M479.2 328.6h0M478.5 319.3h0M480.1 321.9h0M479.7 319.0h0M478.2 332.7h0M479.3 323.2h0M480.6 329.0h0M479.2 330.2h0M480.1 324.1h0M483.1 326.3h0M479.9 327.5h0M479.4 330.0h0M480.2 326.9h0M490.0 328.8h0M479.6 323.5h0M481.1 335.5h0M478.9 328.0h0M479.4 321.2h0M479.3 325.7h0M479.5 322.6h0M478.4 328.3h0M480.5 329.9h0M478.9 321.5h0M479.6 318.7h0M479.2 330.2h0M479.9 328.6h0M478.5 318.8h0M482.9 327.1h0M479.3 330.7h0M478.6 322.7h0M480.8 329.6h0M454.6 296.0h0M463.8 293.0h0M472.8 293.0h0M455.0 305.2h0M457.5 303.5h0M462.7 306.1h0M455.0 304.7h0M465.0 287.1h0M466.9 313.2h0M464.5 288.4h0M460.9 307.4h0M463.8 307.8h0M457.4 308.8h0M451.0 298.8h0M459.9 292.6h0M470.6 287.5h0M464.5 310.7h0M467.8 290.2h0M456.9 280.9h0M464.7 302.4h0M469.8 295.0h0M477.1 296.7h0M445.8 294.7h0M467.6 290.4h0M467.9 315.5h0M456.7 316.8h0M461.4 283.6h0M462.7 303.4h0M457.9 311.0h0M455.9 296.6h0M468.5 291.6h0M458.1 297.3h0M466.6 308.9h0M471.5 308.2h0M461.8 281.9h0M461.7 292.5h0M455.0 294.2h0M461.5 296.6h0M468.4 285.7h0M470.0 293.2h0M467.1 304.6h0M453.3 312.9h0M457.0 301.3h0M469.6 300.9h0M451.0 301.6h0M470.0 291.8h0M461.4 296.8h0M473.5 286.9h0M455.4 289.1h0M458.3 295.4h0M464.4 294.3h0M450.0 287.1h0M466.8 300.3h0M452.5 307.6h0M445.0 322.4h0M466.1 280.2h0M465.6 294.3h0M458.8 294.0h0M460.4 295.7h0M455.7 293.5h0M465.9 299.0h0M452.7 295.4h0M473.0 297.9h0M473.6 279.9h0M454.7 280.2h0M448.4 298.0h0M454.6 289.5h0M457.1 296.3h0M467.8 298.5h0M449.7 313.5h0M459.7 288.3h0M461.8 292.6h0M452.3 313.1h0M457.9 292.4h0M465.8 308.9h0M461.8 291.9h0M440.0 288.0h0M489.2 296.4h0M480.2 277.9h0M475.3 284.2h0M451.4 281.1h0M470.9 269.9h0M466.9 293.5h0M489.6 283.1h0M456.8 282.1h0M445.8 299.8h0M488.4 289.3h0M483.6 298.8h0M464.3 298.0h0M483.6 284.1h0M459.8 292.3h0M449.2 299.0h0M477.1 295.1h0M443.0 292.2h0M463.3 269.1h0M459.3 291.6h0M493.5 279.4h0M463.6 291.8h0M450.0 301.2h0M464.4 282.5h0" stroke="#111" stroke-width="1.05" stroke-linecap="square" fill="none" opacity="0.88"/>
<path d="M426.1 325.6h.9M430.0 327.8h.9M440.0 329.0h.9M465.4 324.3h.9M442.2 318.4h.9M432.3 328.2h.9M466.8 319.5h.9M476.6 333.5h.9M441.2 326.7h.9M459.0 322.9h.9M441.2 330.0h.9M448.1 324.9h.9M452.6 319.1h.9M447.3 322.3h.9M429.7 326.4h.9M460.7 326.5h.9M448.9 329.1h.9M444.5 334.7h.9M432.4 317.1h.9M453.0 329.5h.9M442.2 324.2h.9M439.9 321.4h.9M465.9 332.5h.9M436.2 327.2h.9M446.7 319.4h.9M462.5 326.6h.9M477.5 333.4h.9M472.4 321.7h.9M426.4 331.6h.9M426.3 329.4h.9M430.2 329.7h.9M423.1 318.6h.9M470.3 326.3h.9M446.1 334.5h.9M465.5 321.1h.9M460.9 323.9h.9M446.9 322.6h.9M433.2 322.4h.9M435.8 320.4h.9M470.7 323.8h.9M452.5 331.6h.9M459.3 319.8h.9M475.3 333.8h.9M468.7 322.9h.9M468.2 328.6h.9M421.8 323.8h.9M460.5 326.8h.9M475.0 331.2h.9M468.5 334.6h.9M439.9 333.3h.9M420.1 331.4h.9M425.1 326.0h.9M445.6 318.3h.9M456.9 331.2h.9M433.0 321.4h.9M464.7 326.5h.9M421.1 322.5h.9M474.7 322.0h.9M436.8 325.1h.9M471.4 331.6h.9M442.3 329.0h.9M421.6 318.2h.9M441.6 328.4h.9M428.2 317.8h.9M469.5 320.3h.9M423.2 318.5h.9M424.6 322.1h.9M453.6 328.8h.9M436.6 326.3h.9M439.3 327.4h.9M422.7 331.6h.9M420.0 334.3h.9M425.2 331.0h.9M424.7 330.0h.9M426.6 331.8h.9M439.5 333.6h.9M444.4 330.1h.9M433.7 329.2h.9M427.2 330.6h.9M444.3 326.5h.9M438.7 328.9h.9M434.9 328.4h.9M438.0 330.5h.9M427.8 330.0h.9M420.1 326.9h.9M442.7 326.7h.9M429.9 332.0h.9M420.9 334.4h.9M425.2 334.7h.9M430.8 331.3h.9M435.1 326.8h.9M432.7 332.7h.9M439.7 332.6h.9M437.0 327.2h.9M430.2 330.6h.9M421.0 332.9h.9M422.6 331.1h.9M426.7 327.5h.9M443.8 331.6h.9M438.3 331.5h.9M434.1 333.9h.9M421.6 329.4h.9M425.5 331.4h.9M429.9 334.3h.9M425.8 328.4h.9M442.9 332.5h.9M430.7 329.4h.9M438.3 327.3h.9M438.0 328.0h.9M440.2 326.7h.9" stroke="#fff" stroke-width="0.9" fill="none" opacity="0.8"/>
</g>
<rect x="417.50" y="246.00" width="97.00" height="90.50" fill="none" stroke="#111" stroke-width="1.15"/>
<line x1="445.50" y1="246.00" x2="445.50" y2="336.50" stroke="#111" stroke-width="1.15"/>
<line x1="417.50" y1="309.50" x2="514.50" y2="309.50" stroke="#111" stroke-width="1.15"/>
<path d="M417.50 336.50v3.2M417.50 336.50h-3.2M424.80 336.50v1.8M417.50 329.69h-1.8M429.07 336.50v1.8M417.50 325.71h-1.8M432.10 336.50v1.8M417.50 322.88h-1.8M434.45 336.50v1.8M417.50 320.69h-1.8M436.37 336.50v1.8M417.50 318.89h-1.8M437.99 336.50v1.8M417.50 317.38h-1.8M439.40 336.50v1.8M417.50 316.07h-1.8M440.64 336.50v1.8M417.50 314.91h-1.8M441.75 336.50v3.2M417.50 313.88h-3.2M449.05 336.50v1.8M417.50 307.06h-1.8M453.32 336.50v1.8M417.50 303.08h-1.8M456.35 336.50v1.8M417.50 300.25h-1.8M458.70 336.50v1.8M417.50 298.06h-1.8M460.62 336.50v1.8M417.50 296.27h-1.8M462.24 336.50v1.8M417.50 294.75h-1.8M463.65 336.50v1.8M417.50 293.44h-1.8M464.89 336.50v1.8M417.50 292.29h-1.8M466.00 336.50v3.2M417.50 291.25h-3.2M473.30 336.50v1.8M417.50 284.44h-1.8M477.57 336.50v1.8M417.50 280.46h-1.8M480.60 336.50v1.8M417.50 277.63h-1.8M482.95 336.50v1.8M417.50 275.44h-1.8M484.87 336.50v1.8M417.50 273.64h-1.8M486.49 336.50v1.8M417.50 272.13h-1.8M487.90 336.50v1.8M417.50 270.82h-1.8M489.14 336.50v1.8M417.50 269.66h-1.8M490.25 336.50v3.2M417.50 268.62h-3.2M497.55 336.50v1.8M417.50 261.81h-1.8M501.82 336.50v1.8M417.50 257.83h-1.8M504.85 336.50v1.8M417.50 255.00h-1.8M507.20 336.50v1.8M417.50 252.81h-1.8M509.12 336.50v1.8M417.50 251.02h-1.8M510.74 336.50v1.8M417.50 249.50h-1.8M512.15 336.50v1.8M417.50 248.19h-1.8M513.39 336.50v1.8M417.50 247.04h-1.8M514.50 336.50v3.2M417.50 246.00h-3.2" stroke="#111" stroke-width="0.9" fill="none"/>
<text transform="translate(412.50 351.30) scale(0.88 1)" font-family="Liberation Sans, Arial, sans-serif" font-size="9.0" font-weight="normal" text-anchor="start" fill="#222"  stroke="#222" stroke-width="0.25">10</text>
<text transform="translate(421.10 345.70) scale(0.88 1)" font-family="Liberation Sans, Arial, sans-serif" font-size="7.4" font-weight="normal" text-anchor="start" fill="#222"  stroke="#222" stroke-width="0.25">0</text>
<text transform="translate(411.60 343.40) rotate(-90) scale(0.88 1)" font-family="Liberation Sans, Arial, sans-serif" font-size="9.0" font-weight="normal" text-anchor="start" fill="#222">10</text>
<text transform="translate(407.20 333.30) rotate(-90) scale(0.88 1)" font-family="Liberation Sans, Arial, sans-serif" font-size="7.4" font-weight="normal" text-anchor="start" fill="#222">0</text>
<text transform="translate(436.75 351.30) scale(0.88 1)" font-family="Liberation Sans, Arial, sans-serif" font-size="9.0" font-weight="normal" text-anchor="start" fill="#222"  stroke="#222" stroke-width="0.25">10</text>
<text transform="translate(445.35 345.70) scale(0.88 1)" font-family="Liberation Sans, Arial, sans-serif" font-size="7.4" font-weight="normal" text-anchor="start" fill="#222"  stroke="#222" stroke-width="0.25">1</text>
<text transform="translate(411.60 320.77) rotate(-90) scale(0.88 1)" font-family="Liberation Sans, Arial, sans-serif" font-size="9.0" font-weight="normal" text-anchor="start" fill="#222">10</text>
<text transform="translate(407.20 310.68) rotate(-90) scale(0.88 1)" font-family="Liberation Sans, Arial, sans-serif" font-size="7.4" font-weight="normal" text-anchor="start" fill="#222">1</text>
<text transform="translate(461.00 351.30) scale(0.88 1)" font-family="Liberation Sans, Arial, sans-serif" font-size="9.0" font-weight="normal" text-anchor="start" fill="#222"  stroke="#222" stroke-width="0.25">10</text>
<text transform="translate(469.60 345.70) scale(0.88 1)" font-family="Liberation Sans, Arial, sans-serif" font-size="7.4" font-weight="normal" text-anchor="start" fill="#222"  stroke="#222" stroke-width="0.25">2</text>
<text transform="translate(411.60 298.15) rotate(-90) scale(0.88 1)" font-family="Liberation Sans, Arial, sans-serif" font-size="9.0" font-weight="normal" text-anchor="start" fill="#222">10</text>
<text transform="translate(407.20 288.05) rotate(-90) scale(0.88 1)" font-family="Liberation Sans, Arial, sans-serif" font-size="7.4" font-weight="normal" text-anchor="start" fill="#222">2</text>
<text transform="translate(485.25 351.30) scale(0.88 1)" font-family="Liberation Sans, Arial, sans-serif" font-size="9.0" font-weight="normal" text-anchor="start" fill="#222"  stroke="#222" stroke-width="0.25">10</text>
<text transform="translate(493.85 345.70) scale(0.88 1)" font-family="Liberation Sans, Arial, sans-serif" font-size="7.4" font-weight="normal" text-anchor="start" fill="#222"  stroke="#222" stroke-width="0.25">3</text>
<text transform="translate(411.60 275.52) rotate(-90) scale(0.88 1)" font-family="Liberation Sans, Arial, sans-serif" font-size="9.0" font-weight="normal" text-anchor="start" fill="#222">10</text>
<text transform="translate(407.20 265.43) rotate(-90) scale(0.88 1)" font-family="Liberation Sans, Arial, sans-serif" font-size="7.4" font-weight="normal" text-anchor="start" fill="#222">3</text>
<text transform="translate(509.50 351.30) scale(0.88 1)" font-family="Liberation Sans, Arial, sans-serif" font-size="9.0" font-weight="normal" text-anchor="start" fill="#222"  stroke="#222" stroke-width="0.25">10</text>
<text transform="translate(518.10 345.70) scale(0.88 1)" font-family="Liberation Sans, Arial, sans-serif" font-size="7.4" font-weight="normal" text-anchor="start" fill="#222"  stroke="#222" stroke-width="0.25">4</text>
<text transform="translate(411.60 252.90) rotate(-90) scale(0.88 1)" font-family="Liberation Sans, Arial, sans-serif" font-size="9.0" font-weight="normal" text-anchor="start" fill="#222">10</text>
<text transform="translate(407.20 242.80) rotate(-90) scale(0.88 1)" font-family="Liberation Sans, Arial, sans-serif" font-size="7.4" font-weight="normal" text-anchor="start" fill="#222">4</text>
<text transform="translate(401.20 309.00) rotate(-90) scale(0.98 1)" font-family="Liberation Sans, Arial, sans-serif" font-size="8.2" font-weight="normal" text-anchor="start" fill="#222">TOPRO</text>
<text transform="translate(465.10 359.90) scale(0.95 1)" font-family="Liberation Sans, Arial, sans-serif" font-size="8.0" font-weight="normal" text-anchor="middle" fill="#222"  stroke="#222" stroke-width="0.25">AnnexinFITC</text>
<text x="509.60" y="257.95" font-family="Liberation Sans, Arial, sans-serif" font-size="8.2" font-weight="normal" text-anchor="end" fill="#333" >2%</text>
<text x="510.90" y="324.20" font-family="Liberation Sans, Arial, sans-serif" font-size="8.2" font-weight="normal" text-anchor="end" fill="#333" >52%</text>
<text x="458.00" y="237.00" font-family="Liberation Serif, Times New Roman, serif" font-size="10.5" font-weight="normal" text-anchor="middle" fill="#111" >CAMPTO</text>
<clipPath id="c368"><rect x="29.5" y="377.5" width="95" height="90"/></clipPath><g clip-path="url(#c368)">
<path d="M53.1 456.5L52.0 457.7L53.7 459.3L52.1 460.2L51.9 461.6L51.2 462.6L50.9 464.0L49.4 464.3L49.0 465.8L47.4 465.6L46.2 465.6L45.5 467.4L44.2 467.3L43.0 468.0L41.9 465.8L40.6 467.1L39.6 466.2L38.4 466.0L37.5 465.2L36.5 464.4L35.8 463.3L34.2 463.1L35.2 460.9L34.7 459.9L33.1 459.1L31.7 458.0L33.5 456.5L33.7 455.3L34.0 454.1L34.3 452.9L33.4 451.1L34.4 450.1L35.1 448.9L36.2 448.2L37.2 447.5L38.5 447.3L39.7 447.0L40.5 445.5L41.6 444.0L43.0 445.9L44.3 444.9L45.3 446.5L46.6 446.4L48.2 445.8L48.7 447.7L49.9 448.0L50.2 449.6L52.3 449.6L51.1 451.9L52.7 452.5L52.6 454.0L53.1 455.2Z" fill="#050505" filter="url(#bl)"/>
<path d="M51.5 457.9h0M53.3 449.9h0M39.9 466.4h0M35.3 451.9h0M39.4 447.1h0M50.8 465.6h0M41.2 447.2h0M33.4 461.6h0M36.9 463.4h0M31.0 453.9h0M50.3 461.9h0M31.1 458.5h0M51.2 456.1h0M37.6 449.3h0M45.3 465.4h0M30.6 456.5h0M52.0 454.4h0M51.6 449.6h0M54.9 463.0h0M40.6 465.9h0M51.9 465.7h0M33.2 455.7h0M47.0 466.0h0M43.6 445.7h0M52.8 455.2h0M50.0 451.3h0M42.1 445.5h0M49.7 449.9h0M31.4 459.5h0M42.7 466.5h0M49.0 447.2h0M34.8 457.1h0M43.8 446.4h0M43.7 466.5h0M51.0 466.5h0M47.6 440.4h0M39.1 448.3h0M31.5 466.7h0M52.1 456.6h0M48.1 464.0h0M41.4 466.3h0M54.5 462.1h0M35.2 460.5h0M50.9 462.8h0M37.3 465.0h0M50.1 462.7h0M34.6 456.2h0M30.8 456.4h0M35.8 451.6h0M37.3 449.8h0M48.2 463.4h0M34.5 454.7h0M41.5 465.5h0M49.8 450.8h0M37.6 445.2h0M33.4 459.9h0M37.0 466.1h0M39.7 448.2h0M40.6 447.7h0M34.4 457.6h0M32.5 457.6h0M42.1 446.8h0M52.0 460.0h0M51.6 451.0h0M34.7 448.1h0M33.5 444.4h0M53.7 453.1h0M46.0 447.9h0M42.0 466.5h0M32.0 449.9h0M44.4 446.8h0M48.0 466.5h0M50.4 463.2h0M41.5 466.4h0M37.1 447.2h0M36.8 450.4h0M51.6 449.2h0M51.6 450.4h0M35.1 445.3h0M42.7 445.3h0M51.0 458.7h0M40.5 443.5h0M36.4 462.7h0M31.6 461.3h0M43.3 447.3h0M45.6 465.5h0M42.7 447.0h0M50.2 450.0h0M46.3 466.0h0M51.2 465.6h0M52.3 458.0h0M37.0 462.7h0M46.2 466.0h0M48.9 448.6h0M52.4 446.1h0M49.9 447.2h0M34.1 452.2h0M40.9 445.7h0M51.5 454.9h0M52.1 449.2h0M31.5 461.2h0M40.9 466.3h0M30.8 448.5h0M43.6 465.2h0M35.4 444.1h0M39.7 466.1h0M52.9 447.5h0M39.1 444.0h0M36.4 448.5h0M46.5 466.4h0M57.5 454.2h0M51.7 459.0h0M43.8 466.7h0M47.7 466.3h0M46.0 465.8h0M51.4 454.9h0M35.2 451.8h0M43.3 447.5h0M39.1 447.9h0M51.8 453.9h0M39.0 448.7h0M52.7 452.3h0M52.6 450.3h0M53.4 461.0h0M36.6 462.9h0M51.2 449.2h0M38.1 463.8h0M38.1 449.2h0M43.6 465.5h0M48.3 466.6h0M41.1 466.0h0M40.9 466.4h0M42.1 445.2h0M36.3 450.9h0M49.6 443.4h0M34.5 454.7h0M50.6 461.4h0M51.9 454.8h0M41.1 465.4h0M54.4 459.2h0M44.7 446.9h0M56.0 459.2h0M47.2 445.1h0M46.7 466.5h0M37.8 449.6h0M53.8 455.1h0M48.3 465.2h0M34.5 450.0h0M51.6 458.1h0M45.2 447.9h0M45.9 465.0h0M35.6 451.9h0M45.0 446.5h0M45.7 442.1h0M51.5 454.8h0M35.3 466.0h0M35.9 466.6h0M37.7 466.1h0M42.6 466.3h0M41.0 466.4h0M41.0 443.6h0M48.5 463.7h0M45.7 466.0h0M38.0 446.0h0M46.1 447.6h0M34.8 456.7h0M36.9 465.3h0M42.2 466.5h0M45.2 466.5h0M39.5 447.9h0M38.2 447.9h0M51.1 459.2h0M36.1 445.9h0M37.6 444.2h0M37.2 445.8h0M48.4 447.1h0M34.6 454.7h0M43.7 465.5h0M50.1 463.0h0M40.4 466.4h0M47.2 448.0h0M52.6 448.4h0M46.6 465.7h0M45.7 465.0h0M44.6 465.7h0M51.2 456.9h0M47.4 443.8h0M48.5 449.7h0M55.3 458.5h0M36.6 463.5h0M40.0 446.4h0M38.9 464.6h0M51.2 464.3h0M49.9 451.5h0M44.6 465.2h0M42.0 466.2h0M34.1 456.4h0M50.0 463.3h0M46.2 448.0h0M31.5 453.5h0M34.7 452.3h0M53.4 451.1h0M52.0 456.3h0M33.5 457.5h0M48.6 447.1h0M33.7 453.2h0M50.1 450.2h0M48.9 463.3h0M43.3 465.6h0M52.9 454.9h0M45.8 446.7h0M34.3 455.2h0M50.3 450.1h0M33.7 463.2h0M57.5 439.5h0M33.7 457.7h0M47.3 447.5h0M45.8 466.4h0M40.0 465.5h0M44.3 446.7h0M36.7 449.6h0M51.7 464.7h0M44.7 444.9h0M36.4 450.6h0M30.9 456.4h0M45.2 445.8h0M37.1 449.7h0M54.6 461.0h0M51.8 457.6h0M34.2 463.4h0M38.9 443.6h0M51.0 452.4h0M43.1 465.7h0M38.9 464.5h0M52.8 453.9h0M34.7 457.0h0M50.5 451.5h0M44.1 447.2h0M41.9 465.6h0M34.3 454.4h0M33.1 451.4h0M44.3 465.6h0M33.7 455.5h0M34.3 459.8h0M47.3 464.4h0M41.5 445.4h0M39.0 446.1h0M34.3 455.7h0M51.5 451.0h0M34.4 459.0h0M30.9 466.6h0M33.2 463.6h0M50.3 464.3h0M41.8 465.9h0M39.9 466.0h0M37.2 448.6h0M48.5 449.4h0M48.8 448.4h0M45.5 446.8h0M42.4 465.9h0M35.8 447.5h0M32.2 454.8h0M53.8 453.2h0M52.0 454.6h0M39.2 466.7h0M49.6 444.3h0M34.4 460.5h0M51.2 453.4h0M47.3 464.5h0M39.9 466.1h0M35.9 463.4h0M51.9 458.7h0M34.7 456.0h0M31.1 458.2h0M34.6 443.5h0M49.2 448.4h0M51.3 457.7h0M32.1 450.4h0M38.8 464.5h0M43.6 445.8h0M34.7 458.3h0M33.5 452.9h0M39.7 442.6h0M53.8 462.5h0M38.9 465.6h0M36.4 466.0h0M35.2 459.8h0M34.6 458.0h0M51.3 457.4h0M36.0 463.5h0M51.5 456.5h0M51.1 450.3h0M52.8 455.2h0M53.3 453.2h0M36.7 462.3h0M50.0 466.6h0M38.3 448.2h0M48.4 466.1h0M51.0 452.4h0M52.9 456.3h0M45.2 465.5h0M39.7 441.8h0M45.5 465.6h0M48.4 463.9h0M44.4 466.5h0M43.8 466.6h0M43.6 466.1h0M35.5 461.0h0M51.0 459.4h0M53.7 456.9h0M52.2 459.7h0M50.9 449.4h0M39.8 466.0h0M34.9 460.8h0M51.1 459.6h0M48.4 463.9h0M38.9 464.5h0M36.5 450.3h0M32.2 455.7h0M31.8 456.7h0M44.8 446.4h0M44.9 465.2h0M39.8 447.2h0M40.9 465.3h0M48.6 465.1h0M30.9 458.8h0M47.9 448.6h0M44.9 465.4h0M43.8 466.3h0M51.8 452.5h0M30.7 464.0h0M52.1 445.1h0M40.7 447.4h0M50.9 459.1h0M51.8 451.5h0M54.3 445.5h0M44.3 464.5h0M41.7 465.7h0M40.2 465.6h0M51.5 452.8h0M31.1 458.0h0M47.4 443.0h0M37.3 463.7h0M30.4 455.3h0M33.4 447.5h0M46.2 466.4h0M51.7 451.1h0M46.2 444.2h0M32.9 460.6h0M39.6 446.9h0M31.2 454.9h0M56.0 443.6h0M35.8 465.0h0M31.2 452.3h0M43.6 466.6h0M42.5 466.1h0M41.0 447.9h0M49.6 462.3h0M33.4 449.8h0M38.3 464.0h0M34.2 450.8h0M34.9 460.6h0M38.0 464.3h0M46.6 447.3h0M40.7 446.0h0M44.2 466.1h0M37.0 444.6h0M50.4 451.9h0M42.5 465.6h0M46.5 465.8h0M40.3 442.1h0M35.8 451.5h0M36.9 463.0h0M41.1 465.3h0M34.4 456.4h0M40.8 466.3h0M36.0 448.4h0M39.1 465.2h0M43.6 447.6h0M34.4 443.1h0M37.5 449.8h0M54.3 459.1h0M46.7 465.8h0M36.8 447.1h0M40.5 466.2h0M51.2 451.2h0M34.5 463.5h0M50.5 448.2h0M53.4 451.0h0M51.5 453.9h0M38.9 448.2h0M49.7 463.1h0M51.5 453.3h0M38.0 465.4h0M54.2 455.1h0M35.8 466.5h0M50.5 460.1h0M51.4 460.3h0M43.7 466.2h0M31.3 460.9h0M33.8 457.3h0M38.6 464.1h0M31.1 461.0h0M56.9 453.8h0M50.7 462.4h0M47.3 448.5h0M51.0 460.3h0M52.6 462.6h0M38.8 437.6h0M53.3 460.2h0M45.3 447.5h0M57.8 465.1h0M45.1 447.8h0M47.1 465.9h0M47.5 465.5h0M47.9 463.8h0M33.1 457.5h0M47.7 449.2h0M37.9 463.6h0M34.9 453.5h0M35.3 465.7h0M36.7 447.2h0M36.2 450.7h0M36.6 440.7h0M53.3 463.5h0M38.2 464.3h0M36.0 445.4h0M47.3 464.6h0M34.3 456.5h0M30.6 455.7h0M52.3 458.1h0M45.6 465.4h0M30.5 448.1h0M33.2 458.5h0M39.1 443.7h0M51.9 454.5h0M49.0 466.5h0M32.8 447.9h0M50.0 466.5h0M49.3 462.7h0M49.7 463.3h0M33.9 462.3h0M51.7 452.6h0M34.8 451.7h0M36.4 462.9h0M51.8 456.8h0M41.0 444.0h0M39.3 447.1h0M35.7 461.5h0M44.0 466.5h0M35.0 451.2h0M33.5 454.2h0M40.4 466.3h0M31.0 462.6h0M49.9 450.4h0M34.6 459.1h0M51.1 453.8h0M34.8 457.5h0M33.7 459.0h0M51.5 457.3h0M33.4 456.5h0M40.3 465.0h0M38.9 465.3h0M51.1 463.2h0M44.9 466.2h0M40.9 447.9h0M32.6 456.7h0M51.5 449.3h0M48.5 446.8h0M44.9 465.8h0M43.4 446.1h0M50.4 452.4h0M50.7 451.1h0M31.7 453.2h0M47.8 465.6h0M51.2 457.4h0M51.4 453.9h0M35.4 460.6h0M51.9 452.1h0M48.5 448.9h0M34.4 458.7h0M33.8 450.2h0M33.9 451.6h0M37.5 466.3h0M51.5 457.6h0M35.0 441.4h0M48.1 448.7h0M51.9 452.9h0M33.5 451.6h0M33.5 447.2h0M50.3 450.7h0M50.0 450.4h0M39.5 448.0h0M37.2 449.1h0M53.6 456.1h0M31.3 466.0h0M51.4 464.5h0M38.1 449.4h0M34.8 458.8h0M51.4 456.5h0M36.5 448.4h0M53.0 465.2h0M33.8 451.5h0M42.3 465.7h0M39.2 464.4h0M45.9 466.5h0M34.2 464.3h0M48.5 463.8h0M32.4 454.8h0M39.6 465.1h0M49.5 463.5h0M34.5 465.2h0M43.6 466.3h0M42.7 447.1h0M58.6 460.7h0M50.8 451.5h0M41.0 466.6h0M45.9 466.0h0M51.2 448.7h0M33.1 464.3h0M51.0 452.9h0M38.8 448.4h0M54.6 455.4h0M33.6 463.0h0M40.8 465.2h0M34.7 455.7h0M31.0 460.1h0M35.1 452.0h0M45.4 465.2h0M31.0 455.7h0M47.5 465.6h0M34.3 459.7h0M46.6 465.7h0M34.6 454.0h0M38.8 466.1h0M52.0 452.7h0M38.3 463.9h0M33.9 455.4h0M50.2 463.4h0M36.2 449.9h0M42.0 445.3h0M50.7 459.9h0M32.9 454.7h0M34.8 453.2h0M36.9 466.3h0M35.1 462.9h0M44.4 466.6h0M34.9 457.6h0M43.3 443.8h0M57.4 455.2h0M40.2 446.6h0M41.9 465.5h0M35.1 461.3h0M50.6 463.9h0M40.2 444.5h0M48.0 464.2h0M37.5 449.5h0M53.6 446.6h0M37.0 449.5h0M32.5 451.8h0M37.1 465.9h0M32.2 447.9h0M44.7 445.2h0M30.5 452.6h0M34.4 449.5h0M39.9 465.0h0M34.8 453.1h0M51.6 454.7h0M50.2 450.5h0M46.6 466.7h0M34.5 466.2h0M36.8 450.4h0M39.9 465.0h0M33.2 456.9h0M38.7 466.4h0M31.7 460.9h0M39.2 447.9h0M47.0 448.7h0M43.8 465.4h0M52.4 453.3h0M53.0 439.9h0M54.1 464.3h0M53.8 458.0h0M45.5 446.9h0M51.8 448.7h0M34.1 456.6h0M47.5 464.1h0M33.5 453.8h0M46.8 466.3h0M50.9 461.1h0M38.8 448.4h0M34.6 455.2h0M49.4 450.1h0M55.5 450.3h0M51.7 454.4h0M39.5 448.3h0M53.6 454.5h0M51.3 458.6h0M50.2 462.6h0M53.7 451.7h0M37.5 466.4h0M52.9 457.2h0M36.6 462.3h0M52.2 451.0h0M53.4 456.2h0M36.8 450.2h0M30.8 458.6h0M33.3 452.4h0M34.1 459.0h0M51.7 457.2h0M46.3 464.9h0M53.7 460.6h0M53.8 456.2h0M47.2 448.3h0M48.4 448.4h0M48.4 449.0h0M40.0 466.6h0M44.5 465.9h0M41.3 444.1h0M53.5 455.3h0M37.3 464.9h0M34.3 450.9h0M51.7 451.1h0M52.3 454.0h0M35.2 459.5h0M38.7 465.8h0M52.4 457.2h0M49.6 462.9h0M53.2 446.7h0M50.6 463.7h0M34.7 457.3h0M40.1 466.1h0M34.0 461.4h0M52.4 461.0h0M36.4 450.5h0M30.4 450.2h0M51.0 449.5h0M31.8 454.9h0M32.6 459.9h0M36.0 464.2h0M42.0 445.6h0M35.6 450.5h0M36.8 465.7h0M34.1 459.9h0M36.5 463.2h0M34.0 446.6h0M46.6 466.1h0M32.8 454.3h0M38.2 447.9h0M52.2 457.2h0M32.7 455.0h0M52.5 451.4h0M37.8 448.4h0M45.3 447.7h0M50.3 449.6h0M32.7 459.9h0M30.5 450.7h0M49.1 462.7h0M35.7 451.2h0M46.1 465.8h0M34.2 454.7h0M37.2 463.6h0M42.9 465.7h0M54.0 454.7h0M37.6 463.5h0M55.9 454.3h0M53.5 464.2h0M31.1 450.5h0M34.2 460.2h0M53.1 457.1h0M43.9 466.6h0M45.1 464.8h0M37.1 466.2h0M39.8 441.6h0M34.8 452.0h0M42.3 466.0h0M50.2 462.4h0M38.1 466.3h0M52.7 457.0h0M34.4 456.1h0M40.0 447.7h0M42.6 447.2h0M49.5 449.8h0M50.1 461.7h0M45.4 465.3h0M36.8 466.4h0M36.4 463.6h0M43.2 447.5h0M53.8 463.7h0M39.0 464.7h0M47.5 465.0h0M52.2 455.1h0M40.7 446.5h0M45.6 465.8h0M38.3 464.6h0M45.3 447.8h0M34.6 464.4h0M58.2 460.0h0M35.1 449.0h0M46.1 465.3h0M52.0 441.8h0M54.9 457.7h0M45.6 465.1h0M36.1 451.3h0M49.6 445.3h0M41.1 465.5h0M31.8 455.5h0M53.6 459.3h0M49.6 463.5h0M47.3 464.3h0M34.2 454.4h0M54.3 448.9h0M41.5 446.1h0M37.5 448.7h0M33.2 458.6h0M34.6 461.4h0M53.8 440.8h0M41.9 443.1h0M40.2 465.0h0M44.7 465.8h0M44.0 444.5h0M52.9 450.2h0M40.5 465.1h0M34.0 457.6h0M52.2 445.9h0M31.9 453.6h0M41.6 446.0h0M31.2 462.2h0M46.0 446.1h0M51.5 455.7h0M44.2 445.8h0M39.3 464.8h0M31.9 449.8h0M49.0 465.4h0M51.6 455.7h0M33.9 453.1h0M38.7 464.4h0M41.4 464.5h0M51.0 443.0h0M33.3 456.6h0M51.7 460.3h0M30.4 446.3h0M52.7 461.0h0M58.4 461.5h0M46.2 466.5h0M37.2 449.5h0M33.9 458.9h0M47.0 465.6h0M53.1 461.1h0M52.8 454.6h0M31.4 455.2h0M35.8 465.1h0M37.2 459.2h0M32.9 458.2h0M34.9 459.7h0M33.6 461.3h0M33.3 461.7h0M32.6 452.2h0M33.3 465.7h0M32.1 464.6h0M37.2 457.3h0M34.6 448.5h0M35.4 466.7h0M34.5 450.0h0M32.6 456.3h0M34.3 461.4h0M33.0 458.4h0M32.1 462.9h0M34.5 461.7h0M32.8 462.5h0M33.3 461.5h0M33.6 456.7h0M31.4 450.6h0M30.8 462.3h0M41.8 451.8h0M32.1 459.9h0M42.6 459.0h0M31.2 462.1h0M39.0 446.0h0M31.2 466.2h0M31.2 459.5h0M32.5 463.8h0M30.5 461.5h0M34.5 462.8h0M35.0 460.8h0M30.8 458.4h0M31.7 462.7h0M33.5 460.8h0M36.7 459.5h0M38.1 464.2h0M30.4 457.1h0M36.9 457.5h0M36.9 457.2h0M33.7 465.1h0M30.8 460.4h0M32.9 460.8h0M38.1 462.5h0M30.8 464.8h0M32.9 460.8h0M36.8 458.4h0M36.3 460.9h0M31.8 458.4h0M30.7 465.9h0M34.4 464.8h0M31.3 464.2h0M31.1 461.4h0M34.0 457.0h0M34.8 460.2h0M31.9 456.3h0M30.9 466.0h0M34.4 458.2h0M35.7 455.7h0M31.2 461.8h0M37.8 461.5h0M34.4 466.3h0M30.6 466.3h0M31.3 459.6h0M30.8 453.9h0M33.4 465.6h0M31.7 456.9h0M34.7 454.9h0M33.4 464.1h0M30.6 458.5h0M33.3 457.4h0M33.7 451.0h0M32.9 457.4h0M31.5 466.3h0M38.8 464.0h0M31.9 465.1h0M35.2 455.9h0M35.5 457.1h0M35.4 464.6h0M36.8 454.7h0M33.7 460.0h0M31.0 462.1h0M35.7 453.1h0M32.7 454.5h0M30.9 454.7h0M37.3 456.7h0M33.0 464.9h0M36.5 466.4h0M30.4 463.8h0M31.2 456.8h0M33.0 457.1h0M38.8 459.2h0M36.8 459.1h0M33.9 462.6h0M35.1 462.5h0M30.5 462.5h0M34.8 463.0h0M33.9 462.0h0M30.8 465.7h0M31.1 465.5h0M36.5 459.7h0M33.3 463.9h0M33.3 454.1h0M34.7 453.9h0M32.9 465.8h0M36.0 457.7h0M33.8 456.8h0M34.0 452.8h0M35.7 460.1h0M32.5 456.9h0M40.4 457.8h0M32.8 457.1h0M32.8 466.5h0M35.6 462.1h0M34.9 454.3h0M30.9 465.9h0M35.7 461.1h0M56.9 465.9h0M88.7 442.9h0M56.9 462.5h0M57.3 455.8h0M66.1 461.4h0M94.4 463.7h0M82.5 462.7h0M83.8 463.0h0M61.3 440.8h0M63.8 454.7h0M84.2 440.5h0M77.6 463.4h0M84.7 448.7h0M79.6 456.4h0M94.7 464.7h0M77.4 452.3h0M101.7 446.2h0M62.8 456.5h0M80.3 456.5h0M57.6 440.7h0M72.5 462.7h0M59.9 466.0h0M101.2 462.8h0M78.4 441.9h0M91.2 451.1h0M64.6 448.9h0M93.8 461.0h0M62.4 455.7h0M80.4 443.4h0M80.0 459.5h0M88.4 462.5h0M58.6 466.1h0M79.2 451.4h0M73.0 452.0h0M61.0 460.9h0M79.7 455.9h0M74.8 442.7h0M73.1 447.1h0M57.6 453.7h0M57.5 461.2h0M61.0 456.4h0M60.1 442.2h0M65.2 458.5h0M57.8 456.8h0M92.3 452.2h0M100.0 450.4h0M83.2 455.3h0M95.8 454.7h0M59.5 460.6h0M93.2 464.9h0M60.7 450.2h0M85.6 454.3h0M83.7 455.5h0M79.9 465.4h0M70.3 441.2h0M79.1 457.6h0M81.9 441.1h0M73.0 455.6h0M94.8 444.4h0M62.3 449.1h0M65.2 457.2h0M93.6 457.0h0M101.5 453.8h0M98.1 463.0h0M69.9 465.5h0M97.4 443.4h0M74.1 454.3h0M105.6 456.4h0M65.5 462.8h0M101.8 445.6h0M76.3 447.5h0M95.8 449.1h0M58.6 449.6h0M98.4 454.1h0M71.1 449.7h0M61.1 460.5h0M85.5 440.7h0M58.8 449.2h0M75.1 465.4h0M60.1 458.5h0M86.2 462.9h0M68.5 450.3h0M90.3 440.6h0M96.0 461.4h0M78.2 450.7h0M77.8 450.9h0M68.9 460.2h0M84.6 443.8h0M85.6 449.3h0M104.7 459.8h0M79.1 445.0h0M83.7 466.3h0M75.5 445.2h0M61.5 456.2h0M106.5 454.6h0M77.3 450.9h0M96.8 454.6h0M100.3 448.1h0M69.8 450.5h0M65.2 465.0h0M74.1 465.2h0M65.2 444.6h0M105.6 461.3h0M60.3 457.2h0M72.3 462.7h0M93.8 462.3h0M77.0 459.3h0M83.4 463.4h0M74.5 444.4h0M56.9 461.4h0M57.8 444.7h0M84.9 460.1h0M100.4 461.9h0M74.3 447.5h0M80.6 464.7h0M57.3 461.6h0M103.8 443.1h0M65.2 465.1h0M82.6 461.2h0M99.8 442.6h0M92.1 446.3h0M91.9 444.9h0M68.8 447.7h0M56.9 448.4h0M72.0 440.9h0M92.4 454.7h0M87.2 451.2h0M81.6 466.2h0M62.3 459.7h0M86.9 442.7h0M82.3 446.8h0M82.7 462.6h0M63.4 451.3h0M90.2 455.5h0M86.4 457.7h0M65.8 462.0h0M70.4 451.4h0M58.7 442.3h0M56.9 447.5h0M67.2 442.1h0M64.6 465.7h0M86.1 456.6h0M94.6 449.1h0M71.8 449.3h0M85.5 457.9h0M61.2 449.5h0M78.7 465.1h0M60.1 455.2h0M58.2 452.8h0M69.5 458.7h0M90.0 447.3h0M57.7 450.9h0M107.3 450.7h0M106.7 460.4h0M62.1 457.9h0M62.6 462.2h0M63.4 453.4h0M94.1 446.4h0M57.2 446.5h0M82.8 459.5h0M56.8 444.1h0M59.3 459.8h0M65.4 445.8h0M103.7 442.7h0M96.8 444.5h0M73.4 464.9h0M62.6 462.7h0M58.8 462.9h0M66.0 465.1h0M65.0 444.2h0M85.6 429.8h0M102.6 439.2h0M100.8 437.9h0M96.9 436.2h0M87.9 433.7h0M98.9 428.0h0M97.2 438.6h0M87.7 434.6h0M80.0 423.5h0M76.1 435.5h0M99.1 433.0h0M103.2 438.2h0M91.3 428.7h0M101.6 426.7h0M87.6 435.1h0M104.5 429.6h0M108.8 425.1h0M110.2 430.6h0M97.7 432.4h0M89.9 432.2h0M99.4 437.0h0M72.6 431.5h0M89.4 429.6h0M90.7 439.3h0M103.3 436.5h0M87.2 428.4h0M88.0 433.7h0M84.3 430.2h0M81.8 434.1h0M94.3 434.0h0M87.4 438.6h0M87.5 431.5h0M96.9 431.4h0M105.8 435.7h0M102.6 433.1h0M85.7 435.7h0M101.0 434.5h0M95.6 436.5h0M95.8 418.0h0M94.2 430.3h0M95.5 434.6h0M81.9 436.0h0M72.5 436.6h0M95.6 429.7h0M109.2 420.9h0M96.7 423.8h0M100.9 422.4h0M100.8 427.1h0M107.5 434.1h0M99.9 423.2h0M81.6 437.1h0M74.2 424.8h0M80.3 436.5h0M85.1 438.2h0M105.2 422.4h0M80.8 433.3h0M104.2 436.5h0M106.6 421.5h0M100.0 433.8h0M92.9 438.1h0M88.0 423.0h0M91.6 422.6h0M97.6 435.4h0M84.2 431.0h0M98.3 431.7h0M92.0 427.0h0M96.1 436.2h0M84.9 433.2h0M98.8 419.2h0M95.2 435.6h0M100.2 437.3h0M81.8 436.3h0M96.3 436.8h0M106.1 408.6h0M79.8 427.9h0M47.3 425.1h0M44.0 418.8h0M47.8 431.2h0M57.3 435.4h0M45.6 428.7h0M48.2 431.8h0M52.1 419.0h0M49.7 437.4h0" stroke="#111" stroke-width="1.05" stroke-linecap="square" fill="none" opacity="0.88"/>
</g>
<rect x="29.50" y="377.50" width="95.00" height="90.00" fill="none" stroke="#111" stroke-width="1.15"/>
<line x1="57.50" y1="377.50" x2="57.50" y2="467.50" stroke="#111" stroke-width="1.15"/>
<line x1="29.50" y1="440.50" x2="124.50" y2="440.50" stroke="#111" stroke-width="1.15"/>
<path d="M29.50 467.50v3.2M29.50 467.50h-3.2M36.65 467.50v1.8M29.50 460.73h-1.8M40.83 467.50v1.8M29.50 456.76h-1.8M43.80 467.50v1.8M29.50 453.95h-1.8M46.10 467.50v1.8M29.50 451.77h-1.8M47.98 467.50v1.8M29.50 449.99h-1.8M49.57 467.50v1.8M29.50 448.49h-1.8M50.95 467.50v1.8M29.50 447.18h-1.8M52.16 467.50v1.8M29.50 446.03h-1.8M53.25 467.50v3.2M29.50 445.00h-3.2M60.40 467.50v1.8M29.50 438.23h-1.8M64.58 467.50v1.8M29.50 434.26h-1.8M67.55 467.50v1.8M29.50 431.45h-1.8M69.85 467.50v1.8M29.50 429.27h-1.8M71.73 467.50v1.8M29.50 427.49h-1.8M73.32 467.50v1.8M29.50 425.99h-1.8M74.70 467.50v1.8M29.50 424.68h-1.8M75.91 467.50v1.8M29.50 423.53h-1.8M77.00 467.50v3.2M29.50 422.50h-3.2M84.15 467.50v1.8M29.50 415.73h-1.8M88.33 467.50v1.8M29.50 411.76h-1.8M91.30 467.50v1.8M29.50 408.95h-1.8M93.60 467.50v1.8M29.50 406.77h-1.8M95.48 467.50v1.8M29.50 404.99h-1.8M97.07 467.50v1.8M29.50 403.49h-1.8M98.45 467.50v1.8M29.50 402.18h-1.8M99.66 467.50v1.8M29.50 401.03h-1.8M100.75 467.50v3.2M29.50 400.00h-3.2M107.90 467.50v1.8M29.50 393.23h-1.8M112.08 467.50v1.8M29.50 389.26h-1.8M115.05 467.50v1.8M29.50 386.45h-1.8M117.35 467.50v1.8M29.50 384.27h-1.8M119.23 467.50v1.8M29.50 382.49h-1.8M120.82 467.50v1.8M29.50 380.99h-1.8M122.20 467.50v1.8M29.50 379.68h-1.8M123.41 467.50v1.8M29.50 378.53h-1.8M124.50 467.50v3.2M29.50 377.50h-3.2" stroke="#111" stroke-width="0.9" fill="none"/>
<text transform="translate(24.50 482.30) scale(0.88 1)" font-family="Liberation Sans, Arial, sans-serif" font-size="9.0" font-weight="normal" text-anchor="start" fill="#222"  stroke="#222" stroke-width="0.25">10</text>
<text transform="translate(33.10 476.70) scale(0.88 1)" font-family="Liberation Sans, Arial, sans-serif" font-size="7.4" font-weight="normal" text-anchor="start" fill="#222"  stroke="#222" stroke-width="0.25">0</text>
<text transform="translate(23.60 474.40) rotate(-90) scale(0.88 1)" font-family="Liberation Sans, Arial, sans-serif" font-size="9.0" font-weight="normal" text-anchor="start" fill="#222">10</text>
<text transform="translate(19.20 464.30) rotate(-90) scale(0.88 1)" font-family="Liberation Sans, Arial, sans-serif" font-size="7.4" font-weight="normal" text-anchor="start" fill="#222">0</text>
<text transform="translate(48.25 482.30) scale(0.88 1)" font-family="Liberation Sans, Arial, sans-serif" font-size="9.0" font-weight="normal" text-anchor="start" fill="#222"  stroke="#222" stroke-width="0.25">10</text>
<text transform="translate(56.85 476.70) scale(0.88 1)" font-family="Liberation Sans, Arial, sans-serif" font-size="7.4" font-weight="normal" text-anchor="start" fill="#222"  stroke="#222" stroke-width="0.25">1</text>
<text transform="translate(23.60 451.90) rotate(-90) scale(0.88 1)" font-family="Liberation Sans, Arial, sans-serif" font-size="9.0" font-weight="normal" text-anchor="start" fill="#222">10</text>
<text transform="translate(19.20 441.80) rotate(-90) scale(0.88 1)" font-family="Liberation Sans, Arial, sans-serif" font-size="7.4" font-weight="normal" text-anchor="start" fill="#222">1</text>
<text transform="translate(72.00 482.30) scale(0.88 1)" font-family="Liberation Sans, Arial, sans-serif" font-size="9.0" font-weight="normal" text-anchor="start" fill="#222"  stroke="#222" stroke-width="0.25">10</text>
<text transform="translate(80.60 476.70) scale(0.88 1)" font-family="Liberation Sans, Arial, sans-serif" font-size="7.4" font-weight="normal" text-anchor="start" fill="#222"  stroke="#222" stroke-width="0.25">2</text>
<text transform="translate(23.60 429.40) rotate(-90) scale(0.88 1)" font-family="Liberation Sans, Arial, sans-serif" font-size="9.0" font-weight="normal" text-anchor="start" fill="#222">10</text>
<text transform="translate(19.20 419.30) rotate(-90) scale(0.88 1)" font-family="Liberation Sans, Arial, sans-serif" font-size="7.4" font-weight="normal" text-anchor="start" fill="#222">2</text>
<text transform="translate(95.75 482.30) scale(0.88 1)" font-family="Liberation Sans, Arial, sans-serif" font-size="9.0" font-weight="normal" text-anchor="start" fill="#222"  stroke="#222" stroke-width="0.25">10</text>
<text transform="translate(104.35 476.70) scale(0.88 1)" font-family="Liberation Sans, Arial, sans-serif" font-size="7.4" font-weight="normal" text-anchor="start" fill="#222"  stroke="#222" stroke-width="0.25">3</text>
<text transform="translate(23.60 406.90) rotate(-90) scale(0.88 1)" font-family="Liberation Sans, Arial, sans-serif" font-size="9.0" font-weight="normal" text-anchor="start" fill="#222">10</text>
<text transform="translate(19.20 396.80) rotate(-90) scale(0.88 1)" font-family="Liberation Sans, Arial, sans-serif" font-size="7.4" font-weight="normal" text-anchor="start" fill="#222">3</text>
<text transform="translate(119.50 482.30) scale(0.88 1)" font-family="Liberation Sans, Arial, sans-serif" font-size="9.0" font-weight="normal" text-anchor="start" fill="#222"  stroke="#222" stroke-width="0.25">10</text>
<text transform="translate(128.10 476.70) scale(0.88 1)" font-family="Liberation Sans, Arial, sans-serif" font-size="7.4" font-weight="normal" text-anchor="start" fill="#222"  stroke="#222" stroke-width="0.25">4</text>
<text transform="translate(23.60 384.40) rotate(-90) scale(0.88 1)" font-family="Liberation Sans, Arial, sans-serif" font-size="9.0" font-weight="normal" text-anchor="start" fill="#222">10</text>
<text transform="translate(19.20 374.30) rotate(-90) scale(0.88 1)" font-family="Liberation Sans, Arial, sans-serif" font-size="7.4" font-weight="normal" text-anchor="start" fill="#222">4</text>
<text transform="translate(13.20 440.00) rotate(-90) scale(0.98 1)" font-family="Liberation Sans, Arial, sans-serif" font-size="8.2" font-weight="normal" text-anchor="start" fill="#222">TOPRO</text>
<text transform="translate(77.10 490.90) scale(0.95 1)" font-family="Liberation Sans, Arial, sans-serif" font-size="8.0" font-weight="normal" text-anchor="middle" fill="#222"  stroke="#222" stroke-width="0.25">AnnexinFITC</text>
<text x="119.80" y="390.45" font-family="Liberation Sans, Arial, sans-serif" font-size="8.2" font-weight="normal" text-anchor="end" fill="#333" >1%</text>
<text x="120.20" y="456.45" font-family="Liberation Sans, Arial, sans-serif" font-size="8.2" font-weight="normal" text-anchor="end" fill="#333" >3%</text>
<clipPath id="c400"><rect x="158.5" y="376.5" width="97" height="90"/></clipPath><g clip-path="url(#c400)">
<path d="M179.7 433.7L179.0 436.3L180.2 436.1L180.0 437.6L181.0 437.8L182.0 438.2L181.9 439.5L181.5 440.9L183.0 441.3L182.3 442.7L182.4 443.9L181.4 445.3L181.9 446.5L180.5 447.6L180.6 449.0L179.5 450.0L178.9 451.1L177.4 451.6L177.7 453.7L176.7 454.5L175.4 454.7L174.7 456.0L173.8 457.1L172.8 457.8L171.6 456.3L170.6 459.4L169.8 457.8L168.4 460.4L167.5 459.8L166.8 459.0L165.8 458.9L165.0 458.7L164.5 457.8L162.8 458.8L163.3 456.6L162.7 456.1L162.1 455.6L162.6 454.0L160.5 454.4L161.8 452.4L159.8 452.4L160.2 451.1L159.5 450.1L161.6 448.4L161.6 447.3L162.1 446.1L161.8 444.9L163.3 444.0L163.6 442.7L165.2 442.3L164.8 440.5L165.6 439.4L165.9 437.4L167.7 438.2L168.2 436.3L169.3 435.8L170.3 435.0L171.4 436.0L172.1 437.6L173.3 434.9L174.6 433.5L175.4 434.2L176.7 433.2L178.0 432.8L177.6 435.4Z" fill="#050505" filter="url(#bl)"/>
<path d="M188.5 434.4h0M168.4 457.7h0M169.6 437.3h0M166.4 439.5h0M181.8 441.3h0M176.4 452.6h0M181.1 430.0h0M164.3 460.8h0M162.3 447.7h0M181.8 442.3h0M182.1 447.0h0M162.4 452.4h0M161.8 436.2h0M161.2 465.4h0M167.4 456.7h0M166.3 457.7h0M174.0 434.6h0M175.9 436.2h0M170.9 456.2h0M181.5 436.5h0M178.9 437.8h0M166.1 463.5h0M177.9 449.7h0M161.3 445.3h0M185.8 441.5h0M170.4 430.8h0M168.0 437.3h0M163.4 445.6h0M161.8 449.6h0M173.6 455.6h0M183.2 437.6h0M165.8 441.8h0M164.8 455.6h0M163.5 454.8h0M176.1 435.6h0M163.9 455.9h0M172.8 436.7h0M175.3 453.8h0M164.3 442.4h0M170.5 436.6h0M181.2 442.3h0M180.0 440.4h0M162.9 457.2h0M178.9 448.4h0M163.4 456.6h0M164.4 459.2h0M179.8 443.8h0M182.6 436.7h0M163.4 445.5h0M173.9 455.3h0M174.2 435.1h0M163.9 444.8h0M179.2 438.1h0M161.5 449.8h0M171.1 433.0h0M159.6 450.2h0M178.1 430.9h0M180.8 440.0h0M181.9 443.4h0M164.9 456.0h0M180.9 439.3h0M161.6 450.9h0M165.1 459.1h0M161.1 445.6h0M169.1 457.1h0M171.0 437.3h0M179.2 447.9h0M160.7 453.5h0M181.4 440.4h0M160.7 455.1h0M182.2 437.8h0M177.2 452.3h0M184.1 440.9h0M160.5 452.7h0M164.5 455.8h0M169.9 456.7h0M183.4 439.0h0M178.1 436.1h0M181.6 435.6h0M177.0 437.0h0M172.5 464.7h0M177.9 451.0h0M180.6 430.5h0M170.5 459.0h0M166.6 439.5h0M178.2 436.2h0M160.6 445.9h0M167.3 458.1h0M170.9 458.4h0M182.6 432.3h0M175.4 436.5h0M178.2 436.6h0M183.1 443.1h0M170.9 435.4h0M175.1 435.8h0M180.0 447.3h0M167.1 457.2h0M174.6 432.8h0M176.1 453.0h0M176.6 453.2h0M159.5 449.4h0M175.2 436.3h0M180.0 447.3h0M175.9 434.9h0M160.8 443.6h0M166.4 457.8h0M164.9 439.7h0M177.5 436.3h0M176.0 434.8h0M170.9 434.9h0M161.3 457.3h0M180.2 439.8h0M163.2 460.6h0M182.4 446.6h0M180.6 440.1h0M165.3 459.9h0M161.0 459.6h0M162.5 446.1h0M163.6 456.4h0M171.1 436.4h0M179.9 446.2h0M180.0 452.3h0M162.8 446.6h0M167.5 462.7h0M176.0 436.0h0M174.9 436.4h0M177.9 436.3h0M175.4 436.5h0M159.5 446.4h0M167.7 437.4h0M180.3 444.5h0M176.7 431.1h0M179.1 449.0h0M162.0 451.5h0M182.5 449.2h0M182.1 440.8h0M169.4 458.2h0M171.0 433.9h0M166.2 441.3h0M166.5 436.5h0M177.8 436.7h0M160.9 442.3h0M159.7 459.4h0M180.3 440.3h0M167.2 435.9h0M179.9 449.4h0M166.8 460.3h0M169.9 457.4h0M163.9 440.5h0M172.3 458.6h0M177.9 452.1h0M180.1 446.7h0M169.0 456.9h0M175.0 454.6h0M174.3 455.9h0M173.3 431.8h0M175.6 453.2h0M184.4 437.4h0M163.6 440.5h0M173.3 435.3h0M179.7 445.6h0M169.5 460.3h0M180.9 439.7h0M180.1 440.0h0M161.4 456.2h0M175.2 435.5h0M178.1 449.5h0M179.3 446.7h0M177.6 437.0h0M162.9 456.1h0M173.3 434.9h0M179.9 440.5h0M159.6 444.8h0M164.8 442.4h0M173.1 456.4h0M168.0 457.6h0M179.8 444.6h0M171.8 427.8h0M177.1 435.6h0M162.9 446.5h0M179.8 442.1h0M174.5 458.1h0M163.8 455.7h0M164.9 458.3h0M180.3 447.3h0M174.6 434.9h0M178.9 433.8h0M185.6 440.6h0M162.3 446.2h0M181.4 446.8h0M180.4 446.9h0M180.9 444.1h0M177.1 434.3h0M163.1 457.9h0M160.8 449.1h0M176.2 452.8h0M160.5 454.9h0M171.1 435.7h0M176.4 454.5h0M180.2 437.4h0M162.4 435.5h0M180.1 440.6h0M164.8 458.8h0M176.0 436.4h0M181.4 442.4h0M167.1 440.3h0M170.9 459.2h0M168.8 457.2h0M182.4 437.4h0M163.6 457.5h0M160.2 446.9h0M169.7 457.6h0M173.7 436.4h0M165.5 440.3h0M163.6 455.5h0M175.2 435.5h0M174.2 454.3h0M172.6 432.3h0M179.2 438.7h0M175.8 452.7h0M162.4 460.7h0M162.9 444.1h0M177.0 435.9h0M174.6 454.6h0M161.4 452.5h0M181.4 442.1h0M178.5 431.1h0M159.9 452.5h0M164.8 458.0h0M163.1 445.9h0M161.4 453.2h0M176.0 454.3h0M181.6 445.9h0M181.2 441.5h0M180.6 437.7h0M183.6 438.7h0M180.9 433.9h0M178.5 458.6h0M173.9 454.8h0M162.5 447.7h0M167.5 438.1h0M177.9 452.7h0M178.9 449.1h0M180.1 440.0h0M178.7 448.7h0M168.8 458.2h0M161.1 453.3h0M161.3 446.9h0M164.0 461.5h0M180.5 443.6h0M181.9 431.9h0M171.6 435.8h0M169.2 436.4h0M176.0 430.3h0M173.8 455.3h0M167.4 465.0h0M166.0 457.7h0M179.1 436.9h0M174.3 435.1h0M164.6 436.4h0M175.7 432.9h0M164.8 456.9h0M176.2 432.1h0M164.9 443.0h0M160.2 449.7h0M180.7 443.1h0M166.9 457.4h0M180.2 441.6h0M167.1 456.6h0M166.5 439.4h0M176.6 452.6h0M175.2 455.7h0M163.0 444.5h0M162.4 444.4h0M166.8 437.0h0M165.8 441.8h0M172.6 455.6h0M168.8 438.3h0M174.2 435.4h0M182.4 443.8h0M180.2 446.5h0M167.1 459.4h0M162.7 458.0h0M163.2 434.6h0M161.5 451.2h0M164.7 457.0h0M168.6 436.8h0M160.1 445.7h0M159.3 445.6h0M166.0 459.8h0M171.9 435.3h0M168.2 438.4h0M183.9 444.0h0M159.7 460.8h0M162.2 452.3h0M185.1 440.2h0M177.5 450.9h0M161.9 457.9h0M163.1 453.2h0M165.1 439.2h0M175.8 459.6h0M163.2 459.7h0M180.5 440.4h0M163.7 441.0h0M161.3 445.3h0M181.9 433.7h0M179.2 438.1h0M175.8 454.6h0M181.0 440.4h0M180.7 443.4h0M173.0 455.3h0M167.5 439.8h0M183.4 448.1h0M168.5 464.2h0M175.5 454.9h0M163.4 456.3h0M177.7 435.8h0M166.5 438.9h0M173.4 459.5h0M173.9 436.5h0M159.7 453.8h0M164.1 457.0h0M163.9 444.4h0M166.0 457.0h0M170.5 433.8h0M169.7 460.4h0M161.8 456.8h0M180.3 451.2h0M160.7 452.6h0M177.6 451.9h0M166.1 440.6h0M163.1 439.3h0M182.5 444.9h0M176.0 453.3h0M173.0 458.8h0M161.7 450.0h0M159.7 446.9h0M183.1 447.6h0M162.7 457.6h0M170.5 437.1h0M165.1 459.8h0M178.8 436.6h0M162.7 455.8h0M162.1 460.2h0M182.7 440.7h0M176.1 452.5h0M166.7 456.9h0M166.8 457.1h0M167.6 457.1h0M177.6 436.6h0M166.9 459.2h0M162.9 447.4h0M169.6 437.0h0M180.8 439.6h0M161.7 451.0h0M163.8 443.7h0M165.9 434.0h0M168.2 439.1h0M168.5 458.7h0M170.9 456.6h0M162.7 452.6h0M180.7 445.2h0M178.0 436.0h0M177.3 433.7h0M159.7 450.7h0M160.1 454.9h0M164.3 460.6h0M171.3 437.3h0M174.4 436.4h0M162.6 449.5h0M164.6 441.7h0M184.1 442.0h0M181.3 452.7h0M170.7 458.2h0M166.3 460.5h0M172.6 457.1h0M178.8 449.6h0M180.5 441.6h0M177.7 453.8h0M180.2 443.9h0M177.6 434.1h0M184.0 437.5h0M164.2 441.0h0M176.6 434.6h0M179.8 443.6h0M181.0 439.9h0M159.9 457.7h0M179.5 439.8h0M180.7 440.5h0M175.8 432.4h0M180.5 436.8h0M179.9 446.2h0M174.3 454.7h0M175.7 453.4h0M173.4 457.1h0M160.7 456.1h0M176.2 452.2h0M162.4 453.9h0M179.7 448.3h0M175.9 434.1h0M164.1 444.6h0M161.5 457.0h0M170.5 434.0h0M187.9 430.1h0M180.5 434.3h0M163.1 463.4h0M176.4 432.8h0M181.8 438.8h0M181.1 441.8h0M180.7 442.8h0M180.6 437.5h0M180.3 440.5h0M165.9 440.6h0M159.8 456.3h0M159.6 451.1h0M174.5 435.8h0M190.2 446.6h0M173.8 435.5h0M174.0 436.3h0M181.8 450.5h0M184.3 439.0h0M181.0 449.8h0M181.4 442.3h0M161.4 454.5h0M170.6 437.5h0M160.1 444.5h0M164.0 455.9h0M166.7 439.1h0M179.1 453.0h0M163.2 439.7h0M165.5 456.1h0M179.6 436.1h0M180.4 436.3h0M183.3 442.0h0M180.2 435.1h0M191.7 453.3h0M165.3 458.3h0M169.8 437.2h0M176.6 435.8h0M179.2 437.8h0M171.8 458.0h0M184.3 435.4h0M164.6 439.1h0M177.0 436.9h0M159.6 446.6h0M180.5 446.0h0M184.2 448.0h0M164.2 461.1h0M178.7 451.7h0M164.4 442.5h0M176.8 451.7h0M161.5 450.7h0M179.7 447.6h0M174.4 454.3h0M162.6 452.4h0M179.3 448.7h0M178.7 433.9h0M182.2 449.1h0M175.0 435.4h0M166.2 438.4h0M160.9 458.7h0M160.8 447.9h0M175.1 434.9h0M179.8 441.6h0M163.1 443.9h0M171.4 428.2h0M177.5 451.1h0M163.2 453.2h0M179.9 441.3h0M175.9 454.1h0M181.4 447.4h0M162.9 440.0h0M161.0 457.3h0M165.8 437.9h0M175.0 455.7h0M168.4 438.3h0M172.2 455.5h0M162.6 451.9h0M167.5 457.2h0M184.8 439.7h0M175.8 461.2h0M163.3 442.6h0M164.4 458.9h0M167.7 439.1h0M163.3 455.3h0M179.7 446.7h0M163.7 436.2h0M168.1 457.2h0M180.2 445.9h0M171.6 461.2h0M163.1 456.7h0M162.3 450.5h0M171.6 457.3h0M180.0 439.0h0M161.2 454.9h0M176.8 451.5h0M162.9 453.6h0M183.0 429.3h0M159.6 441.7h0M175.5 457.0h0M169.7 435.6h0M179.1 437.6h0M171.4 457.4h0M162.8 453.6h0M178.4 448.8h0M169.8 456.8h0M178.0 449.6h0M169.4 437.6h0M163.5 457.8h0M180.2 436.9h0M167.2 439.4h0M159.8 451.2h0M162.5 454.6h0M162.9 458.2h0M166.9 460.3h0M163.0 441.3h0M168.1 457.1h0M180.2 445.7h0M163.3 453.8h0M174.8 454.0h0M163.7 455.3h0M168.5 438.8h0M172.7 458.7h0M168.8 437.5h0M176.8 430.8h0M162.6 454.4h0M181.5 447.1h0M181.3 437.4h0M178.5 449.4h0M161.6 451.5h0M179.4 439.0h0M166.4 439.7h0M165.2 439.6h0M178.1 436.4h0M162.2 452.2h0M198.5 436.0h0M174.8 456.5h0M163.7 465.6h0M178.2 449.2h0M160.2 449.6h0M169.1 438.2h0M180.8 445.9h0M176.4 452.3h0M179.9 443.7h0M168.4 457.1h0M178.5 437.9h0M161.7 445.2h0M173.6 458.8h0M179.9 437.6h0M174.4 436.4h0M181.2 443.9h0M172.6 455.4h0M168.6 434.9h0M161.8 453.4h0M162.1 455.3h0M162.5 454.1h0M167.5 437.9h0M179.4 450.4h0M165.5 440.1h0M174.6 455.9h0M163.0 446.4h0M172.0 435.7h0M168.5 458.6h0M165.3 441.9h0M180.7 446.4h0M178.9 436.4h0M180.3 442.8h0M172.1 461.2h0M162.0 451.5h0M161.2 450.2h0M178.4 435.9h0M160.4 445.1h0M175.9 436.6h0M163.9 456.7h0M166.0 461.3h0M167.4 458.8h0M162.5 439.7h0M161.4 453.9h0M180.8 440.8h0M182.2 447.0h0M162.8 447.6h0M159.8 456.4h0M169.7 436.9h0M171.9 457.6h0M166.8 464.1h0M169.3 432.7h0M177.5 437.0h0M175.4 435.3h0M178.3 452.3h0M170.0 457.0h0M176.6 436.3h0M180.7 439.8h0M167.5 435.5h0M166.7 458.0h0M183.5 442.4h0M165.2 441.9h0M159.4 448.4h0M172.2 456.2h0M163.4 442.0h0M170.3 456.4h0M174.9 456.8h0M180.6 446.7h0M165.5 440.9h0M182.4 441.7h0M161.4 446.7h0M173.2 435.4h0M163.9 457.1h0M170.1 436.8h0M178.5 450.4h0M167.6 436.1h0M182.8 446.7h0M177.4 436.0h0M165.5 438.6h0M162.2 451.2h0M180.7 432.3h0M174.7 458.3h0M169.6 433.2h0M162.3 442.7h0M166.2 433.3h0M175.0 430.9h0M176.0 459.3h0M180.1 440.6h0M170.8 435.5h0M175.8 435.5h0M179.6 439.4h0M171.9 432.9h0M167.7 459.5h0M183.9 432.4h0M176.2 452.7h0M164.8 457.9h0M163.9 459.4h0M182.7 446.4h0M174.3 455.4h0M172.9 433.3h0M161.6 442.9h0M168.5 457.8h0M161.0 459.6h0M182.1 445.6h0M162.4 464.0h0M160.2 444.1h0M168.9 458.2h0M177.8 450.7h0M174.8 454.3h0M160.8 451.2h0M162.4 442.2h0M177.1 434.8h0M161.0 451.8h0M165.6 457.4h0M175.1 454.4h0M164.0 457.1h0M161.5 456.6h0M178.1 434.8h0M177.6 436.1h0M160.8 452.4h0M166.7 458.3h0M184.9 453.1h0M183.0 437.2h0M165.5 457.4h0M177.6 459.0h0M173.9 456.6h0M168.5 459.5h0M161.9 455.4h0M179.8 441.7h0M162.9 448.9h0M164.0 456.1h0M164.3 442.8h0M179.2 438.6h0M174.3 456.8h0M160.2 444.9h0M176.3 434.4h0M181.0 436.6h0M172.7 457.6h0M180.5 445.8h0M179.5 451.3h0M175.5 435.3h0M163.5 458.3h0M165.2 441.3h0M178.1 453.0h0M175.3 455.0h0M160.9 450.9h0M176.8 435.7h0M179.5 448.6h0M173.1 431.7h0M179.5 439.0h0M180.5 450.9h0M163.1 446.2h0M164.6 437.2h0M167.8 438.5h0M168.1 438.5h0M174.4 436.1h0M170.2 457.3h0M167.3 436.1h0M162.7 456.7h0M176.6 454.3h0M181.4 436.2h0M176.1 435.0h0M165.7 458.9h0M170.9 462.7h0M179.8 448.7h0M160.6 446.2h0M175.0 453.8h0M163.2 446.4h0M168.6 438.9h0M171.7 432.8h0M161.3 461.1h0M165.0 439.4h0M177.1 451.2h0M180.1 442.2h0M160.5 447.5h0M175.4 435.2h0M172.3 460.4h0M162.5 433.9h0M183.0 430.1h0M168.4 460.9h0M180.3 448.3h0M163.3 441.1h0M163.4 446.0h0M173.4 436.5h0M167.7 437.4h0M162.2 450.8h0M165.2 438.2h0M181.7 453.2h0M168.0 461.9h0M178.8 449.8h0M178.7 448.2h0M180.2 443.7h0M163.5 457.0h0M185.4 438.4h0M161.1 450.4h0M177.1 452.6h0M173.5 435.2h0M161.0 462.1h0M169.4 461.5h0M181.9 437.5h0M180.6 442.2h0M184.3 437.2h0M172.7 432.8h0M165.1 456.2h0M160.4 460.7h0M164.3 444.4h0M181.2 429.4h0M162.9 452.5h0M162.1 444.4h0M178.5 436.0h0M178.1 437.7h0M160.1 447.3h0M174.1 454.7h0M176.7 452.2h0M162.9 454.6h0M173.3 436.6h0M179.8 450.1h0M167.5 456.9h0M170.6 457.1h0M167.0 439.6h0M160.2 450.4h0M169.1 456.7h0M163.9 455.1h0M182.1 452.3h0M186.3 445.3h0M179.7 444.9h0M181.9 434.2h0M172.5 436.0h0M173.1 456.0h0M161.9 450.2h0M165.3 459.3h0M176.5 452.1h0M160.5 449.2h0M178.4 436.0h0M169.4 436.0h0M160.1 448.0h0M179.9 447.8h0M184.9 442.7h0M160.5 455.8h0M162.0 448.6h0M163.3 445.0h0M163.5 458.2h0M165.9 440.8h0M164.2 441.5h0M162.5 450.3h0M164.2 455.3h0M160.0 451.6h0M170.8 457.6h0M160.9 451.3h0M179.1 432.1h0M162.5 446.6h0M181.4 437.0h0M180.5 449.7h0M159.6 449.9h0M180.5 438.1h0M173.4 455.8h0M179.8 453.1h0M166.3 458.8h0M181.7 441.5h0M162.5 450.0h0M173.4 455.5h0M163.5 454.3h0M177.4 435.7h0M174.0 436.4h0M161.6 440.2h0M167.5 457.9h0M189.3 443.5h0M183.0 446.2h0M197.1 443.1h0M181.4 439.1h0M188.2 445.8h0M181.9 444.4h0M190.7 449.9h0M187.8 450.4h0M190.9 444.2h0M189.9 446.6h0M189.7 447.1h0M196.3 441.2h0M187.8 441.8h0M197.2 444.0h0M184.2 445.9h0M185.8 452.6h0M185.7 447.0h0M191.2 451.8h0M181.4 447.2h0M179.6 447.9h0M192.9 444.0h0M184.6 450.6h0M188.1 449.1h0M183.8 444.8h0M184.2 452.0h0M178.8 444.0h0M193.6 445.7h0M180.7 446.9h0M184.9 445.5h0M188.4 449.0h0M178.7 446.8h0M193.3 440.8h0M185.5 441.5h0M189.2 442.7h0M184.4 444.4h0M188.2 441.0h0M179.2 446.7h0M192.6 444.1h0M188.0 447.0h0M186.5 445.9h0M183.3 445.1h0M191.9 447.7h0M192.2 443.2h0M186.6 443.5h0M179.6 449.4h0M184.6 446.9h0M179.1 445.0h0M185.4 444.5h0M190.9 447.8h0M186.6 446.9h0M183.8 443.3h0M184.6 442.1h0M185.2 445.6h0M191.5 444.3h0M197.8 444.0h0M186.6 445.9h0M183.0 445.7h0M177.4 450.3h0M183.2 445.9h0M177.1 448.2h0M230.7 446.1h0M199.6 455.8h0M226.8 441.4h0M199.4 441.5h0M223.6 447.4h0M197.6 458.3h0M195.6 447.6h0M203.6 459.6h0M190.5 444.4h0M191.8 461.0h0M207.3 464.0h0M200.7 460.1h0M228.1 451.0h0M205.3 453.3h0M187.7 443.5h0M234.4 465.2h0M209.2 445.0h0M227.3 440.6h0M231.4 442.5h0M190.5 439.6h0M237.4 448.7h0M229.5 458.6h0M202.1 462.6h0M204.1 439.7h0M217.8 453.5h0M196.6 459.9h0M202.0 457.9h0M205.0 450.6h0M200.7 450.0h0M201.2 452.5h0M204.8 443.6h0M230.7 450.2h0M221.2 457.6h0M190.9 457.2h0M190.2 445.6h0M232.3 448.8h0M192.8 462.0h0M222.1 450.5h0M190.4 439.7h0M220.9 440.5h0M237.3 445.1h0M233.2 441.0h0M190.8 456.4h0M207.6 448.9h0M190.6 458.3h0M222.2 440.4h0M204.3 441.2h0M229.3 442.1h0M191.8 455.4h0M215.1 444.4h0M226.2 462.3h0M216.0 464.7h0M196.4 464.0h0M206.2 462.1h0M214.9 454.8h0M224.7 457.0h0M237.8 462.3h0M188.8 452.4h0M205.7 443.5h0M187.8 460.7h0M193.8 454.1h0M225.5 448.2h0M193.5 455.3h0M221.8 451.0h0M189.4 456.0h0M187.8 453.6h0M193.3 457.6h0M197.7 443.0h0M188.8 463.1h0M190.0 454.3h0M202.2 441.3h0M219.2 458.4h0M190.0 451.2h0M226.3 459.6h0M221.7 456.0h0M235.3 440.6h0M191.3 444.5h0M210.7 455.4h0M206.6 441.9h0M204.6 450.8h0M205.3 464.7h0M221.3 462.7h0M231.1 465.2h0M209.4 458.8h0M216.5 449.2h0M220.5 444.2h0M237.6 462.4h0M193.2 452.8h0M233.1 455.1h0M192.4 451.8h0M196.6 463.3h0M224.6 453.6h0M227.0 462.7h0M197.6 462.3h0M227.2 453.8h0M211.6 464.1h0M202.5 455.3h0M217.7 459.3h0M237.3 456.9h0M206.4 453.2h0M197.8 463.9h0M188.0 441.7h0M237.0 449.5h0M190.1 460.4h0M196.8 464.5h0M197.8 458.1h0M197.1 443.7h0M208.9 439.5h0M196.3 463.6h0M221.5 446.5h0M232.0 425.8h0M231.9 435.5h0M224.3 412.6h0M221.0 423.2h0M233.2 427.3h0M224.0 425.0h0M200.1 433.4h0M214.9 420.3h0M237.4 410.3h0M212.5 435.7h0M229.2 394.5h0M227.6 432.0h0M223.9 404.9h0M217.4 424.7h0M237.9 433.9h0M234.9 430.1h0M228.6 435.4h0M220.0 432.5h0M219.2 408.4h0M237.5 428.5h0M216.3 423.7h0M231.2 409.0h0M226.7 429.0h0M207.3 432.1h0M222.5 434.8h0M226.7 411.7h0M232.8 419.9h0M210.2 432.0h0M225.7 417.1h0M210.8 423.8h0M225.1 400.7h0M210.9 420.6h0M230.4 429.6h0M221.2 417.3h0M206.1 425.8h0M236.8 425.2h0M235.4 429.0h0M224.8 401.3h0M232.4 436.9h0M239.9 428.6h0M233.5 433.5h0M231.0 403.6h0M229.3 404.9h0M214.6 417.8h0M227.3 413.6h0M214.3 423.6h0M214.3 432.6h0M234.8 431.8h0M239.4 409.0h0M210.1 411.4h0M213.9 410.3h0M206.7 435.4h0M198.0 432.4h0M192.6 417.8h0M224.6 422.7h0M229.0 414.3h0M241.0 396.8h0M205.0 438.1h0M226.2 419.0h0M218.1 422.9h0M222.8 426.7h0M219.4 434.3h0M215.8 435.2h0M215.8 410.1h0M226.7 422.6h0M223.1 421.9h0M218.7 428.9h0M219.4 397.4h0M194.1 426.8h0M212.1 402.5h0M222.3 435.7h0M214.3 424.1h0M225.9 393.2h0M217.7 410.1h0M213.5 424.4h0M214.8 413.8h0M225.4 395.6h0M231.0 423.2h0M237.0 408.8h0M231.1 435.3h0M233.0 399.8h0M224.1 422.8h0M238.9 437.1h0M215.7 433.9h0M228.3 437.5h0M233.2 416.8h0M230.9 390.4h0M212.8 435.1h0M226.8 437.1h0M231.5 430.3h0M223.1 436.9h0M210.2 433.7h0M217.2 426.7h0M202.2 410.6h0M222.0 412.8h0M230.5 416.5h0M224.3 436.8h0M222.1 436.0h0M205.9 432.0h0M227.2 417.2h0M211.7 424.1h0M200.3 436.5h0M212.3 432.4h0M217.2 414.1h0M232.1 416.3h0M230.1 411.4h0M206.5 407.1h0M217.5 423.0h0M214.0 434.3h0M217.8 428.1h0M219.9 438.1h0M238.5 434.9h0M223.7 399.1h0M193.4 432.3h0M205.8 430.0h0M224.3 419.7h0M213.3 417.7h0M239.2 433.5h0M220.1 414.1h0M235.3 433.1h0M222.2 426.9h0M210.2 433.5h0M221.9 426.5h0M222.0 437.3h0M215.8 405.8h0M227.9 427.0h0M226.4 426.6h0M224.2 428.3h0M230.9 430.8h0M223.5 432.9h0M231.5 428.2h0M221.7 433.8h0M235.2 430.6h0M230.6 432.8h0M232.4 424.8h0M234.5 430.3h0M233.2 427.5h0M230.8 430.8h0M223.3 432.5h0M225.8 428.7h0M233.0 431.8h0M232.0 424.9h0M245.1 423.9h0M219.0 432.9h0M228.5 427.4h0M169.7 401.1h0M182.4 412.4h0M166.2 421.0h0M175.0 427.6h0M176.1 415.7h0M170.2 413.9h0" stroke="#111" stroke-width="1.05" stroke-linecap="square" fill="none" opacity="0.88"/>
</g>
<rect x="158.50" y="376.50" width="97.00" height="90.00" fill="none" stroke="#111" stroke-width="1.15"/>
<line x1="186.50" y1="376.50" x2="186.50" y2="466.50" stroke="#111" stroke-width="1.15"/>
<line x1="158.50" y1="439.50" x2="255.50" y2="439.50" stroke="#111" stroke-width="1.15"/>
<path d="M158.50 466.50v3.2M158.50 466.50h-3.2M165.80 466.50v1.8M158.50 459.73h-1.8M170.07 466.50v1.8M158.50 455.76h-1.8M173.10 466.50v1.8M158.50 452.95h-1.8M175.45 466.50v1.8M158.50 450.77h-1.8M177.37 466.50v1.8M158.50 448.99h-1.8M178.99 466.50v1.8M158.50 447.49h-1.8M180.40 466.50v1.8M158.50 446.18h-1.8M181.64 466.50v1.8M158.50 445.03h-1.8M182.75 466.50v3.2M158.50 444.00h-3.2M190.05 466.50v1.8M158.50 437.23h-1.8M194.32 466.50v1.8M158.50 433.26h-1.8M197.35 466.50v1.8M158.50 430.45h-1.8M199.70 466.50v1.8M158.50 428.27h-1.8M201.62 466.50v1.8M158.50 426.49h-1.8M203.24 466.50v1.8M158.50 424.99h-1.8M204.65 466.50v1.8M158.50 423.68h-1.8M205.89 466.50v1.8M158.50 422.53h-1.8M207.00 466.50v3.2M158.50 421.50h-3.2M214.30 466.50v1.8M158.50 414.73h-1.8M218.57 466.50v1.8M158.50 410.76h-1.8M221.60 466.50v1.8M158.50 407.95h-1.8M223.95 466.50v1.8M158.50 405.77h-1.8M225.87 466.50v1.8M158.50 403.99h-1.8M227.49 466.50v1.8M158.50 402.49h-1.8M228.90 466.50v1.8M158.50 401.18h-1.8M230.14 466.50v1.8M158.50 400.03h-1.8M231.25 466.50v3.2M158.50 399.00h-3.2M238.55 466.50v1.8M158.50 392.23h-1.8M242.82 466.50v1.8M158.50 388.26h-1.8M245.85 466.50v1.8M158.50 385.45h-1.8M248.20 466.50v1.8M158.50 383.27h-1.8M250.12 466.50v1.8M158.50 381.49h-1.8M251.74 466.50v1.8M158.50 379.99h-1.8M253.15 466.50v1.8M158.50 378.68h-1.8M254.39 466.50v1.8M158.50 377.53h-1.8M255.50 466.50v3.2M158.50 376.50h-3.2" stroke="#111" stroke-width="0.9" fill="none"/>
<text transform="translate(153.50 481.30) scale(0.88 1)" font-family="Liberation Sans, Arial, sans-serif" font-size="9.0" font-weight="normal" text-anchor="start" fill="#222"  stroke="#222" stroke-width="0.25">10</text>
<text transform="translate(162.10 475.70) scale(0.88 1)" font-family="Liberation Sans, Arial, sans-serif" font-size="7.4" font-weight="normal" text-anchor="start" fill="#222"  stroke="#222" stroke-width="0.25">0</text>
<text transform="translate(152.60 473.40) rotate(-90) scale(0.88 1)" font-family="Liberation Sans, Arial, sans-serif" font-size="9.0" font-weight="normal" text-anchor="start" fill="#222">10</text>
<text transform="translate(148.20 463.30) rotate(-90) scale(0.88 1)" font-family="Liberation Sans, Arial, sans-serif" font-size="7.4" font-weight="normal" text-anchor="start" fill="#222">0</text>
<text transform="translate(177.75 481.30) scale(0.88 1)" font-family="Liberation Sans, Arial, sans-serif" font-size="9.0" font-weight="normal" text-anchor="start" fill="#222"  stroke="#222" stroke-width="0.25">10</text>
<text transform="translate(186.35 475.70) scale(0.88 1)" font-family="Liberation Sans, Arial, sans-serif" font-size="7.4" font-weight="normal" text-anchor="start" fill="#222"  stroke="#222" stroke-width="0.25">1</text>
<text transform="translate(152.60 450.90) rotate(-90) scale(0.88 1)" font-family="Liberation Sans, Arial, sans-serif" font-size="9.0" font-weight="normal" text-anchor="start" fill="#222">10</text>
<text transform="translate(148.20 440.80) rotate(-90) scale(0.88 1)" font-family="Liberation Sans, Arial, sans-serif" font-size="7.4" font-weight="normal" text-anchor="start" fill="#222">1</text>
<text transform="translate(202.00 481.30) scale(0.88 1)" font-family="Liberation Sans, Arial, sans-serif" font-size="9.0" font-weight="normal" text-anchor="start" fill="#222"  stroke="#222" stroke-width="0.25">10</text>
<text transform="translate(210.60 475.70) scale(0.88 1)" font-family="Liberation Sans, Arial, sans-serif" font-size="7.4" font-weight="normal" text-anchor="start" fill="#222"  stroke="#222" stroke-width="0.25">2</text>
<text transform="translate(152.60 428.40) rotate(-90) scale(0.88 1)" font-family="Liberation Sans, Arial, sans-serif" font-size="9.0" font-weight="normal" text-anchor="start" fill="#222">10</text>
<text transform="translate(148.20 418.30) rotate(-90) scale(0.88 1)" font-family="Liberation Sans, Arial, sans-serif" font-size="7.4" font-weight="normal" text-anchor="start" fill="#222">2</text>
<text transform="translate(226.25 481.30) scale(0.88 1)" font-family="Liberation Sans, Arial, sans-serif" font-size="9.0" font-weight="normal" text-anchor="start" fill="#222"  stroke="#222" stroke-width="0.25">10</text>
<text transform="translate(234.85 475.70) scale(0.88 1)" font-family="Liberation Sans, Arial, sans-serif" font-size="7.4" font-weight="normal" text-anchor="start" fill="#222"  stroke="#222" stroke-width="0.25">3</text>
<text transform="translate(152.60 405.90) rotate(-90) scale(0.88 1)" font-family="Liberation Sans, Arial, sans-serif" font-size="9.0" font-weight="normal" text-anchor="start" fill="#222">10</text>
<text transform="translate(148.20 395.80) rotate(-90) scale(0.88 1)" font-family="Liberation Sans, Arial, sans-serif" font-size="7.4" font-weight="normal" text-anchor="start" fill="#222">3</text>
<text transform="translate(250.50 481.30) scale(0.88 1)" font-family="Liberation Sans, Arial, sans-serif" font-size="9.0" font-weight="normal" text-anchor="start" fill="#222"  stroke="#222" stroke-width="0.25">10</text>
<text transform="translate(259.10 475.70) scale(0.88 1)" font-family="Liberation Sans, Arial, sans-serif" font-size="7.4" font-weight="normal" text-anchor="start" fill="#222"  stroke="#222" stroke-width="0.25">4</text>
<text transform="translate(152.60 383.40) rotate(-90) scale(0.88 1)" font-family="Liberation Sans, Arial, sans-serif" font-size="9.0" font-weight="normal" text-anchor="start" fill="#222">10</text>
<text transform="translate(148.20 373.30) rotate(-90) scale(0.88 1)" font-family="Liberation Sans, Arial, sans-serif" font-size="7.4" font-weight="normal" text-anchor="start" fill="#222">4</text>
<text transform="translate(142.20 439.00) rotate(-90) scale(0.98 1)" font-family="Liberation Sans, Arial, sans-serif" font-size="8.2" font-weight="normal" text-anchor="start" fill="#222">TOPRO</text>
<text transform="translate(206.10 489.90) scale(0.95 1)" font-family="Liberation Sans, Arial, sans-serif" font-size="8.0" font-weight="normal" text-anchor="middle" fill="#222"  stroke="#222" stroke-width="0.25">AnnexinFITC</text>
<text x="250.20" y="390.20" font-family="Liberation Sans, Arial, sans-serif" font-size="8.2" font-weight="normal" text-anchor="end" fill="#333" >2%</text>
<text x="250.20" y="456.45" font-family="Liberation Sans, Arial, sans-serif" font-size="8.2" font-weight="normal" text-anchor="end" fill="#333" >2%</text>
<clipPath id="c432"><rect x="287.5" y="377.5" width="97" height="90"/></clipPath><g clip-path="url(#c432)">
<path d="M311.4 448.3L311.2 449.4L312.3 450.8L312.0 452.1L310.9 453.0L311.2 454.7L308.2 453.9L309.0 456.3L307.2 456.0L306.4 457.1L305.2 457.6L303.9 457.6L302.6 458.1L301.3 458.5L299.7 459.7L298.8 457.8L297.3 457.8L296.1 457.2L295.8 455.5L294.1 455.4L293.8 454.0L292.3 453.4L292.6 451.8L291.1 451.0L292.2 449.5L291.9 448.3L291.0 447.0L291.1 445.6L291.7 444.4L291.5 442.8L292.9 442.0L294.4 441.5L294.9 440.1L296.7 440.4L297.3 438.8L298.7 438.6L300.1 438.6L301.4 438.8L302.7 437.6L303.7 439.9L305.2 438.9L306.0 440.2L307.5 440.1L308.5 440.8L309.2 441.9L310.1 442.7L311.4 443.4L313.1 444.1L313.4 445.5L312.3 447.1Z" fill="#050505" filter="url(#bl)"/>
<path d="M292.8 455.5h0M305.5 437.2h0M300.6 460.8h0M302.9 438.2h0M296.1 457.8h0M312.6 453.0h0M291.6 453.9h0M293.8 443.5h0M297.8 457.2h0M308.1 455.0h0M296.1 441.7h0M311.0 443.5h0M298.1 456.1h0M300.4 457.5h0M308.2 455.1h0M316.6 445.1h0M315.2 440.6h0M297.2 433.4h0M295.7 441.1h0M307.4 457.5h0M316.7 445.1h0M311.8 446.7h0M289.0 420.0h0M299.7 436.0h0M309.2 441.0h0M308.8 441.8h0M306.5 439.9h0M304.7 460.1h0M304.9 438.3h0M292.8 449.9h0M308.1 439.4h0M295.9 437.8h0M314.1 450.3h0M307.4 441.5h0M314.7 452.0h0M301.2 458.2h0M310.2 444.6h0M293.3 448.6h0M311.2 439.3h0M290.7 452.8h0M309.2 457.9h0M306.2 438.0h0M311.2 450.2h0M295.3 438.0h0M290.7 448.8h0M291.8 451.1h0M300.0 456.8h0M309.2 441.1h0M297.9 456.4h0M296.6 456.7h0M307.5 456.3h0M296.3 455.8h0M296.2 454.5h0M309.1 442.3h0M301.8 433.7h0M295.0 454.5h0M295.2 435.3h0M291.2 446.1h0M309.4 454.0h0M291.4 451.3h0M293.4 455.8h0M306.9 440.8h0M293.3 446.9h0M297.5 457.4h0M306.3 440.7h0M305.5 438.2h0M305.9 440.8h0M293.1 447.4h0M303.7 437.7h0M304.3 466.5h0M309.8 442.7h0M304.5 459.5h0M295.0 458.9h0M299.7 460.5h0M295.6 456.4h0M297.7 457.8h0M311.0 451.6h0M295.5 456.4h0M305.3 439.1h0M310.6 445.8h0M301.0 439.0h0M304.2 457.1h0M294.9 455.2h0M289.8 449.0h0M304.6 439.3h0M303.3 438.2h0M314.4 450.9h0M310.2 441.4h0M288.7 447.8h0M312.5 447.0h0M311.7 451.6h0M304.9 457.5h0M294.6 443.1h0M311.3 452.2h0M297.6 439.4h0M311.5 427.7h0M311.4 446.8h0M291.9 451.5h0M305.0 462.4h0M303.8 432.9h0M294.3 454.7h0M293.2 447.2h0M301.4 458.8h0M309.8 444.6h0M296.8 456.7h0M294.1 453.1h0M306.5 456.3h0M310.8 451.4h0M314.4 453.3h0M295.8 440.6h0M297.1 457.9h0M295.0 458.5h0M307.2 441.1h0M292.4 447.3h0M311.2 447.4h0M310.9 450.4h0M312.1 444.6h0M301.0 438.7h0M299.2 439.2h0M291.1 446.6h0M306.2 434.4h0M293.8 439.1h0M306.8 455.7h0M309.5 443.9h0M293.0 450.5h0M292.9 445.8h0M309.3 443.6h0M309.2 434.9h0M291.7 454.9h0M295.2 442.4h0M293.1 447.2h0M298.8 456.1h0M307.8 460.0h0M288.8 447.6h0M292.8 450.6h0M292.4 448.9h0M310.6 447.0h0M304.9 456.6h0M292.3 447.8h0M309.8 455.4h0M309.7 441.6h0M296.6 456.6h0M302.2 456.6h0M298.8 457.0h0M303.6 439.1h0M308.3 442.3h0M298.5 456.2h0M304.1 439.9h0M292.6 444.5h0M301.0 438.5h0M298.3 462.6h0M293.0 449.2h0M292.1 445.6h0M309.2 453.0h0M290.5 448.5h0M295.0 456.4h0M301.3 459.3h0M304.9 438.8h0M310.6 443.8h0M295.8 454.0h0M293.5 456.3h0M303.4 439.0h0M291.9 451.8h0M311.7 451.6h0M307.1 441.3h0M311.0 452.9h0M294.5 442.4h0M289.1 455.4h0M319.8 447.6h0M306.5 456.3h0M300.7 461.7h0M294.2 441.6h0M312.5 454.4h0M311.1 447.0h0M299.8 456.3h0M307.1 441.0h0M308.5 459.4h0M297.5 439.8h0M302.8 463.4h0M295.6 457.6h0M295.8 441.1h0M311.7 446.7h0M301.5 457.1h0M311.7 450.4h0M312.5 443.6h0M296.6 455.7h0M306.2 437.0h0M298.5 456.5h0M301.0 460.1h0M290.9 449.8h0M296.6 437.8h0M293.6 446.2h0M297.2 440.8h0M308.5 440.3h0M297.7 438.4h0M309.5 438.7h0M313.0 442.3h0M301.7 459.5h0M294.9 457.3h0M292.1 444.8h0M309.6 453.1h0M308.1 454.4h0M311.6 438.3h0M296.1 456.0h0M291.8 443.5h0M316.5 456.5h0M310.7 449.9h0M300.4 439.4h0M295.3 440.6h0M291.8 449.5h0M305.9 439.7h0M303.0 438.2h0M308.6 442.7h0M299.5 456.2h0M312.2 450.1h0M293.3 450.7h0M307.1 455.5h0M310.1 442.0h0M292.9 453.3h0M292.7 452.2h0M318.2 456.0h0M292.0 442.7h0M309.2 443.3h0M310.5 451.5h0M306.4 455.9h0M292.1 455.8h0M292.3 442.3h0M288.8 448.4h0M308.5 442.5h0M294.8 435.1h0M306.4 439.3h0M295.0 453.4h0M300.8 456.6h0M312.9 453.2h0M292.3 448.1h0M299.7 439.5h0M309.9 443.8h0M304.9 456.6h0M315.0 444.6h0M306.4 461.7h0M313.1 450.6h0M293.1 450.5h0M294.4 443.3h0M290.4 446.5h0M289.7 454.6h0M309.1 443.0h0M304.1 456.3h0M296.7 455.0h0M299.1 456.3h0M292.8 449.4h0M313.0 443.1h0M295.6 456.1h0M309.5 452.5h0M305.7 440.7h0M295.8 454.8h0M304.3 456.8h0M304.8 462.2h0M302.7 458.8h0M303.0 462.4h0M310.1 442.3h0M312.9 444.6h0M310.2 442.4h0M309.7 452.3h0M310.6 435.4h0M290.1 454.7h0M309.9 443.3h0M302.7 436.8h0M297.5 440.6h0M311.0 451.2h0M300.8 458.1h0M296.1 455.7h0M298.5 456.1h0M299.9 458.7h0M299.3 461.2h0M308.9 441.4h0M298.8 458.4h0M311.6 440.6h0M304.2 456.8h0M316.5 452.7h0M300.2 457.4h0M303.0 439.4h0M300.5 440.2h0M294.8 452.9h0M306.0 440.2h0M306.6 437.9h0M309.2 454.1h0M305.1 438.0h0M294.2 452.4h0M306.7 456.3h0M291.0 448.8h0M309.7 440.4h0M292.3 444.9h0M295.4 442.9h0M312.0 451.0h0M290.0 453.7h0M303.1 457.4h0M301.9 458.8h0M304.9 440.3h0M293.5 455.4h0M301.1 436.9h0M307.9 457.8h0M289.0 452.2h0M306.3 459.8h0M311.3 443.1h0M306.6 456.3h0M292.8 457.8h0M306.6 456.6h0M295.0 455.5h0M300.8 440.1h0M302.9 456.6h0M291.0 448.8h0M304.6 437.5h0M312.4 464.4h0M311.1 449.2h0M294.5 440.6h0M293.3 455.1h0M293.0 451.0h0M298.1 457.0h0M310.9 455.2h0M307.2 457.1h0M313.2 443.1h0M305.7 440.4h0M304.9 440.6h0M303.4 457.1h0M294.2 433.0h0M304.4 457.8h0M299.3 459.0h0M316.1 449.2h0M299.2 456.5h0M307.3 438.5h0M305.2 435.8h0M292.5 451.0h0M304.7 438.9h0M302.4 458.6h0M291.0 452.6h0M310.5 439.9h0M311.5 452.5h0M293.8 451.0h0M299.9 456.3h0M299.5 439.9h0M307.8 459.6h0M300.7 459.0h0M296.4 439.4h0M310.1 452.4h0M306.3 440.0h0M298.8 457.5h0M313.2 450.7h0M304.4 432.8h0M297.5 458.2h0M314.2 443.5h0M289.0 451.9h0M291.8 445.6h0M293.9 444.3h0M294.1 454.4h0M304.4 438.6h0M292.5 461.5h0M310.0 452.4h0M291.8 461.9h0M292.4 450.2h0M306.1 440.4h0M304.7 440.3h0M289.5 440.3h0M294.6 443.0h0M304.9 459.8h0M300.5 462.3h0M294.0 451.9h0M300.5 437.2h0M297.9 441.1h0M295.0 455.3h0M309.6 444.0h0M293.3 452.1h0M295.0 441.5h0M297.8 457.1h0M293.6 446.1h0M298.0 456.3h0M300.4 457.3h0M300.4 457.4h0M298.3 440.3h0M310.4 445.8h0M298.8 458.9h0M296.6 440.9h0M299.6 459.0h0M293.2 456.6h0M309.5 443.6h0M297.7 440.5h0M289.3 443.0h0M293.1 438.7h0M297.0 455.9h0M292.7 445.9h0M292.8 447.0h0M304.8 458.2h0M309.0 454.0h0M311.5 454.1h0M307.1 455.7h0M308.4 440.6h0M292.7 450.2h0M290.0 447.1h0M296.3 454.9h0M306.6 458.2h0M289.5 450.2h0M304.1 459.1h0M294.8 454.0h0M300.1 439.4h0M303.8 457.7h0M294.1 452.1h0M311.7 447.4h0M296.2 454.8h0M307.5 455.2h0M311.4 452.6h0M294.1 438.5h0M301.1 460.1h0M301.9 440.0h0M305.0 456.5h0M310.1 440.2h0M310.5 451.7h0M307.7 457.1h0M289.0 454.6h0M306.9 440.7h0M300.6 457.9h0M291.8 454.8h0M306.7 460.1h0M293.7 443.4h0M311.4 446.4h0M304.1 433.0h0M316.1 437.5h0M290.7 452.3h0M306.8 440.5h0M288.7 452.3h0M303.9 439.5h0M303.3 439.9h0M293.7 454.6h0M299.0 456.0h0M292.3 443.7h0M297.3 441.0h0M309.9 451.9h0M293.6 446.0h0M304.9 457.6h0M294.0 455.8h0M308.9 455.6h0M294.0 452.4h0M314.5 440.7h0M311.0 446.3h0M313.2 450.0h0M309.8 443.0h0M298.4 459.6h0M291.9 445.0h0M299.5 438.8h0M306.5 439.3h0M301.4 440.1h0M289.5 449.8h0M290.7 449.2h0M288.5 445.6h0M310.3 452.4h0M308.7 459.3h0M311.0 446.9h0M299.9 456.9h0M293.0 441.6h0M301.6 460.4h0M292.3 451.2h0M295.4 455.5h0M310.5 450.0h0M311.2 446.5h0M291.6 461.7h0M298.7 456.1h0M308.7 441.5h0M296.4 441.1h0M308.4 454.5h0M303.1 438.4h0M296.0 438.8h0M291.9 443.6h0M305.2 456.4h0M290.1 453.0h0M304.0 459.7h0M307.4 438.5h0M308.9 453.7h0M305.3 440.1h0M312.5 449.8h0M297.9 437.0h0M299.6 438.4h0M292.6 459.0h0M300.9 457.8h0M310.1 454.8h0M298.0 439.3h0M295.9 454.2h0M296.2 442.1h0M302.6 438.0h0M309.2 440.2h0M302.7 439.4h0M311.9 444.6h0M292.7 445.5h0M308.0 439.6h0M291.8 444.9h0M306.2 430.6h0M307.2 462.8h0M299.9 457.5h0M300.8 436.5h0M296.8 455.9h0M292.1 446.5h0M294.3 453.5h0M316.8 449.3h0M293.6 459.3h0M295.8 442.3h0M306.2 456.6h0M304.9 456.3h0M303.0 438.7h0M307.9 456.3h0M296.6 437.3h0M293.6 451.8h0M312.4 450.7h0M289.5 444.9h0M302.1 456.6h0M290.8 446.3h0M302.9 457.2h0M306.9 459.7h0M293.7 444.3h0M296.1 455.1h0M314.6 450.0h0M303.1 439.3h0M293.8 460.0h0M301.0 459.1h0M310.2 443.8h0M304.0 439.5h0M310.9 447.2h0M307.2 457.9h0M296.4 456.2h0M307.6 441.6h0M303.7 458.5h0M303.0 457.8h0M304.2 458.5h0M297.1 441.4h0M305.6 434.4h0M298.2 459.3h0M297.0 460.7h0M313.0 445.3h0M293.9 453.2h0M307.4 460.1h0M312.4 443.8h0M310.3 443.8h0M310.8 453.1h0M312.7 448.2h0M307.7 439.3h0M293.4 453.4h0M302.5 457.6h0M316.0 444.8h0M293.3 441.2h0M297.1 457.7h0M309.2 443.5h0M310.9 447.0h0M310.3 450.6h0M292.3 454.6h0M302.8 462.8h0M302.9 439.8h0M303.7 439.7h0M299.9 440.2h0M305.0 439.6h0M298.7 440.6h0M292.3 448.3h0M308.0 455.8h0M310.6 446.9h0M311.3 446.1h0M306.2 437.1h0M292.6 443.2h0M311.8 446.5h0M305.6 439.3h0M292.3 466.6h0M312.0 459.8h0M301.6 439.7h0M308.7 443.0h0M298.9 433.2h0M303.2 434.6h0M298.2 437.8h0M314.3 440.6h0M295.9 454.7h0M295.6 454.1h0M310.2 443.0h0M310.8 447.1h0M291.6 451.0h0M294.1 456.3h0M301.2 456.5h0M309.9 441.9h0M296.4 458.6h0M309.5 453.7h0M288.9 448.8h0M293.4 443.4h0M291.6 438.2h0M295.6 454.4h0M293.3 446.3h0M302.4 458.9h0M293.4 451.0h0M318.9 448.5h0M308.0 439.6h0M292.6 444.8h0M321.0 444.7h0M312.4 444.9h0M294.0 436.7h0M303.2 457.9h0M293.3 444.5h0M293.0 442.9h0M310.9 443.9h0M293.3 453.8h0M310.7 448.4h0M315.3 450.6h0M310.0 439.9h0M301.3 458.6h0M308.1 456.3h0M290.9 446.6h0M312.6 457.9h0M288.5 436.2h0M311.7 454.4h0M310.4 430.8h0M302.8 457.3h0M310.9 441.5h0M310.2 454.9h0M298.3 459.5h0M311.1 455.1h0M294.7 453.3h0M301.7 460.0h0M317.5 443.2h0M315.1 451.5h0M295.2 441.7h0M313.2 451.0h0M293.1 446.3h0M293.4 446.5h0M314.1 444.0h0M299.9 429.3h0M306.4 457.0h0M315.4 444.6h0M296.4 441.8h0M291.5 448.6h0M292.9 446.2h0M303.7 457.2h0M302.3 463.7h0M306.5 455.9h0M310.9 447.4h0M311.6 450.2h0M291.6 444.6h0M311.7 438.2h0M314.3 449.4h0M304.1 458.4h0M306.0 440.7h0M288.7 444.6h0M292.8 453.9h0M303.0 439.2h0M310.8 455.1h0M316.5 450.3h0M291.6 449.5h0M308.5 456.0h0M291.7 452.2h0M309.8 453.2h0M290.4 445.4h0M297.4 441.3h0M311.1 444.9h0M290.1 435.1h0M307.0 440.4h0M301.6 458.1h0M293.1 448.3h0M292.1 440.5h0M306.7 457.6h0M293.1 446.2h0M307.6 441.6h0M303.7 440.1h0M309.2 442.6h0M298.3 438.3h0M296.5 438.1h0M300.7 457.7h0M292.4 442.3h0M293.9 453.3h0M295.8 442.3h0M292.5 446.0h0M298.2 440.0h0M312.7 452.0h0M298.3 455.9h0M316.9 452.3h0M293.0 448.1h0M311.7 452.2h0M294.0 451.6h0M292.1 445.7h0M294.2 444.2h0M312.9 448.7h0M312.3 448.4h0M291.8 456.4h0M293.2 446.7h0M309.7 457.8h0M303.3 458.4h0M296.4 455.5h0M294.7 456.0h0M295.9 455.3h0M293.8 457.9h0M313.8 446.6h0M302.7 439.1h0M300.5 437.7h0M311.2 447.6h0M312.3 448.4h0M299.5 439.6h0M311.0 446.8h0M293.8 438.6h0M311.7 447.4h0M300.9 439.8h0M293.1 448.3h0M303.7 438.6h0M318.0 454.0h0M289.0 448.8h0M311.3 443.3h0M291.6 452.3h0M292.9 448.4h0M313.9 448.4h0M312.0 442.8h0M289.4 445.8h0M297.4 456.1h0M305.0 435.7h0M292.3 444.8h0M294.7 442.2h0M294.2 452.1h0M291.5 442.1h0M295.1 457.0h0M300.7 437.6h0M306.6 456.7h0M291.2 440.5h0M310.8 449.4h0M306.3 459.2h0M307.7 456.5h0M298.3 458.5h0M293.6 452.3h0M288.5 445.7h0M308.8 440.8h0M298.9 434.8h0M299.2 438.3h0M303.1 439.9h0M293.6 444.5h0M293.2 448.3h0M299.7 457.9h0M308.9 432.9h0M312.7 446.7h0M305.6 439.7h0M308.9 454.5h0M297.3 439.3h0M309.0 454.0h0M296.1 435.0h0M292.3 451.6h0M311.3 441.5h0M297.2 439.5h0M305.9 440.0h0M313.8 452.2h0M298.2 440.7h0M311.4 444.8h0M293.5 450.5h0M309.4 457.8h0M299.2 438.6h0M292.5 446.6h0M306.2 432.2h0M326.7 447.7h0M323.5 442.0h0M322.8 444.9h0M315.4 448.3h0M331.0 447.1h0M326.2 449.5h0M322.3 445.2h0M332.7 444.6h0M320.0 447.5h0M319.1 443.6h0M329.9 446.4h0M317.2 444.7h0M326.3 449.0h0M323.6 450.0h0M322.1 451.3h0M328.6 443.0h0M321.5 447.5h0M322.1 443.5h0M325.5 446.3h0M311.7 442.6h0M319.4 449.3h0M321.9 447.0h0M328.9 445.8h0M322.3 446.2h0M328.6 444.5h0M324.9 444.3h0M322.8 449.8h0M316.7 447.9h0M322.8 447.2h0M325.9 446.7h0M325.7 452.0h0M317.4 443.2h0M327.5 447.7h0M336.2 444.6h0M327.3 444.8h0M318.9 444.7h0M316.6 443.6h0M320.0 446.0h0M322.6 448.9h0M316.0 446.2h0M316.2 449.0h0M315.9 445.4h0M316.8 449.7h0M313.9 443.0h0M319.6 445.4h0M315.9 449.9h0M318.5 440.1h0M320.9 442.5h0M317.7 445.0h0M316.0 445.2h0M319.5 448.3h0M339.6 444.4h0M319.1 449.9h0M334.0 448.8h0M320.5 452.3h0M322.9 450.1h0M318.5 442.7h0M331.5 443.8h0M315.1 446.9h0M315.9 448.5h0M322.8 445.8h0M318.4 450.9h0M331.7 449.9h0M313.3 451.5h0M323.0 451.6h0M325.9 444.4h0M310.9 444.4h0M330.5 445.1h0M333.6 442.6h0M326.7 446.1h0M312.7 447.6h0M319.5 445.6h0M308.0 443.4h0M317.7 446.0h0M316.6 452.6h0M319.4 447.1h0M320.0 450.3h0M326.2 449.5h0M311.7 447.0h0M321.2 448.4h0M317.7 446.9h0M315.5 445.4h0M324.7 445.0h0M316.4 446.1h0M324.4 447.7h0M314.1 445.2h0M314.2 443.4h0M338.5 450.1h0M327.0 445.6h0M328.1 451.2h0M330.6 448.7h0M315.4 453.7h0M327.4 449.1h0M324.6 447.6h0M319.4 441.3h0M334.4 454.3h0M325.4 448.5h0M322.0 448.8h0M321.1 446.2h0M326.4 441.3h0M331.7 445.3h0M325.9 448.3h0M333.1 451.6h0M313.2 443.6h0M323.3 441.5h0M326.4 446.1h0M316.7 449.0h0M315.7 444.2h0M322.0 449.1h0M320.7 445.4h0M323.4 445.4h0M309.3 449.3h0M325.4 449.8h0M322.9 447.9h0M310.6 442.3h0M308.8 450.1h0M317.2 450.5h0M325.0 445.1h0M321.3 444.1h0M318.9 447.5h0M303.3 460.8h0M292.2 464.9h0M294.5 463.8h0M292.5 459.7h0M290.1 463.6h0M302.1 466.7h0M309.1 462.3h0M289.8 461.4h0M301.2 462.9h0M300.7 459.4h0M298.4 465.6h0M297.2 461.0h0M294.0 460.4h0M305.8 462.9h0M297.4 461.1h0M303.9 460.5h0M295.9 461.2h0M289.5 464.9h0M295.9 463.9h0M299.8 464.6h0M297.2 465.3h0M302.6 461.5h0M301.4 456.7h0M294.2 456.8h0M298.5 464.4h0M301.5 458.3h0M292.2 462.9h0M302.9 461.5h0M307.0 462.6h0M309.8 464.1h0M310.0 455.3h0M303.6 464.0h0M307.2 463.5h0M301.8 462.8h0M300.8 463.4h0M307.8 457.9h0M297.6 458.3h0M296.9 462.7h0M300.7 463.0h0M303.4 463.1h0M298.2 461.7h0M294.6 460.9h0M299.3 463.0h0M292.0 464.8h0M299.4 458.1h0M299.0 463.5h0M300.3 461.0h0M295.4 462.6h0M300.6 462.8h0M297.9 465.1h0M290.8 462.0h0M291.7 457.1h0M300.7 464.1h0M298.3 463.1h0M298.9 464.9h0M296.8 463.3h0M301.4 458.0h0M305.5 460.5h0M294.1 460.3h0M304.0 461.0h0M303.6 459.6h0M301.0 457.7h0M298.3 465.2h0M297.1 462.4h0M290.8 466.2h0M298.6 463.1h0M297.8 459.4h0M298.0 461.2h0M294.6 461.6h0M294.9 460.8h0M340.0 440.8h0M321.0 465.0h0M329.6 463.3h0M319.3 447.0h0M357.9 466.2h0M323.1 460.9h0M331.0 440.7h0M320.1 456.3h0M338.5 461.2h0M329.0 448.1h0M347.7 445.8h0M348.8 457.7h0M321.6 465.9h0M346.7 445.8h0M349.0 450.8h0M332.3 465.2h0M334.3 463.5h0M327.2 446.6h0M341.9 443.3h0M359.7 447.7h0M365.1 462.4h0M351.5 450.0h0M339.8 463.2h0M337.0 443.0h0M349.8 442.3h0M354.1 464.7h0M331.9 444.5h0M350.2 453.7h0M334.6 456.2h0M330.4 457.2h0M335.5 451.1h0M322.1 462.0h0M344.5 451.5h0M336.5 452.9h0M329.8 440.6h0M327.3 452.6h0M327.3 450.8h0M327.6 455.4h0M319.6 457.6h0M334.6 450.4h0M353.6 465.1h0M328.3 460.1h0M335.0 442.9h0M364.7 447.6h0M365.1 453.4h0M343.8 462.9h0M350.4 459.5h0M340.0 460.4h0M337.7 456.1h0M361.0 452.8h0M353.2 459.7h0M337.3 452.7h0M327.8 455.7h0M319.2 462.5h0M328.7 448.8h0M341.6 447.9h0M320.4 460.7h0M364.5 462.8h0M322.7 452.0h0M335.0 443.8h0M359.4 451.3h0M334.4 454.9h0M369.0 463.5h0M336.1 446.6h0M347.0 463.9h0M356.3 442.4h0M351.8 461.9h0M362.3 462.7h0M319.1 448.2h0M348.3 446.2h0M338.6 464.6h0M319.4 449.7h0M352.8 457.4h0M353.0 456.6h0M334.7 448.6h0M348.1 449.6h0M321.7 448.5h0M354.1 446.9h0M344.5 451.0h0M325.2 440.6h0M367.8 459.7h0M346.1 446.9h0M335.6 458.9h0M329.7 462.3h0M355.7 453.0h0M369.9 460.9h0M368.6 449.6h0M339.8 463.6h0M319.9 453.5h0M321.2 450.0h0M324.8 442.5h0M345.5 465.1h0M359.7 448.7h0M324.1 456.7h0M347.3 443.3h0M331.9 445.5h0M365.5 441.7h0M343.8 445.1h0M320.1 447.9h0M359.1 457.4h0M358.9 457.3h0M357.8 457.8h0M340.1 450.3h0M321.1 464.2h0M329.5 455.2h0M345.0 441.5h0M365.6 463.1h0M349.4 463.4h0M319.9 463.8h0M362.2 448.0h0M338.1 451.4h0M344.2 463.7h0M335.8 442.9h0M319.3 448.0h0M320.0 452.5h0M322.8 464.4h0M319.8 455.3h0M367.9 462.6h0M334.0 458.5h0M330.3 460.7h0M331.7 441.0h0M321.7 444.9h0M355.1 454.5h0M348.3 452.1h0M369.2 465.0h0M352.6 445.1h0M345.9 441.2h0M319.7 450.5h0M351.8 464.5h0M339.0 445.2h0M347.0 456.5h0M356.7 442.7h0M324.6 459.9h0M356.9 446.8h0M333.4 440.7h0M368.2 451.0h0M331.0 464.1h0M319.1 456.2h0M333.5 464.2h0M324.4 444.0h0M351.8 457.1h0M320.8 442.3h0M362.8 446.6h0M347.8 448.7h0M326.2 451.9h0M319.0 458.1h0M323.1 463.5h0M350.4 454.9h0M328.1 446.1h0M345.1 448.9h0M364.8 435.7h0M358.2 414.4h0M327.1 431.8h0M354.5 434.3h0M326.0 431.1h0M366.2 425.3h0M362.6 436.8h0M358.0 437.6h0M337.0 420.9h0M371.0 426.8h0M335.3 433.4h0M361.1 432.3h0M354.5 430.3h0M363.3 436.6h0M351.0 418.6h0M360.9 418.6h0M341.1 437.6h0M343.8 430.6h0M355.3 430.8h0M371.5 427.6h0M354.5 419.8h0M332.0 435.0h0M344.6 435.9h0M362.9 434.1h0M354.6 420.8h0M342.3 426.2h0M360.1 427.6h0M363.2 427.1h0M344.9 439.3h0M358.9 436.5h0M355.7 437.8h0M369.0 437.5h0M362.0 425.6h0M353.7 425.4h0M356.0 434.8h0M341.0 427.2h0M342.8 435.6h0M349.3 409.8h0M370.4 433.8h0M335.6 435.4h0M360.2 417.1h0M352.2 433.8h0M368.9 423.3h0M352.6 433.4h0M343.5 432.7h0M343.9 432.2h0M355.1 414.9h0M366.3 427.2h0M370.1 438.8h0M342.9 427.2h0M346.5 427.7h0M363.3 428.9h0M372.0 436.9h0M364.1 438.4h0M345.6 415.9h0M353.7 430.8h0M361.0 404.3h0M346.4 434.6h0M347.4 430.0h0M357.1 438.6h0M339.7 428.9h0M359.2 435.5h0M337.0 432.8h0M350.2 424.7h0M362.3 430.0h0M345.8 413.4h0M348.0 431.9h0M351.4 423.1h0M355.2 434.1h0M359.5 412.5h0M347.5 436.2h0M326.9 431.7h0M349.9 436.0h0M331.2 432.3h0M356.2 422.0h0M350.6 433.3h0M355.7 439.3h0M327.7 433.5h0M352.3 439.3h0M370.0 438.9h0M346.5 430.7h0M355.2 427.6h0M360.4 434.4h0M355.0 424.3h0M355.8 439.0h0M339.3 431.4h0M357.8 411.7h0M371.4 438.2h0M349.6 438.1h0M358.8 431.9h0M332.5 428.0h0M357.0 425.3h0M341.6 417.6h0M364.2 428.8h0M345.6 436.5h0M340.4 430.5h0M367.3 402.9h0M343.5 438.6h0M370.4 438.9h0M367.3 433.4h0M364.0 413.0h0M364.9 412.1h0M365.8 411.2h0M366.7 410.3h0M367.6 409.4h0M368.5 408.5h0M369.4 407.6h0M370.3 406.7h0" stroke="#111" stroke-width="1.05" stroke-linecap="square" fill="none" opacity="0.88"/>
</g>
<rect x="287.50" y="377.50" width="97.00" height="90.00" fill="none" stroke="#111" stroke-width="1.15"/>
<line x1="316.50" y1="377.50" x2="316.50" y2="467.50" stroke="#111" stroke-width="1.15"/>
<line x1="287.50" y1="440.50" x2="384.50" y2="440.50" stroke="#111" stroke-width="1.15"/>
<path d="M287.50 467.50v3.2M287.50 467.50h-3.2M294.80 467.50v1.8M287.50 460.73h-1.8M299.07 467.50v1.8M287.50 456.76h-1.8M302.10 467.50v1.8M287.50 453.95h-1.8M304.45 467.50v1.8M287.50 451.77h-1.8M306.37 467.50v1.8M287.50 449.99h-1.8M307.99 467.50v1.8M287.50 448.49h-1.8M309.40 467.50v1.8M287.50 447.18h-1.8M310.64 467.50v1.8M287.50 446.03h-1.8M311.75 467.50v3.2M287.50 445.00h-3.2M319.05 467.50v1.8M287.50 438.23h-1.8M323.32 467.50v1.8M287.50 434.26h-1.8M326.35 467.50v1.8M287.50 431.45h-1.8M328.70 467.50v1.8M287.50 429.27h-1.8M330.62 467.50v1.8M287.50 427.49h-1.8M332.24 467.50v1.8M287.50 425.99h-1.8M333.65 467.50v1.8M287.50 424.68h-1.8M334.89 467.50v1.8M287.50 423.53h-1.8M336.00 467.50v3.2M287.50 422.50h-3.2M343.30 467.50v1.8M287.50 415.73h-1.8M347.57 467.50v1.8M287.50 411.76h-1.8M350.60 467.50v1.8M287.50 408.95h-1.8M352.95 467.50v1.8M287.50 406.77h-1.8M354.87 467.50v1.8M287.50 404.99h-1.8M356.49 467.50v1.8M287.50 403.49h-1.8M357.90 467.50v1.8M287.50 402.18h-1.8M359.14 467.50v1.8M287.50 401.03h-1.8M360.25 467.50v3.2M287.50 400.00h-3.2M367.55 467.50v1.8M287.50 393.23h-1.8M371.82 467.50v1.8M287.50 389.26h-1.8M374.85 467.50v1.8M287.50 386.45h-1.8M377.20 467.50v1.8M287.50 384.27h-1.8M379.12 467.50v1.8M287.50 382.49h-1.8M380.74 467.50v1.8M287.50 380.99h-1.8M382.15 467.50v1.8M287.50 379.68h-1.8M383.39 467.50v1.8M287.50 378.53h-1.8M384.50 467.50v3.2M287.50 377.50h-3.2" stroke="#111" stroke-width="0.9" fill="none"/>
<text transform="translate(282.50 482.30) scale(0.88 1)" font-family="Liberation Sans, Arial, sans-serif" font-size="9.0" font-weight="normal" text-anchor="start" fill="#222"  stroke="#222" stroke-width="0.25">10</text>
<text transform="translate(291.10 476.70) scale(0.88 1)" font-family="Liberation Sans, Arial, sans-serif" font-size="7.4" font-weight="normal" text-anchor="start" fill="#222"  stroke="#222" stroke-width="0.25">0</text>
<text transform="translate(281.60 474.40) rotate(-90) scale(0.88 1)" font-family="Liberation Sans, Arial, sans-serif" font-size="9.0" font-weight="normal" text-anchor="start" fill="#222">10</text>
<text transform="translate(277.20 464.30) rotate(-90) scale(0.88 1)" font-family="Liberation Sans, Arial, sans-serif" font-size="7.4" font-weight="normal" text-anchor="start" fill="#222">0</text>
<text transform="translate(306.75 482.30) scale(0.88 1)" font-family="Liberation Sans, Arial, sans-serif" font-size="9.0" font-weight="normal" text-anchor="start" fill="#222"  stroke="#222" stroke-width="0.25">10</text>
<text transform="translate(315.35 476.70) scale(0.88 1)" font-family="Liberation Sans, Arial, sans-serif" font-size="7.4" font-weight="normal" text-anchor="start" fill="#222"  stroke="#222" stroke-width="0.25">1</text>
<text transform="translate(281.60 451.90) rotate(-90) scale(0.88 1)" font-family="Liberation Sans, Arial, sans-serif" font-size="9.0" font-weight="normal" text-anchor="start" fill="#222">10</text>
<text transform="translate(277.20 441.80) rotate(-90) scale(0.88 1)" font-family="Liberation Sans, Arial, sans-serif" font-size="7.4" font-weight="normal" text-anchor="start" fill="#222">1</text>
<text transform="translate(331.00 482.30) scale(0.88 1)" font-family="Liberation Sans, Arial, sans-serif" font-size="9.0" font-weight="normal" text-anchor="start" fill="#222"  stroke="#222" stroke-width="0.25">10</text>
<text transform="translate(339.60 476.70) scale(0.88 1)" font-family="Liberation Sans, Arial, sans-serif" font-size="7.4" font-weight="normal" text-anchor="start" fill="#222"  stroke="#222" stroke-width="0.25">2</text>
<text transform="translate(281.60 429.40) rotate(-90) scale(0.88 1)" font-family="Liberation Sans, Arial, sans-serif" font-size="9.0" font-weight="normal" text-anchor="start" fill="#222">10</text>
<text transform="translate(277.20 419.30) rotate(-90) scale(0.88 1)" font-family="Liberation Sans, Arial, sans-serif" font-size="7.4" font-weight="normal" text-anchor="start" fill="#222">2</text>
<text transform="translate(355.25 482.30) scale(0.88 1)" font-family="Liberation Sans, Arial, sans-serif" font-size="9.0" font-weight="normal" text-anchor="start" fill="#222"  stroke="#222" stroke-width="0.25">10</text>
<text transform="translate(363.85 476.70) scale(0.88 1)" font-family="Liberation Sans, Arial, sans-serif" font-size="7.4" font-weight="normal" text-anchor="start" fill="#222"  stroke="#222" stroke-width="0.25">3</text>
<text transform="translate(281.60 406.90) rotate(-90) scale(0.88 1)" font-family="Liberation Sans, Arial, sans-serif" font-size="9.0" font-weight="normal" text-anchor="start" fill="#222">10</text>
<text transform="translate(277.20 396.80) rotate(-90) scale(0.88 1)" font-family="Liberation Sans, Arial, sans-serif" font-size="7.4" font-weight="normal" text-anchor="start" fill="#222">3</text>
<text transform="translate(379.50 482.30) scale(0.88 1)" font-family="Liberation Sans, Arial, sans-serif" font-size="9.0" font-weight="normal" text-anchor="start" fill="#222"  stroke="#222" stroke-width="0.25">10</text>
<text transform="translate(388.10 476.70) scale(0.88 1)" font-family="Liberation Sans, Arial, sans-serif" font-size="7.4" font-weight="normal" text-anchor="start" fill="#222"  stroke="#222" stroke-width="0.25">4</text>
<text transform="translate(281.60 384.40) rotate(-90) scale(0.88 1)" font-family="Liberation Sans, Arial, sans-serif" font-size="9.0" font-weight="normal" text-anchor="start" fill="#222">10</text>
<text transform="translate(277.20 374.30) rotate(-90) scale(0.88 1)" font-family="Liberation Sans, Arial, sans-serif" font-size="7.4" font-weight="normal" text-anchor="start" fill="#222">4</text>
<text transform="translate(271.20 440.00) rotate(-90) scale(0.98 1)" font-family="Liberation Sans, Arial, sans-serif" font-size="8.2" font-weight="normal" text-anchor="start" fill="#222">TOPRO</text>
<text transform="translate(335.10 490.90) scale(0.95 1)" font-family="Liberation Sans, Arial, sans-serif" font-size="8.0" font-weight="normal" text-anchor="middle" fill="#222"  stroke="#222" stroke-width="0.25">AnnexinFITC</text>
<text x="380.30" y="390.20" font-family="Liberation Sans, Arial, sans-serif" font-size="8.2" font-weight="normal" text-anchor="end" fill="#333" >2%</text>
<text x="380.30" y="456.95" font-family="Liberation Sans, Arial, sans-serif" font-size="8.2" font-weight="normal" text-anchor="end" fill="#333" >4%</text>
<clipPath id="c464"><rect x="417.5" y="377.5" width="97" height="90"/></clipPath><g clip-path="url(#c464)">
<path d="M482.6 429.3L482.4 430.5L482.8 432.0L482.3 433.1L482.2 434.5L481.1 435.0L481.0 436.4L480.2 436.8L480.6 439.3L480.4 441.1L479.4 441.0L478.5 440.6L478.3 442.5L478.0 444.8L476.9 442.5L476.6 444.6L476.0 445.7L475.4 445.4L474.8 446.8L474.2 447.4L473.5 447.5L472.8 448.4L472.2 448.7L472.0 445.1L471.4 445.8L470.7 446.7L470.0 446.9L469.5 446.6L469.4 444.6L469.1 443.9L467.3 446.9L467.6 444.4L467.1 443.9L466.0 444.4L467.6 440.0L466.1 441.1L466.1 439.7L465.9 438.8L464.8 438.7L465.5 436.6L466.3 434.7L466.1 433.7L466.1 432.6L464.6 432.1L465.8 430.4L466.2 429.1L465.7 427.9L466.7 426.8L465.8 425.3L466.2 424.0L466.5 422.7L466.3 421.1L467.5 420.6L467.3 418.7L468.8 419.2L468.2 416.3L468.4 414.5L469.9 415.8L469.9 413.3L470.9 414.3L471.2 412.3L471.7 411.1L472.5 411.6L473.1 411.8L473.6 410.1L474.2 409.6L474.8 408.7L475.5 408.9L475.9 411.0L476.8 407.3L477.4 408.1L477.5 410.8L478.4 409.2L479.3 407.9L480.2 406.9L479.9 410.2L480.3 411.2L481.5 409.7L481.3 411.8L481.7 412.6L481.3 414.9L481.9 415.2L483.0 414.7L484.1 414.6L483.4 416.9L483.3 418.4L483.3 419.6L482.9 421.2L483.0 422.3L484.2 422.7L484.9 423.8L483.4 425.6L483.0 426.9L482.4 428.1Z" fill="#050505" filter="url(#bl)"/>
<path d="M435.6 449.8L435.8 450.9L434.5 451.6L433.9 452.5L432.9 453.3L431.5 453.6L430.3 452.9L429.0 452.6L428.0 451.9L427.5 450.9L427.3 449.8L427.5 448.7L428.1 447.8L429.1 447.1L430.2 446.6L431.5 446.5L433.0 446.1L434.0 447.1L435.2 447.6L435.2 448.8Z" fill="#050505" filter="url(#bl)"/>
<path d="M478.5 455.5L478.2 456.9L477.3 458.1L478.5 460.0L477.0 460.9L477.0 462.5L474.8 462.4L473.4 462.4L473.9 465.1L472.7 465.4L471.5 465.5L470.4 465.6L469.6 467.2L468.4 467.6L467.2 467.9L466.1 466.8L465.0 466.3L464.2 465.2L463.1 465.0L461.3 465.9L461.5 463.4L460.2 463.2L459.7 462.0L459.2 460.9L459.1 459.6L458.2 458.6L457.3 457.5L457.7 456.1L457.3 454.8L458.1 453.6L458.6 452.5L457.8 450.8L458.9 449.9L459.6 448.9L459.9 447.4L460.5 446.2L462.1 446.4L462.8 445.3L463.9 444.9L464.7 443.3L466.2 445.2L467.2 444.6L468.4 444.1L469.1 446.2L470.3 445.7L471.8 444.7L473.1 444.9L474.3 445.4L474.3 447.4L475.5 448.0L475.9 449.3L476.0 450.7L477.1 451.6L477.2 452.9L478.3 454.1Z" fill="#050505" filter="url(#bl)"/>
<path d="M477.8 444.0L477.0 445.2L477.8 446.6L476.8 447.7L476.6 449.0L475.9 450.2L474.0 450.0L473.1 450.8L472.6 452.5L471.4 453.2L469.9 452.6L468.7 453.0L467.3 453.1L466.2 452.2L464.9 451.9L463.9 451.1L462.3 450.9L461.9 449.5L461.7 448.1L460.5 447.3L460.7 445.9L460.2 444.6L460.8 443.4L460.3 442.1L460.1 440.6L460.8 439.4L461.6 438.3L463.1 437.9L463.8 436.7L464.9 436.0L466.1 435.6L467.4 435.3L468.7 436.0L470.1 433.9L471.2 435.8L472.6 435.6L473.7 436.2L474.3 437.6L475.4 438.3L476.7 438.9L477.1 440.2L477.9 441.3L477.3 442.8Z" fill="#050505" filter="url(#bl)"/>
<path d="M475.3 448.7h0M482.1 427.5h0M474.2 445.6h0M468.2 444.5h0M478.6 438.7h0M479.1 438.0h0M466.5 445.0h0M469.3 418.9h0M466.0 409.0h0M482.3 425.3h0M474.6 412.4h0M481.6 415.8h0M469.9 409.0h0M466.3 432.2h0M481.7 436.2h0M473.1 409.9h0M479.9 437.7h0M470.8 444.0h0M478.6 439.6h0M483.9 411.5h0M470.2 416.2h0M466.1 448.2h0M477.3 441.1h0M482.6 423.5h0M482.6 424.4h0M479.2 439.0h0M483.7 411.6h0M469.9 415.3h0M466.3 433.2h0M482.9 422.6h0M479.2 440.9h0M467.1 439.2h0M483.9 422.6h0M462.8 431.8h0M475.1 443.6h0M482.1 426.4h0M476.8 411.0h0M481.2 445.4h0M475.7 410.9h0M473.7 447.9h0M477.3 411.0h0M481.4 433.3h0M467.9 422.0h0M478.3 410.3h0M473.3 446.4h0M478.0 444.2h0M482.4 426.6h0M475.6 445.4h0M472.2 444.2h0M467.1 426.5h0M473.6 410.9h0M472.6 452.0h0M466.2 420.6h0M478.8 411.9h0M473.2 444.9h0M465.5 425.0h0M478.1 440.6h0M483.8 431.7h0M483.5 421.1h0M469.1 417.8h0M468.4 442.9h0M482.0 429.3h0M466.4 429.2h0M470.7 416.2h0M463.4 443.2h0M472.3 458.8h0M487.0 430.4h0M486.0 425.1h0M487.6 429.4h0M464.8 426.2h0M475.5 448.3h0M476.3 448.6h0M478.6 408.5h0M478.5 411.3h0M482.2 405.7h0M471.1 412.0h0M472.5 445.6h0M475.4 409.3h0M468.3 422.0h0M482.3 431.0h0M485.6 399.5h0M479.2 452.1h0M467.6 455.7h0M464.5 437.6h0M467.9 418.5h0M480.2 435.6h0M481.9 420.0h0M468.3 409.3h0M471.3 412.9h0M475.2 407.2h0M470.1 443.4h0M468.6 445.5h0M473.5 445.2h0M466.3 430.5h0M470.8 406.6h0M465.9 421.6h0M471.9 451.6h0M481.1 416.1h0M482.2 431.0h0M472.1 443.8h0M476.6 447.4h0M465.6 427.8h0M467.1 427.2h0M486.3 427.3h0M461.4 435.1h0M473.3 411.7h0M481.6 450.5h0M481.6 433.4h0M467.5 445.5h0M467.4 437.7h0M467.4 437.2h0M466.9 413.2h0M472.0 403.9h0M467.9 419.4h0M469.1 420.2h0M468.7 444.0h0M465.1 420.4h0M475.0 411.1h0M483.3 427.6h0M480.6 437.3h0M469.6 444.5h0M469.1 412.6h0M476.6 402.0h0M469.0 419.9h0M467.4 414.8h0M464.3 451.8h0M481.0 437.4h0M472.9 446.8h0M472.2 446.5h0M475.2 451.6h0M483.1 420.4h0M475.9 444.9h0M474.0 452.2h0M480.7 415.1h0M477.4 444.2h0M471.6 444.2h0M475.6 442.6h0M481.3 416.5h0M480.2 436.5h0M483.3 433.0h0M478.1 409.8h0M486.0 427.1h0M469.3 419.0h0M477.0 412.2h0M484.6 423.6h0M473.4 413.0h0M480.9 408.7h0M483.0 422.9h0M464.6 443.3h0M465.2 435.8h0M477.3 411.4h0M467.0 418.0h0M482.3 427.3h0M467.9 442.6h0M475.9 442.2h0M472.3 409.9h0M466.8 435.1h0M467.0 436.2h0M471.2 415.9h0M470.9 443.6h0M463.5 425.9h0M473.9 412.7h0M477.9 443.8h0M480.2 439.1h0M481.0 432.9h0M482.2 417.1h0M469.1 441.9h0M476.4 409.4h0M475.4 412.0h0M466.9 438.6h0M482.4 430.2h0M466.9 423.6h0M475.8 410.2h0M466.7 429.8h0M466.8 436.4h0M465.2 435.0h0M466.7 428.9h0M477.2 411.7h0M482.9 408.7h0M474.2 444.1h0M468.7 421.2h0M466.5 425.4h0M478.8 412.2h0M477.0 411.9h0M466.9 424.7h0M466.8 440.1h0M467.1 444.4h0M473.2 413.7h0M466.4 434.6h0M471.9 408.9h0M480.3 405.0h0M483.3 420.8h0M483.1 431.9h0M485.1 412.9h0M466.8 433.8h0M467.0 427.4h0M469.9 443.5h0M484.9 406.0h0M481.1 411.8h0M485.1 412.8h0M466.3 435.1h0M469.8 443.5h0M480.1 412.8h0M464.0 439.1h0M469.9 418.2h0M470.9 416.1h0M466.9 426.9h0M478.9 409.8h0M464.6 432.7h0M482.7 419.1h0M474.6 412.1h0M482.2 424.2h0M472.1 413.1h0M479.0 438.4h0M467.0 436.8h0M460.4 420.6h0M478.9 405.1h0M466.6 431.5h0M481.9 434.1h0M465.3 437.5h0M469.2 443.3h0M470.3 408.6h0M464.5 433.0h0M482.2 432.2h0M481.3 417.4h0M478.6 410.7h0M480.4 439.1h0M482.7 426.8h0M478.0 442.4h0M484.8 440.5h0M471.1 413.9h0M480.3 436.9h0M481.9 429.2h0M466.6 428.6h0M465.2 429.5h0M484.5 436.8h0M470.7 413.8h0M485.2 436.1h0M467.2 438.7h0M474.7 410.4h0M474.1 443.9h0M483.8 414.0h0M483.8 425.6h0M462.9 436.4h0M480.6 436.8h0M482.2 415.1h0M480.5 408.4h0M467.1 453.2h0M483.1 433.5h0M481.6 430.3h0M481.2 432.9h0M468.2 420.1h0M466.3 416.5h0M468.7 441.3h0M487.9 412.5h0M485.9 424.5h0M468.2 422.4h0M487.1 417.9h0M467.8 440.0h0M481.1 434.9h0M472.7 445.3h0M466.3 444.9h0M466.8 435.8h0M469.4 416.8h0M480.4 437.3h0M470.0 443.9h0M494.9 403.8h0M463.7 427.8h0M463.8 437.3h0M467.0 425.7h0M466.7 449.1h0M485.0 410.7h0M482.4 421.4h0M482.7 433.0h0M469.3 418.0h0M471.5 448.3h0M478.2 412.0h0M468.5 442.6h0M469.5 448.1h0M481.9 431.2h0M478.9 412.9h0M461.1 437.8h0M483.9 426.3h0M479.2 409.5h0M467.1 435.6h0M467.2 428.3h0M479.9 439.0h0M482.5 418.4h0M467.4 425.6h0M468.9 410.8h0M481.9 427.5h0M472.2 446.0h0M463.0 430.2h0M475.9 409.2h0M475.7 446.2h0M465.6 426.6h0M482.4 429.3h0M468.4 443.1h0M465.1 425.5h0M467.6 424.1h0M465.8 428.6h0M481.7 434.9h0M467.6 419.4h0M473.1 409.0h0M479.7 437.9h0M470.3 446.9h0M482.3 417.8h0M478.4 412.7h0M471.5 446.5h0M483.8 416.8h0M486.8 412.5h0M469.2 453.0h0M476.5 444.6h0M474.2 443.8h0M467.7 445.4h0M474.3 412.3h0M463.7 449.1h0M468.3 414.6h0M481.8 429.1h0M482.8 436.3h0M480.0 412.8h0M480.7 410.0h0M467.2 444.4h0M479.2 410.5h0M467.9 422.9h0M479.8 436.3h0M483.3 397.9h0M481.7 407.5h0M466.8 430.2h0M483.2 419.7h0M468.4 416.2h0M471.8 453.3h0M467.7 419.4h0M467.3 442.8h0M482.4 424.2h0M473.2 447.8h0M475.2 410.1h0M477.6 409.6h0M474.0 444.8h0M468.9 443.5h0M477.6 448.6h0M468.2 441.2h0M478.5 441.2h0M480.6 436.7h0M477.4 442.8h0M477.7 441.1h0M482.1 424.9h0M464.9 425.4h0M477.7 411.8h0M468.8 445.0h0M477.1 403.5h0M468.0 422.9h0M482.1 433.4h0M481.7 416.9h0M474.4 408.1h0M481.9 429.4h0M466.8 427.8h0M479.5 441.1h0M477.2 444.2h0M481.8 428.6h0M472.1 444.2h0M464.6 429.7h0M477.6 411.0h0M468.1 444.0h0M468.1 422.8h0M484.5 418.0h0M476.5 411.9h0M468.4 421.4h0M482.3 421.9h0M479.4 439.9h0M466.3 427.5h0M476.3 409.4h0M463.6 437.5h0M473.8 446.1h0M481.8 438.3h0M474.2 446.2h0M474.8 412.3h0M480.0 438.7h0M470.3 416.7h0M464.9 448.8h0M472.1 414.2h0M470.5 416.1h0M481.0 432.4h0M482.5 402.8h0M472.1 448.4h0M477.8 411.8h0M485.6 423.9h0M480.9 434.1h0M476.1 410.5h0M477.6 440.4h0M486.0 413.4h0M464.7 433.2h0M472.0 397.9h0M469.4 444.9h0M468.0 410.7h0M484.4 418.8h0M467.4 423.5h0M484.1 426.9h0M482.5 425.5h0M466.0 430.6h0M463.5 437.5h0M465.1 428.0h0M463.9 425.0h0M480.6 413.7h0M484.7 429.4h0M480.1 409.5h0M466.7 433.1h0M479.2 439.2h0M469.9 410.4h0M465.8 440.7h0M467.8 413.1h0M482.0 421.2h0M476.6 411.0h0M482.2 423.4h0M467.7 438.6h0M470.8 416.6h0M480.3 438.6h0M476.5 441.6h0M484.1 413.8h0M464.4 426.5h0M467.5 414.6h0M478.6 438.6h0M473.7 412.0h0M467.6 417.7h0M467.0 425.6h0M482.9 423.6h0M465.7 432.6h0M482.0 433.4h0M470.6 416.3h0M474.8 410.6h0M482.8 423.3h0M482.1 442.0h0M467.9 453.9h0M472.7 412.7h0M464.9 426.2h0M481.6 417.4h0M470.1 443.2h0M467.2 425.2h0M469.8 446.9h0M482.3 426.2h0M467.0 424.0h0M468.6 419.7h0M475.2 444.0h0M483.0 420.0h0M482.1 424.4h0M475.0 451.5h0M479.1 441.1h0M475.5 443.1h0M463.7 429.8h0M468.8 421.0h0M472.9 460.1h0M479.1 410.4h0M468.6 442.8h0M481.3 432.9h0M481.2 414.5h0M485.1 407.7h0M473.7 412.1h0M466.7 433.2h0M472.7 445.3h0M483.5 435.0h0M466.7 426.7h0M470.8 414.4h0M468.7 443.4h0M466.3 432.8h0M466.9 440.4h0M483.3 412.4h0M482.0 415.3h0M482.1 424.4h0M482.1 412.6h0M483.8 433.3h0M467.8 444.1h0M481.7 435.9h0M472.6 412.8h0M466.8 445.6h0M481.9 420.8h0M469.2 445.2h0M468.9 443.2h0M466.6 417.7h0M479.8 411.9h0M486.9 408.6h0M477.0 441.8h0M482.1 426.6h0M468.3 463.7h0M479.9 413.4h0M458.7 444.7h0M471.1 448.9h0M471.6 445.7h0M483.8 422.0h0M461.6 438.2h0M486.3 413.9h0M467.7 424.2h0M469.1 442.5h0M470.5 443.8h0M473.0 408.8h0M483.7 432.4h0M480.0 411.2h0M482.0 427.3h0M481.1 432.8h0M477.7 445.3h0M471.3 415.4h0M481.5 410.8h0M468.9 419.3h0M461.5 445.8h0M470.4 417.2h0M465.6 434.3h0M474.2 410.4h0M473.5 447.6h0M465.7 426.2h0M485.6 427.6h0M467.6 446.3h0M473.8 445.0h0M482.3 436.9h0M472.8 449.9h0M468.6 413.9h0M474.4 412.1h0M477.0 406.4h0M464.4 434.9h0M469.0 442.0h0M467.4 426.0h0M464.1 445.4h0M482.9 412.9h0M467.1 437.0h0M467.6 424.9h0M479.0 406.9h0M479.7 438.0h0M467.3 423.6h0M474.5 412.6h0M477.9 408.5h0M473.1 444.1h0M477.5 441.0h0M466.7 430.6h0M482.1 430.6h0M480.8 433.3h0M480.6 411.1h0M471.3 444.8h0M466.2 436.1h0M470.7 416.2h0M469.5 415.0h0M483.4 412.4h0M478.4 409.4h0M483.4 437.2h0M471.9 411.8h0M467.9 439.6h0M480.3 444.8h0M466.2 430.8h0M482.8 418.2h0M468.3 443.0h0M465.8 427.1h0M475.2 412.3h0M477.8 407.9h0M482.7 420.9h0M480.6 449.6h0M468.7 449.2h0M484.1 419.4h0M469.9 445.6h0M468.7 419.8h0M464.9 411.8h0M468.7 417.2h0M466.5 432.3h0M480.8 415.5h0M465.5 429.9h0M482.1 427.8h0M483.8 423.4h0M481.1 434.3h0M478.4 446.8h0M471.8 407.5h0M481.4 434.3h0M481.1 416.0h0M467.3 443.4h0M481.5 416.4h0M473.2 443.9h0M467.9 418.5h0M480.9 433.4h0M465.4 430.8h0M483.5 436.3h0M467.3 420.6h0M471.6 413.7h0M469.5 417.1h0M476.8 409.7h0M481.0 434.9h0M482.8 438.6h0M480.3 437.4h0M476.5 410.3h0M481.5 431.6h0M466.6 435.8h0M480.3 413.8h0M484.0 423.3h0M472.7 445.7h0M469.4 418.8h0M482.0 419.8h0M473.7 410.9h0M480.6 415.0h0M477.6 443.2h0M471.7 444.7h0M467.6 446.4h0M467.8 423.5h0M472.0 414.3h0M482.1 429.3h0M466.4 438.8h0M472.4 444.4h0M480.0 414.0h0M465.4 423.2h0M466.7 442.8h0M470.2 447.0h0M483.6 441.8h0M487.4 420.4h0M473.4 411.4h0M469.7 412.3h0M482.6 417.2h0M468.5 441.8h0M469.1 447.0h0M480.4 438.9h0M482.5 435.8h0M473.1 445.8h0M482.9 413.0h0M479.0 442.2h0M460.7 447.1h0M472.5 447.1h0M465.9 430.1h0M471.4 413.8h0M479.2 409.5h0M471.7 444.6h0M472.0 412.1h0M476.4 443.7h0M482.8 420.7h0M469.1 446.0h0M480.8 435.4h0M482.0 421.2h0M477.6 441.8h0M473.3 443.9h0M466.2 425.1h0M483.1 432.4h0M467.1 421.0h0M472.0 447.3h0M485.2 429.6h0M467.7 438.7h0M466.0 442.9h0M465.6 436.9h0M473.7 411.3h0M473.2 448.5h0M465.8 430.2h0M467.5 442.8h0M469.1 412.9h0M474.8 409.9h0M482.6 411.8h0M478.1 412.2h0M483.0 421.3h0M470.2 448.3h0M475.8 445.6h0M481.8 436.0h0M479.4 408.4h0M465.9 422.1h0M473.8 445.8h0M468.3 420.9h0M486.4 418.3h0M468.8 421.0h0M467.7 445.8h0M466.0 423.4h0M466.8 418.9h0M485.2 408.9h0M465.2 427.0h0M480.4 413.7h0M482.2 423.6h0M466.8 431.6h0M483.5 415.4h0M480.9 434.8h0M474.8 411.7h0M475.0 444.2h0M466.3 438.3h0M472.1 445.0h0M482.0 420.8h0M474.3 444.1h0M465.7 427.1h0M462.5 428.6h0M467.0 428.6h0M478.7 441.9h0M480.5 440.6h0M475.0 411.5h0M487.7 423.4h0M467.9 440.0h0M466.4 430.4h0M479.8 413.5h0M466.4 427.7h0M480.4 412.6h0M478.1 439.6h0M466.2 434.5h0M465.1 438.0h0M467.4 442.4h0M478.5 438.8h0M465.2 436.6h0M465.6 450.3h0M479.9 436.4h0M472.2 444.6h0M478.3 439.8h0M482.5 426.9h0M485.0 413.5h0M464.5 433.7h0M477.4 408.7h0M468.5 417.6h0M480.8 438.1h0M468.4 412.5h0M478.3 410.1h0M470.5 415.9h0M472.6 444.4h0M469.7 417.4h0M472.9 448.2h0M481.9 418.9h0M482.6 427.3h0M465.1 435.3h0M484.9 417.3h0M481.8 412.9h0M471.4 415.8h0M468.1 423.2h0M482.3 419.5h0M471.8 415.0h0M480.0 413.5h0M480.6 435.5h0M473.5 410.4h0M469.8 444.8h0M481.8 430.1h0M481.6 445.6h0M474.8 446.7h0M472.1 414.5h0M479.1 407.0h0M477.6 412.0h0M481.4 436.9h0M484.2 424.2h0M482.9 431.6h0M478.8 439.1h0M465.4 438.5h0M468.0 441.2h0M476.9 410.7h0M467.6 438.6h0M469.7 448.1h0M482.5 431.0h0M469.4 446.5h0M472.0 446.1h0M471.2 406.5h0M477.6 442.7h0M470.9 416.5h0M477.5 441.3h0M467.1 435.3h0M473.5 445.7h0M482.1 402.4h0M481.9 419.2h0M479.9 439.4h0M467.5 424.9h0M463.4 425.1h0M466.2 429.0h0M467.5 443.9h0M483.5 424.7h0M466.8 443.6h0M466.8 422.3h0M467.1 436.2h0M477.7 411.0h0M480.6 436.1h0M473.3 447.9h0M483.8 432.6h0M469.6 418.5h0M476.4 410.4h0M469.7 417.4h0M476.8 442.7h0M465.5 410.2h0M472.8 411.7h0M477.7 407.3h0M467.5 438.0h0M481.5 417.2h0M476.0 443.4h0M474.6 410.8h0M466.8 435.4h0M479.3 408.1h0M469.8 409.8h0M483.2 434.5h0M478.6 410.4h0M461.3 447.1h0M481.5 403.2h0M482.7 434.3h0M470.9 443.6h0M482.4 407.5h0M479.3 410.3h0M469.0 420.1h0M472.9 412.8h0M479.9 413.9h0M474.6 444.2h0M467.5 423.4h0M466.6 439.5h0M477.0 443.7h0M482.1 431.4h0M469.5 416.1h0M482.4 431.4h0M482.5 419.2h0M469.9 449.6h0M482.6 410.8h0M466.6 430.4h0M478.9 441.9h0M477.1 444.7h0M477.5 442.5h0M471.7 411.7h0M468.5 445.0h0M484.0 416.6h0M466.9 431.8h0M479.7 437.3h0M482.7 432.9h0M471.4 415.6h0M483.0 425.5h0M482.1 419.2h0M472.4 405.0h0M474.3 411.7h0M482.7 422.4h0M466.3 438.1h0M468.8 450.4h0M466.9 429.9h0M467.3 445.7h0M481.9 419.6h0M477.6 405.3h0M482.8 429.6h0M483.4 418.3h0M484.1 421.4h0M471.1 450.4h0M467.0 428.0h0M467.3 436.9h0M481.5 418.4h0M481.7 417.7h0M481.0 438.1h0M468.1 419.4h0M469.3 444.1h0M463.1 438.4h0M465.6 419.8h0M468.2 420.8h0M477.7 442.7h0M473.2 413.6h0M466.4 442.1h0M467.8 455.3h0M467.1 418.9h0M474.8 449.1h0M468.2 440.6h0M466.6 432.5h0M463.0 433.3h0M467.0 437.5h0M476.1 410.7h0M468.0 415.5h0M471.4 444.6h0M479.2 441.7h0M482.9 440.2h0M482.3 438.4h0M479.5 408.0h0M482.6 427.1h0M474.9 409.6h0M482.8 429.4h0M473.0 412.6h0M470.6 443.6h0M481.3 432.4h0M480.4 434.3h0M468.9 444.7h0M475.2 411.9h0M485.0 419.1h0M466.8 431.3h0M468.8 421.0h0M478.3 442.6h0M464.8 446.8h0M469.7 414.2h0M481.6 413.9h0M465.5 437.8h0M478.8 438.9h0M480.2 441.5h0M470.9 415.7h0M481.7 417.7h0M474.2 444.8h0M479.1 409.6h0M483.8 428.9h0M479.6 408.6h0M477.2 409.6h0M484.3 423.9h0M466.1 425.2h0M466.5 428.1h0M472.6 408.1h0M472.5 414.2h0M466.6 438.4h0M482.4 427.6h0M470.4 443.3h0M481.6 432.6h0M465.7 435.9h0M484.8 436.5h0M480.6 414.6h0M464.8 433.0h0M478.9 439.1h0M472.6 446.5h0M477.3 406.6h0M468.1 439.8h0M479.3 439.1h0M479.4 438.3h0M479.4 410.9h0M469.4 444.4h0M486.4 402.6h0M474.4 412.4h0M482.2 407.6h0M466.7 432.2h0M473.3 407.9h0M484.7 426.9h0M472.7 444.5h0M458.6 451.4h0M460.0 430.8h0M461.6 440.9h0M467.1 444.6h0M461.2 420.0h0M460.3 413.6h0M464.6 410.3h0M464.9 419.9h0M464.9 444.5h0M462.5 429.8h0M463.2 424.7h0M464.5 427.8h0M463.7 422.7h0M465.3 433.2h0M459.3 431.9h0M457.0 419.8h0M458.2 437.0h0M461.3 431.2h0M464.2 427.6h0M462.3 425.7h0M472.4 418.7h0M465.7 427.3h0M470.8 416.3h0M462.6 434.9h0M460.9 452.6h0M464.2 434.3h0M455.8 438.2h0M457.8 438.6h0M464.6 429.0h0M460.6 424.0h0M460.3 447.2h0M459.6 429.4h0M464.8 416.8h0M461.2 442.8h0M464.1 435.8h0M466.1 429.2h0M452.8 442.8h0M465.5 406.6h0M462.1 445.1h0M458.0 442.3h0M469.3 427.0h0M461.9 421.5h0M465.8 432.0h0M465.4 429.2h0M463.2 424.9h0M467.7 427.4h0M468.4 437.2h0M459.9 421.3h0M467.5 432.7h0M461.5 441.7h0M454.3 440.3h0M461.5 438.7h0M460.5 427.3h0M466.0 433.2h0M456.8 438.7h0M466.1 413.5h0M458.9 421.6h0M458.8 426.0h0M471.2 417.4h0M458.9 430.2h0M468.7 424.4h0M467.1 439.1h0M461.3 435.5h0M467.3 431.2h0M470.0 431.5h0M469.9 418.1h0M464.0 407.0h0M456.9 428.1h0M461.3 429.4h0M465.3 415.7h0M455.7 441.5h0M464.3 439.5h0M466.6 432.3h0M460.8 436.7h0M459.0 419.8h0M461.6 453.2h0M458.9 445.7h0M462.3 447.9h0M460.9 420.2h0M460.2 430.1h0M465.4 422.7h0M463.9 453.4h0M463.1 437.2h0M474.3 418.4h0M463.0 427.5h0M464.2 422.5h0M461.7 438.5h0M463.1 412.0h0M467.9 432.2h0M471.3 418.9h0M464.6 421.2h0M466.4 423.7h0M468.6 429.3h0M453.6 423.9h0M465.9 436.8h0M467.4 433.7h0M461.0 432.9h0M463.2 430.8h0M467.4 419.7h0M461.7 444.2h0M462.4 436.4h0M460.7 432.3h0M468.6 443.9h0M463.2 424.5h0M469.5 409.4h0M462.2 438.1h0M473.2 436.5h0M462.4 430.4h0M462.8 421.6h0M461.3 434.6h0M455.7 426.1h0M450.2 445.6h0M463.5 414.4h0M456.6 426.7h0M470.1 432.3h0M458.2 427.9h0M455.9 424.5h0M455.6 451.6h0M466.0 442.0h0M465.0 422.5h0M467.3 433.5h0M459.9 416.0h0M462.8 418.9h0M461.7 411.3h0M455.1 443.6h0M465.3 431.0h0M461.8 433.1h0M458.8 440.1h0M469.8 421.7h0M456.3 433.8h0M455.5 453.4h0M462.5 435.0h0M463.8 425.4h0M459.7 421.6h0M471.6 427.6h0M467.7 443.3h0M461.7 426.3h0M461.2 435.1h0M458.7 442.0h0M461.9 423.7h0M466.0 443.4h0M459.1 430.6h0M462.2 436.2h0M466.4 428.0h0M458.9 426.6h0M466.8 447.2h0M463.8 422.3h0M474.0 437.1h0M459.8 419.7h0M458.9 461.6h0M468.4 418.5h0M459.6 428.6h0M457.3 439.0h0M458.2 430.5h0M465.5 427.1h0M467.2 423.6h0M468.1 421.9h0M460.4 417.4h0M464.4 436.8h0M463.0 444.8h0M465.7 432.9h0M455.7 432.2h0M464.5 418.3h0M469.4 431.1h0M469.5 415.6h0M470.8 440.8h0M463.5 427.0h0M470.0 417.9h0M462.0 442.3h0M462.6 422.9h0M457.9 428.1h0M468.5 455.3h0M458.6 420.6h0M465.7 427.8h0M461.1 430.1h0M468.8 435.8h0M459.6 437.2h0M457.5 444.2h0M454.0 430.4h0M466.9 445.9h0M465.2 410.2h0M462.1 440.3h0M465.8 433.3h0M460.4 412.7h0M460.8 433.2h0M460.0 423.6h0M464.6 426.7h0M463.7 441.0h0M459.8 442.0h0M457.9 441.7h0M464.7 434.9h0M466.1 431.4h0M455.3 450.9h0M463.9 432.4h0M463.2 434.5h0M461.9 417.9h0M457.7 450.7h0M465.6 418.9h0M470.0 430.4h0M458.0 425.2h0M460.0 443.4h0M466.3 426.8h0M461.9 424.2h0M463.4 420.2h0M466.8 428.0h0M467.1 444.5h0M464.3 438.9h0M449.4 427.5h0M464.0 421.6h0M467.7 425.4h0M462.1 410.2h0M465.9 424.4h0M468.7 433.3h0M462.7 439.5h0M461.7 423.2h0M462.7 428.5h0M467.7 421.8h0M458.2 446.3h0M466.9 425.4h0M463.5 414.4h0M470.3 422.1h0M453.3 433.8h0M465.2 436.3h0M464.0 432.7h0M462.2 430.3h0M461.9 456.0h0M463.3 432.1h0M453.8 434.5h0M465.4 436.7h0M456.0 433.2h0M470.0 425.8h0M462.1 437.1h0M462.5 425.7h0M460.1 414.9h0M463.8 436.1h0M465.6 422.1h0M464.8 419.6h0M455.7 440.4h0M457.3 419.5h0M461.5 428.2h0M469.8 438.0h0M472.2 428.5h0M455.6 421.3h0M464.2 416.7h0M464.9 440.4h0M465.6 412.8h0M467.9 445.8h0M467.5 452.3h0M459.3 431.1h0M466.7 439.1h0M469.6 426.4h0M459.9 430.2h0M459.7 433.2h0M461.4 439.2h0M459.8 441.4h0M459.5 444.6h0M468.4 428.2h0M462.0 434.7h0M464.9 419.8h0M466.1 411.0h0M457.7 421.3h0M463.8 422.1h0M452.4 446.3h0M460.4 428.7h0M464.4 433.7h0M465.6 416.9h0M464.4 439.9h0M466.3 444.0h0M456.4 445.8h0M456.5 422.5h0M463.8 453.8h0M468.3 427.2h0M463.4 441.6h0M457.5 429.8h0M460.3 444.0h0M465.5 432.9h0M468.4 426.0h0M458.9 441.8h0M454.8 437.3h0M462.9 414.9h0M463.8 421.9h0M469.1 435.8h0M467.0 438.9h0M462.9 442.0h0M465.7 435.3h0M467.8 448.5h0M455.4 429.7h0M456.4 421.4h0M466.1 419.9h0M462.0 425.7h0M467.3 445.0h0M463.5 423.8h0M460.4 430.2h0M455.7 422.1h0M463.8 433.0h0M463.8 434.0h0M459.7 431.3h0M458.5 435.3h0M454.0 440.1h0M464.0 426.4h0M463.6 440.8h0M463.3 450.0h0M468.4 429.7h0M462.1 419.7h0M458.2 435.1h0M463.5 434.3h0M470.5 431.8h0M464.7 427.9h0M458.1 428.6h0M462.6 438.2h0M466.1 419.6h0M462.5 438.7h0M456.6 431.4h0M456.5 427.1h0M468.1 432.4h0M472.7 416.5h0M467.1 427.6h0M455.8 436.1h0M464.0 427.9h0M468.4 425.5h0M466.3 429.6h0M460.6 435.9h0M467.7 443.1h0M468.3 412.0h0M457.0 431.1h0M468.3 410.0h0M463.6 419.1h0M466.5 439.7h0M461.8 445.0h0M466.3 428.1h0M469.5 449.2h0M462.6 433.8h0M464.5 438.5h0M461.2 429.7h0M468.3 427.6h0M468.9 431.2h0M470.7 442.3h0M457.9 440.3h0M461.9 425.7h0M466.9 439.9h0M465.4 441.0h0M470.3 431.5h0M465.8 434.7h0M469.8 419.6h0M462.7 419.5h0M460.6 435.8h0M461.5 424.5h0M462.0 442.8h0M472.3 428.3h0M459.8 434.6h0M460.3 435.7h0M466.1 448.9h0M459.7 431.4h0M459.4 443.5h0M458.8 445.9h0M471.1 410.9h0M468.0 451.6h0M463.6 430.5h0M472.1 425.1h0M462.7 422.5h0M466.0 442.9h0M459.6 441.0h0M465.4 445.7h0M462.7 423.9h0M464.1 435.3h0M461.9 422.6h0M466.0 414.4h0M457.9 432.4h0M457.0 438.9h0M455.9 432.6h0M465.0 443.7h0M459.4 435.7h0M468.5 420.9h0M464.8 441.6h0M468.1 428.4h0M464.7 423.5h0M465.6 434.4h0M460.8 455.9h0M466.0 421.8h0M463.3 436.0h0M460.4 462.7h0M461.4 449.2h0M476.6 453.2h0M458.5 447.8h0M462.6 447.9h0M464.1 446.0h0M456.7 453.9h0M474.6 460.9h0M471.1 466.6h0M458.9 450.4h0M468.6 440.3h0M476.2 454.6h0M485.1 455.1h0M460.0 459.4h0M465.0 446.0h0M476.5 458.8h0M474.4 450.1h0M456.3 452.5h0M454.9 451.6h0M474.7 450.5h0M468.2 465.9h0M472.2 464.9h0M461.6 448.6h0M459.4 465.6h0M476.9 455.0h0M474.9 460.2h0M477.0 459.7h0M466.9 445.0h0M454.2 440.9h0M465.8 466.3h0M459.2 452.5h0M471.6 466.7h0M454.4 454.7h0M463.1 464.6h0M465.2 443.2h0M454.7 445.2h0M464.2 445.5h0M459.9 466.2h0M457.4 453.2h0M477.1 455.6h0M455.6 455.7h0M467.4 466.3h0M462.4 444.5h0M464.4 445.3h0M470.2 464.9h0M460.5 450.5h0M460.0 445.8h0M469.7 466.3h0M472.0 465.8h0M461.9 441.8h0M466.2 464.9h0M462.6 442.9h0M475.2 443.3h0M472.3 464.4h0M477.3 455.1h0M476.3 452.9h0M472.6 465.8h0M467.3 443.0h0M469.9 436.8h0M477.0 450.7h0M463.0 464.9h0M475.5 460.7h0M461.9 463.6h0M470.7 446.7h0M459.8 460.8h0M462.3 465.7h0M456.9 448.8h0M468.7 443.1h0M478.1 446.5h0M460.3 449.9h0M468.8 466.6h0M461.9 448.0h0M477.3 455.4h0M476.2 456.2h0M461.8 447.8h0M459.9 448.6h0M475.5 453.2h0M476.2 456.9h0M471.4 446.1h0M457.6 462.5h0M478.6 453.5h0M474.3 447.7h0M459.1 459.6h0M475.2 461.3h0M476.8 456.4h0M460.6 460.7h0M459.1 451.6h0M457.6 447.6h0M474.9 449.6h0M454.8 448.3h0M476.2 454.6h0M466.3 465.2h0M476.7 452.7h0M468.9 466.5h0M474.1 448.8h0M459.6 450.5h0M474.1 442.2h0M474.8 450.0h0M475.8 458.3h0M457.2 451.9h0M455.6 454.5h0M461.3 463.8h0M456.2 457.5h0M459.2 450.7h0M458.0 465.9h0M459.7 458.6h0M480.2 444.6h0M466.5 445.2h0M462.8 447.5h0M472.6 464.0h0M468.0 466.4h0M465.0 444.6h0M457.1 461.3h0M462.4 463.3h0M473.4 447.0h0M476.4 461.3h0M477.8 460.5h0M458.8 460.5h0M468.4 444.0h0M476.1 452.7h0M470.2 466.3h0M477.0 452.1h0M473.2 464.5h0M468.9 466.1h0M474.4 449.5h0M477.5 453.6h0M460.8 449.4h0M457.0 462.6h0M460.5 443.5h0M469.4 441.1h0M464.3 464.9h0M473.2 462.6h0M464.8 445.5h0M470.6 465.0h0M466.9 465.9h0M454.0 449.7h0M452.9 452.8h0M468.8 444.5h0M459.1 454.0h0M459.0 452.8h0M476.6 455.6h0M476.2 459.7h0M459.1 456.9h0M475.5 450.0h0M462.7 465.6h0M474.8 461.9h0M459.5 452.4h0M473.4 462.5h0M473.8 446.6h0M474.1 447.1h0M459.2 450.8h0M463.2 465.2h0M474.3 466.3h0M459.0 457.7h0M475.2 444.1h0M472.3 466.4h0M475.2 449.0h0M463.5 463.7h0M462.2 446.3h0M475.7 448.6h0M474.8 447.1h0M463.0 440.8h0M453.6 465.3h0M460.0 450.4h0M473.0 444.9h0M467.5 466.3h0M472.7 466.4h0M466.6 443.7h0M467.8 465.2h0M458.6 452.4h0M467.4 465.3h0M461.6 447.4h0M465.0 446.0h0M468.3 445.8h0M458.7 449.8h0M456.8 466.3h0M477.5 454.6h0M470.1 465.0h0M470.7 445.8h0M460.5 462.9h0M463.1 463.8h0M463.8 465.0h0M463.3 463.7h0M470.9 442.0h0M473.6 465.5h0M464.4 443.6h0M471.3 446.0h0M461.4 466.5h0M466.6 444.9h0M458.0 458.8h0M473.0 462.8h0M459.1 449.7h0M467.2 445.9h0M469.3 446.2h0M465.4 464.7h0M472.1 465.9h0M467.3 441.7h0M475.9 445.3h0M469.5 466.3h0M471.9 466.1h0M467.6 465.8h0M470.9 443.6h0M475.6 451.5h0M475.7 449.4h0M473.3 445.6h0M459.8 452.1h0M475.7 448.9h0M470.2 465.9h0M457.3 465.5h0M464.4 464.3h0M479.2 455.1h0M472.6 465.6h0M476.4 464.0h0M460.2 460.8h0M458.8 446.9h0M461.7 448.6h0M462.2 447.1h0M477.4 446.8h0M471.4 445.0h0M470.7 445.9h0M458.1 442.6h0M475.0 464.6h0M460.5 450.4h0M469.8 443.7h0M471.0 465.6h0M464.7 443.4h0M459.0 455.6h0M465.5 466.3h0M474.1 448.6h0M471.5 446.9h0M462.5 466.7h0M465.1 446.1h0M477.5 453.2h0M473.1 438.7h0M472.7 445.9h0M463.9 465.1h0M477.2 440.9h0M477.2 452.9h0M463.6 465.4h0M465.7 445.9h0M461.8 448.6h0M463.5 465.4h0M477.6 449.1h0M459.1 453.5h0M458.8 456.7h0M475.7 454.9h0M459.4 459.3h0M458.1 452.2h0M459.6 458.1h0M476.2 453.2h0M458.9 459.6h0M466.0 465.4h0M476.9 465.5h0M467.3 445.0h0M473.8 449.3h0M462.7 444.2h0M475.3 447.7h0M474.6 463.9h0M459.1 459.7h0M466.9 443.8h0M459.1 457.5h0M475.1 448.8h0M465.7 465.9h0M463.0 446.8h0M457.4 458.7h0M461.9 446.6h0M462.8 446.7h0M483.5 451.9h0M472.7 445.3h0M475.8 459.4h0M465.3 466.4h0M460.9 446.7h0M451.3 440.3h0M458.9 454.4h0M476.2 454.3h0M461.5 446.8h0M477.9 452.1h0M478.4 454.7h0M461.6 448.5h0M472.2 464.3h0M462.4 463.4h0M460.0 444.4h0M457.2 451.9h0M461.2 463.0h0M462.1 447.9h0M465.4 443.9h0M460.4 466.1h0M471.3 444.3h0M458.2 458.5h0M455.4 440.7h0M462.0 447.7h0M473.1 446.2h0M458.1 459.1h0M458.5 456.9h0M456.1 452.7h0M477.7 446.0h0M463.5 447.2h0M472.4 447.9h0M474.1 448.2h0M458.6 457.4h0M468.8 442.5h0M475.3 450.6h0M476.5 455.4h0M458.2 452.1h0M472.8 464.7h0M465.1 465.0h0M477.1 457.9h0M477.0 460.4h0M461.1 445.9h0M462.5 465.6h0M475.5 448.2h0M467.3 465.6h0M458.7 455.5h0M464.0 465.0h0M456.1 457.8h0M469.0 466.2h0M473.8 462.1h0M458.8 458.4h0M464.4 466.6h0M475.7 456.5h0M474.9 459.7h0M463.0 464.1h0M467.3 445.2h0M474.7 462.6h0M476.4 451.7h0M473.3 466.4h0M474.9 460.8h0M467.2 443.5h0M458.4 454.9h0M475.9 460.5h0M459.7 459.3h0M466.2 445.6h0M467.1 465.7h0M458.5 451.8h0M467.2 445.0h0M459.3 460.2h0M479.9 456.1h0M464.2 466.2h0M468.4 442.3h0M464.3 442.3h0M465.4 466.1h0M479.0 466.0h0M476.2 452.2h0M460.1 450.3h0M459.9 447.9h0M475.2 459.2h0M474.1 449.8h0M457.7 459.9h0M467.8 465.7h0M469.0 445.1h0M474.8 462.7h0M464.7 465.0h0M473.5 448.5h0M470.1 445.9h0M477.0 452.0h0M473.1 465.3h0M468.3 465.4h0M475.8 443.4h0M479.7 459.6h0M458.1 457.1h0M479.9 456.3h0M476.1 463.4h0M460.1 460.8h0M478.0 450.2h0M469.3 446.0h0M459.5 452.4h0M455.4 451.4h0M457.4 449.0h0M463.1 465.2h0M459.8 462.9h0M463.4 446.5h0M456.8 456.9h0M466.7 465.6h0M464.0 441.8h0M471.3 466.4h0M469.5 464.7h0M474.9 460.4h0M481.7 455.0h0M472.0 464.8h0M470.9 443.4h0M474.3 449.7h0M460.5 463.5h0M460.3 461.2h0M460.9 462.6h0M476.4 449.2h0M461.5 464.2h0M461.2 464.5h0M471.2 446.0h0M463.7 466.4h0M476.2 457.7h0M469.4 466.1h0M460.3 460.9h0M470.8 466.5h0M459.8 451.8h0M474.5 450.4h0M464.3 464.7h0M459.9 451.2h0M474.6 460.4h0M459.3 454.3h0M459.0 449.6h0M462.2 446.2h0M475.8 466.6h0M459.5 453.4h0M464.5 446.6h0M462.9 464.8h0M471.4 445.0h0M469.9 445.7h0M473.5 447.7h0M471.1 446.3h0M464.2 464.3h0M472.2 445.0h0M462.4 446.9h0M456.9 457.6h0M462.3 448.1h0M462.8 466.2h0M462.7 439.2h0M461.4 462.2h0M458.3 454.5h0M454.6 454.1h0M468.2 445.2h0M460.1 447.4h0M463.4 465.4h0M469.0 445.9h0M462.9 464.4h0M461.8 447.1h0M476.2 455.9h0M477.2 453.7h0M462.9 463.7h0M475.3 458.7h0M459.8 449.4h0M459.9 450.1h0M476.0 448.7h0M473.5 462.5h0M458.1 462.9h0M471.7 463.9h0M469.2 465.9h0M472.1 447.0h0M462.0 447.0h0M461.1 447.6h0M469.5 465.8h0M465.8 466.0h0M475.8 461.5h0M458.6 439.5h0M476.0 460.3h0M458.2 450.0h0M475.7 455.8h0M457.8 455.3h0M457.4 453.7h0M475.3 459.8h0M461.6 463.2h0M479.0 453.7h0M468.4 444.0h0M472.4 444.1h0M465.5 465.6h0M470.7 435.0h0M463.1 440.2h0M465.5 444.0h0M479.8 463.2h0M458.7 452.5h0M468.0 466.0h0M476.8 460.8h0M460.6 435.6h0M458.3 447.6h0M472.7 445.2h0M476.2 461.8h0M468.3 465.7h0M462.1 464.8h0M468.9 445.9h0M463.0 441.9h0M463.1 464.0h0M461.8 448.3h0M476.9 465.5h0M459.3 464.4h0M459.4 453.9h0M459.0 452.5h0M472.3 463.5h0M461.1 448.7h0M471.7 466.6h0M462.1 463.2h0M475.4 460.1h0M458.5 456.0h0M468.2 444.8h0M475.7 455.7h0M463.2 466.6h0M470.5 445.8h0M476.8 453.0h0M460.8 446.3h0M474.6 446.6h0M472.3 463.5h0M462.1 463.8h0M476.7 454.9h0M467.6 465.4h0M468.1 466.4h0M476.2 456.8h0M471.8 447.2h0M473.7 447.8h0M467.3 444.4h0M480.8 457.5h0M468.5 465.1h0M458.1 465.2h0M457.3 460.2h0M463.6 464.6h0M475.5 459.4h0M476.3 452.5h0M472.8 448.1h0M462.4 446.1h0M469.9 466.1h0M459.7 450.3h0M460.0 460.7h0M455.7 456.7h0M461.9 446.6h0M473.8 461.7h0M469.8 466.3h0M458.9 463.6h0M470.5 466.5h0M477.0 459.7h0M456.0 457.4h0M477.1 461.6h0M467.0 444.5h0M467.9 443.8h0M459.6 450.8h0M472.3 447.2h0M459.6 452.8h0M471.0 464.6h0M474.9 450.7h0M469.8 446.0h0M458.6 450.6h0M467.4 441.7h0M475.5 459.9h0M458.0 448.3h0M462.6 440.7h0M456.7 458.6h0M456.6 466.1h0M475.7 466.1h0M471.3 465.8h0M476.1 448.2h0M477.4 449.8h0M465.6 438.7h0M465.5 443.0h0M480.4 458.0h0M475.5 450.5h0M475.5 461.0h0M462.7 463.7h0M464.5 444.6h0M456.3 445.0h0M471.0 465.7h0M462.2 447.5h0M477.2 454.2h0M475.8 456.2h0M454.1 446.8h0M426.4 451.3h0M432.0 448.3h0M424.7 450.7h0M430.0 445.4h0M430.3 450.7h0M442.6 453.3h0M426.8 453.3h0M423.5 440.2h0M427.5 458.0h0M435.3 446.2h0M433.6 440.5h0M430.5 445.4h0M425.0 448.4h0M427.4 451.2h0M425.0 451.7h0M433.8 452.8h0M434.8 452.2h0M436.9 454.4h0M437.0 454.1h0M424.7 449.0h0M439.1 446.3h0M435.4 453.7h0M438.5 446.3h0M432.8 448.9h0M434.9 441.1h0M431.1 454.6h0M431.4 453.9h0M438.9 449.5h0M429.4 447.3h0M425.3 448.2h0M430.5 453.7h0M428.0 446.9h0M431.2 448.6h0M438.1 449.1h0M438.9 449.3h0M418.8 449.9h0M425.7 450.1h0M426.7 453.8h0M430.1 448.1h0M442.3 447.2h0M429.1 448.3h0M435.3 450.3h0M431.7 454.5h0M428.4 452.9h0M435.8 450.5h0M428.9 449.2h0M437.3 437.5h0M439.4 444.9h0M436.4 451.4h0M433.7 451.6h0M429.0 456.7h0M431.8 453.0h0M430.5 448.2h0M437.2 444.9h0M431.4 446.0h0M423.2 454.5h0M431.6 441.7h0M431.2 459.6h0M437.0 448.1h0M433.4 448.2h0M432.7 448.9h0M432.5 447.5h0M436.0 444.1h0M422.6 443.1h0M428.0 450.3h0M434.5 452.7h0M423.6 443.5h0M434.8 456.9h0M434.8 448.7h0M436.9 456.1h0M436.7 450.0h0M430.0 447.3h0M429.3 444.6h0M433.4 453.8h0M430.0 453.0h0M435.0 448.7h0M431.3 455.9h0M427.6 446.9h0M429.4 446.5h0M434.5 451.9h0M430.1 452.4h0M422.2 450.8h0M443.9 452.7h0M426.2 453.8h0M428.2 452.4h0M435.1 443.2h0M441.1 442.9h0M429.2 452.7h0M434.8 450.2h0M429.9 453.1h0M433.5 448.0h0M437.4 455.8h0M428.5 448.1h0M426.1 444.9h0M432.5 453.6h0M424.1 449.2h0M433.3 447.0h0M436.1 451.8h0M431.3 454.6h0M433.4 454.1h0M434.8 448.2h0M439.5 446.0h0M433.6 448.0h0M427.3 444.5h0M437.7 454.9h0M437.3 440.8h0M435.0 449.8h0M434.8 450.5h0M434.7 451.3h0M437.3 449.8h0M428.9 440.5h0M433.2 440.5h0M428.6 449.8h0M431.0 446.5h0M440.8 442.8h0M437.9 447.8h0M431.0 450.0h0M434.1 442.0h0M434.2 448.7h0M431.5 449.7h0M431.0 454.3h0M427.0 446.7h0M434.2 448.5h0M436.4 437.0h0M430.3 450.0h0M440.8 453.2h0M426.8 454.6h0M427.3 451.3h0M429.7 443.8h0M435.8 451.7h0M430.0 446.1h0M427.6 449.3h0M437.4 447.2h0M431.3 447.9h0M425.2 448.5h0M428.3 454.9h0M432.5 454.9h0M431.2 450.3h0M438.9 450.9h0M432.0 451.6h0M433.4 454.3h0M428.5 447.9h0M427.0 455.1h0M434.9 448.0h0M434.5 457.5h0M435.7 448.9h0M426.7 452.4h0M445.1 453.5h0M430.0 443.1h0M436.6 445.6h0M429.5 459.0h0M429.5 448.8h0M445.3 455.7h0M419.5 454.0h0M430.3 450.4h0M428.4 451.1h0M435.0 448.0h0M435.7 452.4h0M425.6 457.7h0M432.4 453.2h0M439.0 448.9h0M444.1 444.8h0M426.2 448.6h0M441.1 455.6h0M435.9 445.2h0M429.6 448.9h0M432.1 444.7h0M431.8 447.5h0M433.9 445.3h0M428.8 450.4h0M435.0 449.6h0M432.5 448.9h0M428.4 448.0h0M427.1 452.2h0M433.6 448.7h0M427.1 448.2h0M430.7 454.0h0M429.8 450.6h0M428.2 452.6h0M430.2 446.1h0M421.7 449.0h0M429.7 454.6h0M425.1 447.6h0M425.2 453.4h0M432.9 447.9h0M434.7 449.9h0M429.0 449.5h0M434.6 453.2h0M440.5 450.0h0M431.9 449.9h0M427.3 449.2h0M434.4 447.7h0M430.0 444.3h0M434.6 453.7h0M431.5 450.3h0M432.5 449.7h0M430.4 453.7h0M443.0 452.8h0M433.1 447.9h0M425.3 454.4h0M430.5 452.0h0M428.9 439.4h0M442.1 443.6h0M434.6 454.2h0M423.1 451.0h0M431.0 443.1h0M440.4 446.7h0M434.2 449.4h0M441.1 444.9h0M429.5 450.9h0M435.2 449.2h0M437.3 453.9h0M433.6 443.6h0M426.7 443.1h0M429.1 453.5h0M439.8 449.7h0M436.0 447.6h0M430.1 452.7h0M423.2 449.4h0M427.1 451.0h0M434.5 450.1h0M438.5 449.4h0M437.9 450.0h0M421.2 450.3h0M427.0 448.4h0M419.4 449.5h0M429.8 445.0h0M430.3 453.0h0M431.9 452.3h0M427.0 457.1h0M426.9 444.8h0M432.5 451.9h0M438.1 452.1h0M436.4 442.7h0M432.5 446.9h0M420.6 456.7h0M425.5 452.7h0M435.8 447.9h0M426.5 455.5h0M431.5 450.2h0M432.2 450.9h0M434.7 450.0h0M436.5 449.0h0M424.7 446.8h0M434.4 445.5h0M432.7 452.6h0M428.2 449.7h0M425.1 444.9h0M434.0 450.2h0M425.9 448.2h0M428.0 448.4h0M428.3 447.7h0M442.9 446.5h0M424.8 448.4h0M437.7 448.1h0M434.9 447.8h0M429.4 455.7h0M432.9 447.0h0M435.1 443.4h0M423.9 448.9h0M429.4 450.1h0M425.2 451.8h0M430.5 448.5h0M433.2 447.9h0M436.8 445.4h0M433.0 448.7h0M419.9 446.4h0M428.9 451.5h0M425.0 447.6h0M429.0 443.7h0M428.8 453.7h0M436.2 444.8h0M427.6 446.8h0M420.6 459.7h0M427.7 451.0h0M428.9 448.4h0M423.7 445.6h0M430.6 446.6h0M434.9 446.9h0M433.4 451.4h0M425.3 454.9h0M430.4 459.7h0M428.6 453.9h0M435.1 442.8h0M423.5 444.0h0M435.6 449.1h0M436.2 444.4h0M435.3 449.0h0M434.5 451.8h0M432.0 455.0h0M424.4 448.5h0M436.6 444.7h0M435.2 449.3h0M432.9 439.3h0M427.0 452.6h0M425.4 453.2h0M435.0 436.9h0M432.0 444.6h0M426.1 443.2h0M432.9 454.5h0M444.2 454.3h0M429.1 442.8h0M436.8 452.2h0M431.7 443.6h0M425.3 448.9h0M439.1 455.1h0M426.7 442.4h0M430.9 452.8h0M427.6 450.2h0M436.0 442.0h0M440.7 454.6h0M431.8 450.6h0M434.3 446.2h0M435.3 449.4h0M427.6 449.3h0M430.0 447.5h0M435.1 452.4h0M436.3 447.1h0M434.9 448.0h0M440.0 444.2h0M436.7 446.7h0M422.7 453.2h0M424.8 446.3h0M431.1 451.2h0M430.9 451.1h0M432.9 442.4h0M437.7 454.8h0M428.5 452.6h0M430.0 446.0h0M430.1 441.4h0M428.2 452.4h0M436.6 450.9h0M432.7 446.6h0M436.4 456.9h0M433.3 456.5h0M432.1 448.3h0M436.0 449.5h0M430.3 447.2h0M432.2 449.2h0M423.4 452.1h0M440.1 450.2h0M433.9 451.4h0M436.0 452.2h0M429.8 444.8h0M433.8 451.0h0M428.8 448.5h0M433.9 455.7h0M428.5 445.8h0M431.5 446.1h0M429.1 445.7h0M437.5 450.8h0M432.4 455.9h0M447.6 450.5h0M435.9 445.1h0M434.5 446.7h0M424.0 451.7h0M428.7 455.7h0M430.2 448.4h0M427.3 449.1h0M431.1 452.1h0M427.7 446.8h0M426.2 447.1h0M429.5 449.0h0M428.2 453.4h0M427.9 450.7h0M430.8 451.0h0M432.0 447.7h0M431.5 447.3h0M430.8 454.2h0M435.8 454.6h0M427.4 454.7h0M433.7 451.9h0M430.2 456.7h0M427.1 450.8h0M424.8 448.8h0M433.5 450.3h0M432.9 454.7h0M426.4 442.7h0M436.7 442.8h0M430.0 459.1h0M435.2 448.6h0M436.2 445.6h0M435.2 447.5h0M428.1 445.7h0M428.6 450.7h0M440.6 452.6h0M436.2 448.5h0M440.1 448.3h0M438.8 443.8h0M434.6 444.9h0M430.0 448.8h0M422.5 451.8h0M431.9 442.4h0M431.0 449.0h0M423.7 447.4h0M436.7 447.3h0M430.6 449.1h0M430.5 445.1h0M430.8 441.5h0M432.3 448.1h0M424.9 443.8h0M432.6 447.5h0M428.4 447.4h0M432.6 453.5h0M429.4 441.8h0M427.2 446.0h0M433.7 453.8h0M433.3 445.8h0M436.2 447.2h0M425.7 449.1h0M441.7 448.5h0M428.1 452.8h0M427.6 454.4h0M435.1 443.8h0M429.5 448.1h0M427.6 451.2h0M430.4 456.5h0M432.9 453.2h0M436.3 450.8h0M435.6 446.3h0M436.5 453.0h0M436.9 446.7h0M428.8 454.4h0M431.2 459.8h0M434.1 444.6h0M434.7 450.2h0M422.2 447.8h0M420.7 461.1h0M425.8 446.6h0M429.9 446.3h0M437.6 447.9h0M424.6 453.1h0M433.2 443.5h0M436.2 443.6h0M427.1 455.8h0M429.1 449.9h0M427.4 448.6h0M421.5 449.1h0M427.7 453.5h0M429.4 446.2h0M429.1 441.9h0M433.5 442.1h0M425.4 451.0h0M429.9 457.8h0M424.6 451.4h0M440.3 446.1h0M425.1 454.1h0M440.7 445.5h0M435.6 451.8h0M432.1 452.8h0M430.2 452.2h0M430.2 448.9h0M426.2 449.7h0M431.0 445.8h0M427.9 448.2h0M438.4 450.8h0M434.8 454.5h0M435.0 456.0h0M438.5 451.8h0M431.0 450.1h0M431.1 446.5h0M423.9 451.8h0M424.9 452.9h0M440.1 449.2h0M426.9 447.3h0M434.5 448.9h0M429.4 450.7h0M425.8 445.8h0M433.4 446.4h0M434.6 447.2h0M431.9 448.8h0M437.8 447.8h0M431.9 444.9h0M432.2 448.8h0M433.0 441.1h0M434.6 449.5h0M433.0 451.0h0M436.5 445.1h0M428.9 450.7h0M424.2 459.1h0M421.7 452.5h0M429.1 452.3h0M438.9 456.5h0M428.0 450.0h0M427.8 444.2h0M432.1 446.9h0M425.4 448.7h0M428.5 445.1h0M432.5 451.6h0M433.4 446.5h0M427.1 440.5h0M434.9 453.2h0M427.2 444.3h0M425.6 455.7h0M430.5 447.8h0M431.9 449.5h0M430.0 448.9h0M434.7 453.0h0M426.1 449.4h0M431.2 450.2h0M443.2 451.3h0M435.1 448.8h0M434.2 454.2h0M437.5 445.7h0M432.4 450.8h0M426.3 448.5h0M429.3 453.3h0M431.7 457.6h0M434.2 447.5h0M432.8 449.8h0M427.6 451.3h0M424.8 450.8h0M429.2 450.1h0M428.1 456.8h0M428.3 453.0h0M431.9 454.2h0M428.2 444.6h0M434.9 453.4h0M434.7 433.7h0M439.8 454.7h0M431.7 445.9h0M434.0 442.3h0M430.0 452.1h0M438.2 447.3h0M430.5 444.1h0M430.9 446.7h0M431.6 446.4h0M433.7 448.9h0M428.2 452.1h0M434.1 448.2h0M430.6 452.9h0M434.0 448.6h0M441.0 446.7h0M425.3 447.4h0M432.6 442.3h0M440.7 452.4h0M426.9 451.4h0M425.4 449.9h0M430.4 455.8h0M422.6 448.2h0M422.4 448.3h0M430.0 449.6h0M436.5 445.4h0M428.9 455.6h0M431.7 445.6h0M431.6 445.0h0M427.3 447.7h0M424.2 457.3h0M429.6 450.6h0M430.3 449.1h0M427.6 451.5h0M429.4 446.2h0M435.9 455.2h0M433.6 451.4h0M430.0 450.1h0M435.0 449.3h0M437.9 454.7h0M432.7 450.3h0M427.5 448.0h0M428.4 448.3h0M427.2 451.4h0M433.1 448.7h0M439.3 449.8h0M431.2 450.3h0M428.7 452.8h0M427.2 449.7h0M441.0 449.8h0M426.4 445.4h0M437.0 441.5h0M439.4 454.2h0M429.3 450.7h0M429.3 445.9h0M433.6 446.5h0M434.4 450.6h0M428.6 450.0h0M431.7 448.8h0M430.4 454.5h0M428.0 450.4h0M436.4 450.7h0M429.6 445.0h0M430.2 441.7h0M429.4 449.6h0M437.8 451.5h0M436.5 450.9h0M432.7 443.0h0M428.8 448.8h0M431.1 444.5h0M424.2 450.8h0M430.2 449.6h0M430.4 448.6h0M426.0 453.4h0M433.4 449.2h0M439.7 445.9h0M435.4 448.9h0M431.6 453.0h0M431.5 449.4h0M425.8 451.1h0M433.4 447.6h0M425.9 453.8h0M432.2 454.1h0M431.2 459.9h0M425.8 452.9h0M432.2 450.4h0M430.5 451.8h0M435.5 449.5h0M426.7 453.8h0M436.2 444.4h0M432.7 455.5h0M434.4 447.2h0M432.9 450.8h0M426.4 448.8h0M430.0 448.3h0M437.8 441.8h0M426.7 447.0h0M437.5 448.6h0M430.3 448.7h0M438.9 456.7h0M432.6 445.5h0M430.2 442.6h0M435.9 448.3h0M436.8 446.7h0M428.0 441.1h0M432.7 453.6h0M421.4 446.0h0M431.1 453.7h0M440.4 455.4h0M432.8 443.6h0M427.6 451.9h0M431.6 446.3h0M431.1 450.1h0M442.1 447.3h0M434.2 450.4h0M435.1 446.4h0M438.5 454.3h0M433.9 444.9h0M426.5 449.1h0M431.0 446.0h0M431.0 443.2h0M430.7 444.1h0M432.8 439.4h0M428.0 448.0h0M424.7 448.2h0M430.6 454.8h0M434.7 447.5h0M435.3 448.9h0M435.3 447.4h0M432.8 448.0h0M436.0 456.1h0M439.0 454.5h0M430.8 455.9h0M430.2 449.5h0M427.4 453.6h0M423.9 449.8h0M434.8 444.6h0M433.8 444.9h0M430.0 451.0h0M438.1 457.3h0M426.9 443.1h0M428.1 450.6h0M431.0 444.2h0M427.4 450.6h0M431.7 457.6h0M426.0 447.6h0M447.8 443.1h0M436.6 446.9h0M432.1 454.3h0M428.9 448.6h0M431.6 449.6h0M439.5 454.5h0M428.5 454.8h0M424.4 447.3h0M428.1 447.2h0M432.2 450.5h0M427.3 451.3h0M428.4 451.8h0M432.8 444.8h0M427.2 453.7h0M431.1 450.6h0M429.9 455.8h0M433.6 446.4h0M432.5 445.0h0M429.5 448.2h0M426.7 446.4h0M436.4 445.4h0M430.4 444.6h0M437.3 445.1h0M434.9 451.7h0M434.0 447.2h0M421.2 446.7h0M430.4 443.7h0M426.0 451.2h0M431.4 453.6h0M433.5 454.4h0M432.7 448.7h0M432.3 452.9h0M435.9 451.7h0M429.2 445.4h0M436.1 453.3h0M426.7 450.0h0M426.9 450.2h0M441.4 447.2h0M429.5 449.4h0M429.3 451.2h0M424.1 453.1h0M427.9 449.9h0M443.1 453.4h0M432.4 448.8h0M433.8 453.0h0M447.1 456.1h0M438.3 445.6h0M438.3 448.2h0M432.3 448.0h0M429.8 451.9h0M432.4 452.4h0M429.1 446.2h0M429.5 448.6h0M433.2 456.7h0M432.1 448.4h0M443.2 455.8h0M435.7 453.1h0M423.2 448.7h0M431.4 449.5h0M422.4 451.4h0M440.0 454.4h0M432.8 451.5h0M431.5 440.9h0M434.0 453.1h0M424.7 459.4h0M435.1 451.3h0M438.3 445.0h0M431.1 443.5h0M436.0 451.0h0M442.2 451.6h0M429.6 441.5h0M429.9 448.2h0M431.2 447.4h0M430.0 450.2h0M428.7 446.4h0M430.4 443.5h0M420.8 450.2h0M426.8 443.9h0M430.8 449.6h0M437.4 446.7h0M431.4 448.7h0M428.5 444.3h0M422.3 442.8h0M426.3 446.2h0M429.0 442.1h0M432.7 450.8h0M425.6 447.0h0M429.3 452.1h0M437.0 451.4h0M434.7 454.3h0M434.6 450.0h0M434.0 453.2h0M432.2 453.5h0M428.9 445.2h0M431.3 451.7h0M441.1 447.9h0M426.6 442.6h0M427.2 448.4h0M429.5 451.0h0M431.6 447.0h0M443.2 446.1h0M430.2 444.5h0M428.4 450.8h0M423.3 448.8h0M427.8 450.0h0M434.2 448.8h0M435.9 446.9h0M433.0 445.5h0M423.7 445.9h0M430.0 451.6h0M440.1 450.4h0M434.4 445.7h0M439.4 446.1h0M430.8 457.3h0M435.8 457.9h0M428.6 451.3h0M425.7 451.4h0M428.4 455.0h0M433.9 442.3h0M429.7 446.4h0M431.9 453.6h0M425.8 449.0h0M434.6 445.5h0M429.4 446.9h0M436.3 452.1h0M426.1 454.2h0M439.1 447.5h0M433.0 451.7h0M434.8 458.1h0M432.0 448.2h0M432.5 449.0h0M422.8 453.7h0M432.8 445.9h0M427.3 443.4h0M432.2 450.6h0M432.2 453.3h0M430.2 444.9h0M431.7 455.7h0M437.9 448.9h0M440.4 444.9h0M428.8 448.1h0M441.1 436.8h0M432.8 449.6h0M427.2 451.5h0M422.1 451.2h0M426.8 446.9h0M432.7 448.9h0M429.0 449.7h0M428.0 455.0h0M433.1 450.6h0M438.1 456.5h0M424.3 450.6h0M425.7 452.5h0M428.7 446.9h0M430.2 454.2h0M426.9 451.3h0M430.1 448.2h0M432.0 456.6h0M429.4 450.5h0M433.3 443.1h0M430.1 451.8h0M433.2 449.7h0M426.7 448.4h0M434.2 446.3h0M435.9 450.7h0M439.0 442.4h0M431.3 443.1h0M426.1 457.9h0M434.9 450.7h0M426.4 450.0h0M433.7 454.7h0M421.9 449.9h0M425.9 458.8h0M439.0 449.0h0M429.9 455.5h0M439.3 447.1h0M435.9 450.4h0M432.5 443.5h0M441.3 448.3h0M426.4 444.4h0M438.6 450.0h0M435.9 449.6h0M424.9 449.2h0M427.7 445.4h0M432.2 446.5h0M433.0 449.9h0M429.0 446.1h0M430.2 453.8h0M436.5 453.9h0M427.4 446.2h0M432.5 449.3h0M434.5 450.9h0M424.6 451.0h0M438.6 448.4h0M431.2 449.7h0M424.0 453.0h0M433.4 452.7h0M428.8 446.8h0M426.4 449.3h0M431.3 451.8h0M426.9 446.8h0M425.9 447.9h0M435.5 452.7h0M431.6 454.0h0M433.5 447.5h0M434.5 444.1h0M428.0 450.6h0M431.5 446.8h0M429.9 445.3h0M427.7 460.8h0M434.3 453.1h0M437.2 442.7h0M435.0 446.2h0M424.7 447.8h0M432.0 453.8h0M436.6 449.6h0M437.3 440.8h0M430.9 452.0h0M443.1 442.0h0M419.5 449.6h0M430.2 451.7h0M430.4 445.8h0M429.3 450.8h0M443.2 436.8h0M425.7 449.1h0M429.2 443.5h0M429.1 447.3h0M432.0 451.7h0M429.5 452.1h0M427.8 447.4h0M432.9 447.7h0M434.7 452.5h0M428.5 458.3h0M434.7 446.7h0M425.7 449.3h0M431.6 452.0h0M432.9 451.9h0M449.1 444.3h0M459.3 446.2h0M455.1 449.3h0M437.1 450.6h0M449.3 453.3h0M446.9 441.8h0M458.0 460.2h0M457.2 457.5h0M453.9 450.7h0M443.0 449.6h0M438.7 458.2h0M443.4 446.5h0M448.9 455.0h0M453.0 460.0h0M453.4 452.9h0M457.6 454.6h0M459.2 451.4h0M438.9 451.3h0M457.8 456.0h0M448.1 452.7h0M438.7 461.2h0M442.5 449.4h0M443.3 441.3h0M437.9 452.1h0M446.4 441.2h0M440.0 456.7h0M438.0 455.6h0M445.9 452.5h0M452.9 447.3h0M453.7 445.8h0M448.3 452.3h0M445.8 452.0h0M455.2 452.5h0M439.6 444.0h0M446.4 453.6h0M450.9 443.4h0M455.4 460.1h0M445.2 447.1h0M441.8 454.1h0M437.3 444.0h0M459.5 451.0h0M455.3 461.3h0M446.2 457.3h0M438.6 451.2h0M456.2 458.9h0M455.4 453.8h0M452.1 448.5h0M457.6 453.1h0M439.4 451.4h0M440.0 443.5h0M437.6 451.7h0M439.1 447.3h0M445.4 460.9h0M459.4 443.8h0M456.4 450.6h0M453.8 451.2h0M443.2 449.6h0M450.9 456.3h0M456.7 447.1h0M458.8 461.4h0M437.0 450.8h0M441.2 450.4h0M439.2 460.5h0M459.3 445.4h0M439.9 450.9h0M454.1 447.4h0M452.2 456.6h0M441.5 450.5h0M458.6 444.4h0M447.1 451.0h0M438.8 461.8h0M442.9 453.7h0M458.2 441.0h0M454.6 453.0h0M459.0 456.5h0M440.7 441.7h0M456.7 448.9h0M450.0 445.7h0M451.2 452.1h0M458.6 446.8h0M458.5 445.4h0M456.2 446.0h0M458.6 456.3h0M441.7 457.8h0M458.5 456.7h0M447.2 445.4h0M441.9 452.3h0M445.1 445.3h0M453.3 444.4h0M439.8 459.3h0M438.7 445.6h0M443.4 457.6h0M445.2 454.1h0M445.5 447.2h0M456.0 442.5h0M445.1 441.8h0M452.3 446.6h0M458.2 455.8h0M454.7 450.6h0M449.9 452.7h0M437.3 460.0h0M440.0 450.6h0M451.3 453.3h0M443.0 448.9h0M454.8 451.4h0M454.1 455.8h0M455.1 453.4h0M452.6 459.1h0M451.0 448.8h0M458.3 448.6h0M452.8 444.1h0M455.1 442.7h0M449.3 451.6h0M455.6 457.1h0M447.1 459.3h0M453.7 447.4h0M449.2 455.3h0M458.0 452.1h0M442.4 460.1h0M459.2 445.6h0M445.6 456.3h0M458.8 449.8h0M439.2 448.7h0M438.8 458.1h0M442.1 446.0h0M453.6 449.7h0M452.1 443.8h0M437.2 451.7h0M456.5 448.7h0M457.7 448.5h0M447.1 455.9h0M442.1 453.9h0M460.0 456.8h0M452.2 461.0h0M454.4 453.1h0M438.3 454.3h0M452.3 460.1h0M439.2 458.0h0M440.5 457.7h0M456.6 447.8h0M437.4 441.6h0M449.3 444.4h0M449.9 461.7h0M453.9 460.3h0M455.4 445.4h0M438.9 461.6h0M459.2 448.6h0M450.4 460.3h0M444.1 449.1h0M448.9 459.5h0M438.5 453.3h0M449.1 449.2h0M441.4 450.4h0M450.5 443.6h0M453.7 451.2h0M445.4 447.9h0M451.8 445.4h0M451.6 450.5h0M438.3 446.4h0M438.3 443.0h0M442.4 444.7h0M450.2 446.6h0M445.5 456.5h0M437.3 446.1h0M440.6 446.6h0M439.4 448.3h0M454.8 441.1h0M439.2 451.8h0M441.5 451.2h0M448.4 446.1h0M445.6 455.4h0M437.1 445.4h0M449.7 443.0h0M447.4 461.4h0M439.5 447.1h0M450.2 447.6h0M449.2 443.3h0M451.9 450.5h0M458.7 458.8h0M440.7 443.0h0M439.8 457.5h0M444.5 445.3h0M438.3 448.6h0M451.2 461.4h0M444.2 457.9h0M459.4 449.4h0M441.1 441.7h0M442.7 445.6h0M450.5 447.9h0M453.6 452.9h0M450.7 455.0h0M446.4 454.8h0M438.5 450.6h0M447.5 450.5h0M454.5 453.9h0M438.3 451.6h0M455.4 460.1h0M444.3 460.2h0M444.6 458.1h0M456.6 445.9h0M451.6 451.6h0M453.5 460.7h0M440.9 461.6h0M437.6 441.4h0M449.6 444.8h0M444.5 451.7h0M449.3 446.7h0M439.8 459.2h0M452.9 458.5h0M458.4 459.2h0M448.5 442.2h0M457.9 448.2h0M451.7 444.2h0M446.0 455.1h0M447.4 443.3h0M445.4 450.2h0M458.7 459.3h0M456.5 441.1h0M458.7 455.7h0M437.8 451.2h0M458.1 449.6h0M450.0 447.2h0M459.4 447.9h0M441.0 457.0h0M450.7 458.5h0M451.6 448.2h0M455.8 452.3h0M449.1 447.9h0M445.4 441.1h0M454.2 456.0h0M446.1 445.6h0M440.4 443.2h0M450.5 453.2h0M449.1 457.8h0M446.5 451.2h0M443.8 451.1h0M437.4 459.7h0M455.4 452.9h0M453.4 461.0h0M443.8 460.7h0M441.1 453.9h0M451.8 442.6h0M455.2 443.4h0M440.3 446.3h0M452.1 461.0h0M451.2 442.2h0M447.0 456.2h0M438.3 454.2h0M448.1 454.4h0M445.7 453.6h0M440.0 442.9h0M439.2 449.4h0M458.2 461.7h0M442.2 446.9h0M455.3 461.5h0M458.4 451.2h0M444.8 459.0h0M443.7 446.1h0M439.9 446.6h0M438.1 450.3h0M432.0 441.0h0M444.8 421.1h0M457.5 425.0h0M451.5 415.1h0M422.2 434.9h0M447.1 438.8h0M433.5 424.4h0M447.1 436.4h0M447.3 431.2h0M452.1 442.2h0M457.8 422.3h0M430.6 418.6h0M442.1 421.7h0M445.8 426.4h0M424.3 440.7h0M450.3 419.9h0M433.1 441.9h0M447.0 425.4h0M436.1 425.0h0M458.6 418.6h0M444.6 424.9h0M443.3 419.0h0M455.9 425.6h0M451.8 418.5h0M443.1 443.4h0M444.3 424.7h0M432.3 426.2h0M449.6 423.1h0M439.0 437.8h0M459.1 423.2h0M468.8 418.5h0M441.1 416.7h0M436.0 424.5h0M466.3 413.5h0M444.1 429.2h0M449.0 409.6h0M443.0 419.2h0M443.6 413.3h0M440.9 426.7h0M434.4 431.7h0M448.1 433.0h0M434.2 420.6h0M444.8 428.2h0M439.4 416.6h0M444.5 436.1h0M436.4 434.1h0M433.5 435.9h0M432.4 439.0h0M444.0 436.4h0M440.9 418.3h0M436.0 422.5h0M447.0 422.2h0M449.6 425.5h0M440.3 424.9h0M442.2 432.1h0M456.4 421.0h0M445.1 435.5h0M457.0 417.8h0M434.0 426.2h0M455.7 421.4h0M453.2 424.3h0M450.0 429.7h0M443.7 423.1h0M445.3 445.7h0M435.8 436.1h0M442.6 418.2h0M443.8 434.7h0M433.7 422.3h0M451.4 415.6h0M455.2 433.6h0M438.7 430.7h0M455.2 431.9h0M426.8 421.4h0M445.6 436.2h0M458.7 427.1h0M443.8 421.5h0M451.2 426.3h0M462.3 437.8h0M451.9 419.8h0M444.2 436.4h0M447.4 431.3h0M439.6 411.7h0M451.4 440.1h0M441.2 430.5h0M428.5 443.3h0M466.4 432.8h0M435.8 431.3h0M446.3 430.3h0M439.7 432.9h0M446.4 418.6h0" stroke="#111" stroke-width="1.05" stroke-linecap="square" fill="none" opacity="0.88"/>
<path d="M460.4 455.9h.9M463.5 461.2h.9M465.3 450.3h.9M474.6 449.2h.9M465.3 427.8h.9M470.1 463.1h.9M465.1 451.4h.9M464.4 454.4h.9M468.5 457.1h.9M463.3 445.2h.9M462.4 448.6h.9M460.6 434.3h.9M461.2 457.2h.9M465.6 443.3h.9M460.8 432.7h.9M475.0 432.7h.9M471.4 455.1h.9M464.7 451.7h.9M468.4 464.6h.9M462.1 438.4h.9M468.1 454.1h.9M463.5 443.5h.9M472.4 432.7h.9M460.5 431.3h.9M467.9 444.2h.9M475.4 426.6h.9M468.1 428.9h.9M463.7 434.2h.9M469.0 446.4h.9M474.5 435.0h.9M470.4 453.7h.9M469.5 456.7h.9M464.3 432.5h.9M462.2 425.9h.9M475.7 431.7h.9M467.8 448.6h.9M463.8 461.2h.9M464.0 461.4h.9M471.7 449.3h.9M469.8 427.8h.9M471.1 427.3h.9M460.3 463.3h.9M468.4 425.7h.9M464.1 442.8h.9M464.0 439.4h.9" stroke="#fff" stroke-width="0.9" fill="none" opacity="0.8"/>
</g>
<rect x="417.50" y="377.50" width="97.00" height="90.00" fill="none" stroke="#111" stroke-width="1.15"/>
<line x1="445.50" y1="377.50" x2="445.50" y2="467.50" stroke="#111" stroke-width="1.15"/>
<line x1="417.50" y1="440.50" x2="514.50" y2="440.50" stroke="#111" stroke-width="1.15"/>
<path d="M417.50 467.50v3.2M417.50 467.50h-3.2M424.80 467.50v1.8M417.50 460.73h-1.8M429.07 467.50v1.8M417.50 456.76h-1.8M432.10 467.50v1.8M417.50 453.95h-1.8M434.45 467.50v1.8M417.50 451.77h-1.8M436.37 467.50v1.8M417.50 449.99h-1.8M437.99 467.50v1.8M417.50 448.49h-1.8M439.40 467.50v1.8M417.50 447.18h-1.8M440.64 467.50v1.8M417.50 446.03h-1.8M441.75 467.50v3.2M417.50 445.00h-3.2M449.05 467.50v1.8M417.50 438.23h-1.8M453.32 467.50v1.8M417.50 434.26h-1.8M456.35 467.50v1.8M417.50 431.45h-1.8M458.70 467.50v1.8M417.50 429.27h-1.8M460.62 467.50v1.8M417.50 427.49h-1.8M462.24 467.50v1.8M417.50 425.99h-1.8M463.65 467.50v1.8M417.50 424.68h-1.8M464.89 467.50v1.8M417.50 423.53h-1.8M466.00 467.50v3.2M417.50 422.50h-3.2M473.30 467.50v1.8M417.50 415.73h-1.8M477.57 467.50v1.8M417.50 411.76h-1.8M480.60 467.50v1.8M417.50 408.95h-1.8M482.95 467.50v1.8M417.50 406.77h-1.8M484.87 467.50v1.8M417.50 404.99h-1.8M486.49 467.50v1.8M417.50 403.49h-1.8M487.90 467.50v1.8M417.50 402.18h-1.8M489.14 467.50v1.8M417.50 401.03h-1.8M490.25 467.50v3.2M417.50 400.00h-3.2M497.55 467.50v1.8M417.50 393.23h-1.8M501.82 467.50v1.8M417.50 389.26h-1.8M504.85 467.50v1.8M417.50 386.45h-1.8M507.20 467.50v1.8M417.50 384.27h-1.8M509.12 467.50v1.8M417.50 382.49h-1.8M510.74 467.50v1.8M417.50 380.99h-1.8M512.15 467.50v1.8M417.50 379.68h-1.8M513.39 467.50v1.8M417.50 378.53h-1.8M514.50 467.50v3.2M417.50 377.50h-3.2" stroke="#111" stroke-width="0.9" fill="none"/>
<text transform="translate(412.50 482.30) scale(0.88 1)" font-family="Liberation Sans, Arial, sans-serif" font-size="9.0" font-weight="normal" text-anchor="start" fill="#222"  stroke="#222" stroke-width="0.25">10</text>
<text transform="translate(421.10 476.70) scale(0.88 1)" font-family="Liberation Sans, Arial, sans-serif" font-size="7.4" font-weight="normal" text-anchor="start" fill="#222"  stroke="#222" stroke-width="0.25">0</text>
<text transform="translate(411.60 474.40) rotate(-90) scale(0.88 1)" font-family="Liberation Sans, Arial, sans-serif" font-size="9.0" font-weight="normal" text-anchor="start" fill="#222">10</text>
<text transform="translate(407.20 464.30) rotate(-90) scale(0.88 1)" font-family="Liberation Sans, Arial, sans-serif" font-size="7.4" font-weight="normal" text-anchor="start" fill="#222">0</text>
<text transform="translate(436.75 482.30) scale(0.88 1)" font-family="Liberation Sans, Arial, sans-serif" font-size="9.0" font-weight="normal" text-anchor="start" fill="#222"  stroke="#222" stroke-width="0.25">10</text>
<text transform="translate(445.35 476.70) scale(0.88 1)" font-family="Liberation Sans, Arial, sans-serif" font-size="7.4" font-weight="normal" text-anchor="start" fill="#222"  stroke="#222" stroke-width="0.25">1</text>
<text transform="translate(411.60 451.90) rotate(-90) scale(0.88 1)" font-family="Liberation Sans, Arial, sans-serif" font-size="9.0" font-weight="normal" text-anchor="start" fill="#222">10</text>
<text transform="translate(407.20 441.80) rotate(-90) scale(0.88 1)" font-family="Liberation Sans, Arial, sans-serif" font-size="7.4" font-weight="normal" text-anchor="start" fill="#222">1</text>
<text transform="translate(461.00 482.30) scale(0.88 1)" font-family="Liberation Sans, Arial, sans-serif" font-size="9.0" font-weight="normal" text-anchor="start" fill="#222"  stroke="#222" stroke-width="0.25">10</text>
<text transform="translate(469.60 476.70) scale(0.88 1)" font-family="Liberation Sans, Arial, sans-serif" font-size="7.4" font-weight="normal" text-anchor="start" fill="#222"  stroke="#222" stroke-width="0.25">2</text>
<text transform="translate(411.60 429.40) rotate(-90) scale(0.88 1)" font-family="Liberation Sans, Arial, sans-serif" font-size="9.0" font-weight="normal" text-anchor="start" fill="#222">10</text>
<text transform="translate(407.20 419.30) rotate(-90) scale(0.88 1)" font-family="Liberation Sans, Arial, sans-serif" font-size="7.4" font-weight="normal" text-anchor="start" fill="#222">2</text>
<text transform="translate(485.25 482.30) scale(0.88 1)" font-family="Liberation Sans, Arial, sans-serif" font-size="9.0" font-weight="normal" text-anchor="start" fill="#222"  stroke="#222" stroke-width="0.25">10</text>
<text transform="translate(493.85 476.70) scale(0.88 1)" font-family="Liberation Sans, Arial, sans-serif" font-size="7.4" font-weight="normal" text-anchor="start" fill="#222"  stroke="#222" stroke-width="0.25">3</text>
<text transform="translate(411.60 406.90) rotate(-90) scale(0.88 1)" font-family="Liberation Sans, Arial, sans-serif" font-size="9.0" font-weight="normal" text-anchor="start" fill="#222">10</text>
<text transform="translate(407.20 396.80) rotate(-90) scale(0.88 1)" font-family="Liberation Sans, Arial, sans-serif" font-size="7.4" font-weight="normal" text-anchor="start" fill="#222">3</text>
<text transform="translate(509.50 482.30) scale(0.88 1)" font-family="Liberation Sans, Arial, sans-serif" font-size="9.0" font-weight="normal" text-anchor="start" fill="#222"  stroke="#222" stroke-width="0.25">10</text>
<text transform="translate(518.10 476.70) scale(0.88 1)" font-family="Liberation Sans, Arial, sans-serif" font-size="7.4" font-weight="normal" text-anchor="start" fill="#222"  stroke="#222" stroke-width="0.25">4</text>
<text transform="translate(411.60 384.40) rotate(-90) scale(0.88 1)" font-family="Liberation Sans, Arial, sans-serif" font-size="9.0" font-weight="normal" text-anchor="start" fill="#222">10</text>
<text transform="translate(407.20 374.30) rotate(-90) scale(0.88 1)" font-family="Liberation Sans, Arial, sans-serif" font-size="7.4" font-weight="normal" text-anchor="start" fill="#222">4</text>
<text transform="translate(401.20 440.00) rotate(-90) scale(0.98 1)" font-family="Liberation Sans, Arial, sans-serif" font-size="8.2" font-weight="normal" text-anchor="start" fill="#222">TOPRO</text>
<text transform="translate(465.10 490.90) scale(0.95 1)" font-family="Liberation Sans, Arial, sans-serif" font-size="8.0" font-weight="normal" text-anchor="middle" fill="#222"  stroke="#222" stroke-width="0.25">AnnexinFITC</text>
<text x="510.20" y="390.70" font-family="Liberation Sans, Arial, sans-serif" font-size="8.2" font-weight="normal" text-anchor="end" fill="#333" >56%</text>
<text x="510.20" y="456.95" font-family="Liberation Sans, Arial, sans-serif" font-size="8.2" font-weight="normal" text-anchor="end" fill="#333" >29%</text>
</svg></body></html>
